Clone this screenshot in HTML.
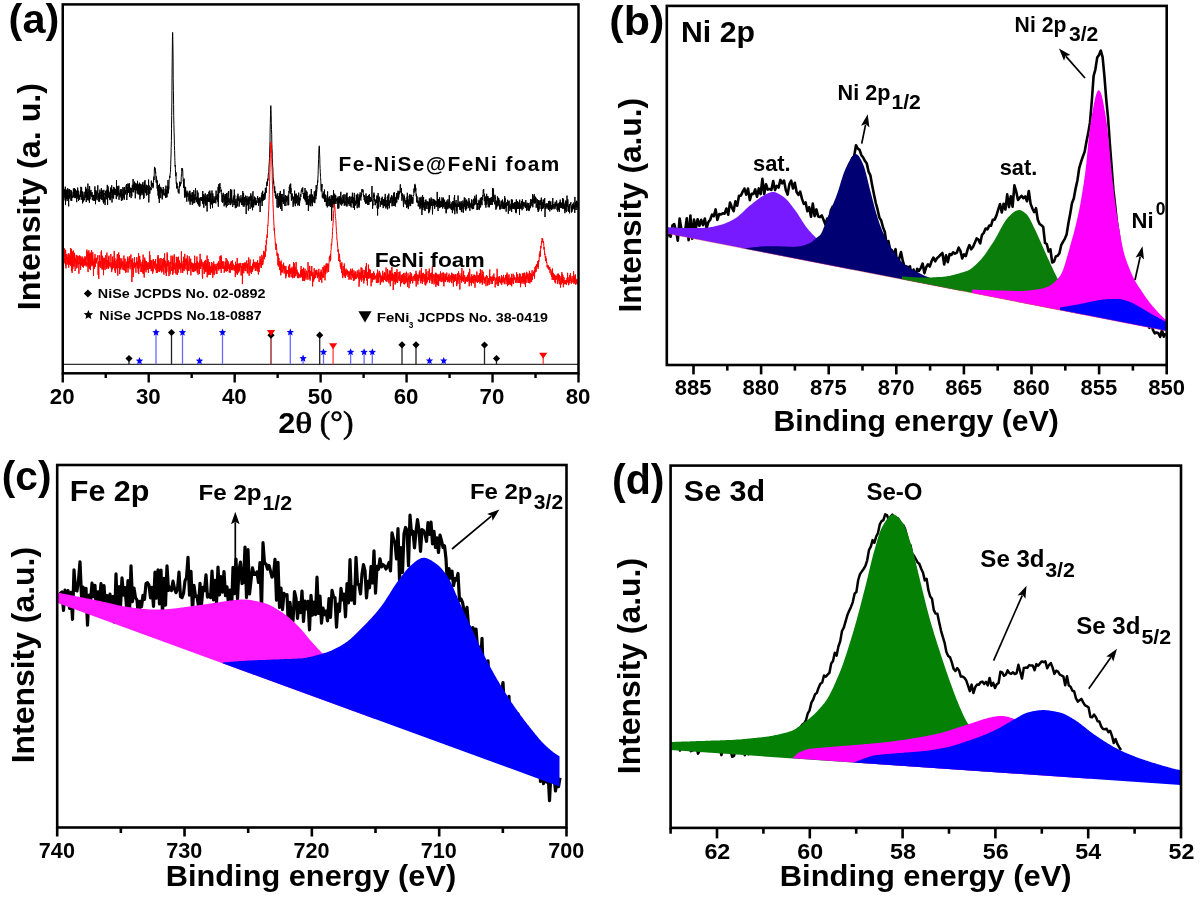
<!DOCTYPE html>
<html><head><meta charset="utf-8"><style>html,body{margin:0;padding:0;background:#fff;}svg{display:block;filter:blur(0.45px);}</style></head>
<body><svg width="1200" height="898" viewBox="0 0 1200 898">
<rect width="1200" height="898" fill="#fff"/>
<clipPath id="ca"><rect x="62.8" y="4.4" width="515.8" height="368.9"/></clipPath>
<g clip-path="url(#ca)">
<path d="M63.8,188.9 L63.9,200.4 L64.1,191.3 L64.3,193.9 L64.4,194.7 L64.6,191.9 L64.8,189.2 L64.9,197.8 L65.1,196.6 L65.3,186.7 L65.5,205.1 L65.6,199.2 L65.8,191.8 L66.0,199.0 L66.1,193.1 L66.3,194.8 L66.5,198.5 L66.6,189.7 L66.8,197.6 L67.0,201.1 L67.2,200.8 L67.3,193.8 L67.5,199.0 L67.7,188.2 L67.8,194.5 L68.0,197.1 L68.2,189.4 L68.3,194.8 L68.5,202.5 L68.7,206.4 L68.9,195.1 L69.0,198.7 L69.2,191.1 L69.4,190.0 L69.5,189.1 L69.7,197.5 L69.9,198.4 L70.0,192.4 L70.2,189.9 L70.4,196.3 L70.6,196.5 L70.7,194.6 L70.9,200.6 L71.1,194.8 L71.2,194.9 L71.4,190.5 L71.6,195.8 L71.7,201.0 L71.9,195.5 L72.1,195.5 L72.3,197.1 L72.4,196.4 L72.6,197.5 L72.8,197.5 L72.9,197.9 L73.1,191.8 L73.3,196.5 L73.4,188.4 L73.6,196.4 L73.8,189.8 L74.0,194.9 L74.1,197.3 L74.3,193.5 L74.5,195.7 L74.6,188.2 L74.8,191.6 L75.0,198.2 L75.1,190.3 L75.3,198.0 L75.5,189.3 L75.7,191.4 L75.8,190.6 L76.0,195.3 L76.2,197.5 L76.3,190.7 L76.5,194.5 L76.7,202.2 L76.8,193.9 L77.0,191.8 L77.2,196.9 L77.4,194.3 L77.5,192.3 L77.7,187.6 L77.9,198.8 L78.0,192.8 L78.2,195.3 L78.4,190.7 L78.5,200.8 L78.7,198.5 L78.9,199.5 L79.1,194.8 L79.2,197.3 L79.4,199.1 L79.6,199.6 L79.7,196.6 L79.9,195.0 L80.1,193.7 L80.2,192.1 L80.4,191.2 L80.6,196.8 L80.8,194.2 L80.9,186.8 L81.1,194.6 L81.3,199.8 L81.4,194.1 L81.6,187.4 L81.8,194.7 L81.9,198.6 L82.1,196.1 L82.3,193.4 L82.5,191.5 L82.6,203.4 L82.8,194.8 L83.0,198.7 L83.1,196.9 L83.3,198.6 L83.5,201.5 L83.6,198.8 L83.8,195.6 L84.0,192.5 L84.2,191.8 L84.3,195.1 L84.5,200.2 L84.7,196.5 L84.8,195.5 L85.0,196.3 L85.2,195.4 L85.3,197.6 L85.5,190.5 L85.7,186.8 L85.9,193.4 L86.0,190.3 L86.2,202.1 L86.4,194.6 L86.5,194.2 L86.7,188.7 L86.9,196.4 L87.0,192.6 L87.2,200.0 L87.4,198.8 L87.6,191.9 L87.7,197.0 L87.9,183.6 L88.1,192.4 L88.2,200.5 L88.4,198.6 L88.6,196.0 L88.7,195.1 L88.9,189.2 L89.1,189.4 L89.3,196.1 L89.4,202.7 L89.6,186.0 L89.8,197.9 L89.9,197.7 L90.1,199.2 L90.3,191.5 L90.4,192.9 L90.6,195.4 L90.8,190.8 L91.0,189.9 L91.1,191.4 L91.3,194.9 L91.5,196.7 L91.6,195.1 L91.8,195.5 L92.0,192.2 L92.1,192.1 L92.3,199.9 L92.5,194.9 L92.7,194.8 L92.8,199.1 L93.0,200.4 L93.2,200.5 L93.3,196.8 L93.5,194.9 L93.7,196.3 L93.8,195.9 L94.0,201.0 L94.2,196.3 L94.4,197.8 L94.5,195.0 L94.7,200.9 L94.9,186.4 L95.0,196.7 L95.2,198.3 L95.4,190.2 L95.5,204.2 L95.7,194.4 L95.9,194.4 L96.1,190.5 L96.2,198.8 L96.4,196.0 L96.6,192.5 L96.7,196.0 L96.9,197.9 L97.1,200.2 L97.2,195.9 L97.4,190.9 L97.6,192.7 L97.8,185.3 L97.9,191.9 L98.1,198.1 L98.3,197.0 L98.4,194.5 L98.6,193.5 L98.8,201.7 L98.9,196.2 L99.1,198.8 L99.3,196.6 L99.5,192.1 L99.6,201.5 L99.8,189.7 L100.0,189.9 L100.1,193.1 L100.3,191.9 L100.5,192.6 L100.6,192.4 L100.8,199.1 L101.0,195.2 L101.2,196.4 L101.3,188.2 L101.5,191.3 L101.7,199.5 L101.8,189.8 L102.0,199.9 L102.2,190.5 L102.3,196.1 L102.5,191.3 L102.7,195.7 L102.9,191.0 L103.0,193.7 L103.2,201.9 L103.4,193.2 L103.5,203.4 L103.7,192.8 L103.9,189.8 L104.0,195.1 L104.2,193.0 L104.4,202.2 L104.6,198.4 L104.7,199.7 L104.9,197.4 L105.1,205.1 L105.2,198.0 L105.4,196.9 L105.6,191.1 L105.7,190.8 L105.9,195.4 L106.1,198.8 L106.3,199.3 L106.4,190.6 L106.6,196.8 L106.8,195.4 L106.9,189.8 L107.1,190.3 L107.3,184.9 L107.4,195.6 L107.6,204.9 L107.8,190.2 L108.0,194.5 L108.1,186.4 L108.3,191.2 L108.5,197.6 L108.6,190.0 L108.8,194.2 L109.0,192.8 L109.1,192.7 L109.3,195.1 L109.5,196.3 L109.7,199.5 L109.8,197.8 L110.0,191.9 L110.2,200.2 L110.3,199.5 L110.5,187.6 L110.7,197.0 L110.8,197.6 L111.0,198.2 L111.2,196.4 L111.4,188.6 L111.5,192.9 L111.7,185.3 L111.9,193.4 L112.0,202.5 L112.2,196.8 L112.4,197.5 L112.5,191.8 L112.7,189.6 L112.9,189.4 L113.1,194.4 L113.2,190.5 L113.4,191.1 L113.6,198.6 L113.7,186.9 L113.9,188.2 L114.1,191.6 L114.2,193.3 L114.4,193.2 L114.6,187.8 L114.8,194.5 L114.9,193.1 L115.1,195.1 L115.3,189.0 L115.4,194.6 L115.6,194.5 L115.8,190.7 L115.9,192.6 L116.1,191.1 L116.3,199.1 L116.5,180.3 L116.6,187.3 L116.8,186.2 L117.0,191.8 L117.1,190.5 L117.3,191.6 L117.5,196.3 L117.6,186.4 L117.8,189.7 L118.0,192.3 L118.2,188.1 L118.3,194.7 L118.5,194.5 L118.7,190.1 L118.8,185.7 L119.0,199.8 L119.2,195.0 L119.3,194.8 L119.5,193.3 L119.7,192.9 L119.9,196.4 L120.0,192.8 L120.2,190.2 L120.4,195.8 L120.5,193.1 L120.7,189.6 L120.9,189.0 L121.0,197.6 L121.2,195.3 L121.4,200.9 L121.6,190.4 L121.7,189.4 L121.9,194.2 L122.1,198.2 L122.2,194.9 L122.4,194.2 L122.6,200.2 L122.7,189.1 L122.9,187.0 L123.1,189.0 L123.3,190.8 L123.4,193.6 L123.6,196.3 L123.8,193.6 L123.9,198.2 L124.1,188.3 L124.3,199.7 L124.4,187.1 L124.6,191.6 L124.8,187.6 L125.0,192.9 L125.1,191.6 L125.3,193.5 L125.5,194.4 L125.6,190.3 L125.8,190.9 L126.0,192.1 L126.1,185.5 L126.3,187.9 L126.5,184.1 L126.7,190.8 L126.8,200.0 L127.0,193.7 L127.2,187.0 L127.3,187.5 L127.5,194.5 L127.7,188.4 L127.8,183.6 L128.0,186.0 L128.2,185.8 L128.4,185.8 L128.5,192.8 L128.7,190.3 L128.9,183.7 L129.0,187.6 L129.2,185.0 L129.4,184.6 L129.5,183.3 L129.7,196.9 L129.9,188.2 L130.1,191.8 L130.2,193.0 L130.4,187.7 L130.6,191.5 L130.7,191.5 L130.9,190.1 L131.1,198.1 L131.2,190.2 L131.4,188.0 L131.6,191.6 L131.8,196.3 L131.9,193.0 L132.1,186.8 L132.3,185.2 L132.4,184.8 L132.6,185.9 L132.8,190.2 L132.9,192.1 L133.1,179.1 L133.3,188.5 L133.5,183.9 L133.6,191.3 L133.8,192.3 L134.0,185.2 L134.1,186.5 L134.3,184.4 L134.5,190.0 L134.6,181.6 L134.8,183.6 L135.0,185.5 L135.2,193.4 L135.3,198.3 L135.5,188.4 L135.7,183.2 L135.8,188.6 L136.0,184.7 L136.2,190.2 L136.3,183.7 L136.5,186.8 L136.7,188.2 L136.9,190.5 L137.0,188.0 L137.2,193.6 L137.4,188.8 L137.5,180.8 L137.7,192.2 L137.9,187.1 L138.0,185.6 L138.2,194.6 L138.4,184.3 L138.6,188.7 L138.7,185.5 L138.9,194.0 L139.1,186.9 L139.2,189.4 L139.4,182.7 L139.6,194.4 L139.7,184.1 L139.9,199.4 L140.1,193.2 L140.3,193.7 L140.4,196.1 L140.6,183.8 L140.8,190.3 L140.9,189.2 L141.1,190.4 L141.3,193.3 L141.4,189.2 L141.6,185.4 L141.8,188.4 L142.0,195.2 L142.1,184.0 L142.3,189.2 L142.5,184.9 L142.6,193.5 L142.8,182.2 L143.0,187.6 L143.1,188.5 L143.3,189.5 L143.5,198.8 L143.7,195.5 L143.8,184.9 L144.0,198.1 L144.2,184.3 L144.3,181.5 L144.5,183.1 L144.7,190.1 L144.8,191.5 L145.0,180.2 L145.2,191.2 L145.4,188.3 L145.5,192.3 L145.7,187.9 L145.9,193.2 L146.0,191.8 L146.2,184.7 L146.4,195.5 L146.5,190.4 L146.7,192.6 L146.9,194.8 L147.1,185.6 L147.2,189.3 L147.4,186.3 L147.6,185.8 L147.7,190.7 L147.9,191.0 L148.1,195.0 L148.2,195.2 L148.4,189.5 L148.6,179.6 L148.8,202.4 L148.9,198.1 L149.1,189.0 L149.3,185.6 L149.4,187.6 L149.6,190.4 L149.8,193.7 L149.9,192.9 L150.1,190.7 L150.3,187.9 L150.5,189.4 L150.6,187.4 L150.8,188.8 L151.0,187.9 L151.1,190.2 L151.3,180.7 L151.5,186.4 L151.6,186.4 L151.8,183.0 L152.0,186.4 L152.2,182.8 L152.3,183.9 L152.5,184.9 L152.7,184.6 L152.8,182.9 L153.0,188.2 L153.2,184.3 L153.3,186.5 L153.5,182.6 L153.7,178.6 L153.9,176.6 L154.0,180.0 L154.2,174.9 L154.4,169.5 L154.5,166.9 L154.7,170.7 L154.9,167.7 L155.0,168.8 L155.2,168.5 L155.4,170.2 L155.6,172.7 L155.7,172.0 L155.9,177.1 L156.1,181.8 L156.2,182.6 L156.4,176.4 L156.6,178.7 L156.7,179.6 L156.9,184.1 L157.1,188.6 L157.3,187.5 L157.4,180.6 L157.6,187.6 L157.8,190.8 L157.9,186.6 L158.1,195.7 L158.3,186.5 L158.4,193.7 L158.6,198.5 L158.8,185.0 L159.0,188.9 L159.1,192.5 L159.3,202.9 L159.5,183.8 L159.6,193.1 L159.8,192.2 L160.0,189.6 L160.1,188.2 L160.3,189.5 L160.5,190.5 L160.7,186.8 L160.8,198.1 L161.0,187.7 L161.2,190.4 L161.3,189.6 L161.5,190.7 L161.7,192.7 L161.8,189.4 L162.0,191.6 L162.2,199.4 L162.4,196.8 L162.5,191.5 L162.7,196.2 L162.9,189.6 L163.0,193.6 L163.2,187.1 L163.4,188.2 L163.5,189.3 L163.7,194.7 L163.9,193.6 L164.1,194.8 L164.2,193.2 L164.4,194.0 L164.6,194.2 L164.7,195.5 L164.9,193.1 L165.1,188.8 L165.2,189.2 L165.4,196.9 L165.6,197.6 L165.8,194.2 L165.9,185.6 L166.1,197.7 L166.3,192.8 L166.4,191.1 L166.6,191.3 L166.8,189.6 L166.9,197.3 L167.1,196.7 L167.3,186.3 L167.5,189.2 L167.6,190.6 L167.8,193.6 L168.0,180.1 L168.1,191.3 L168.3,193.2 L168.5,185.8 L168.6,186.0 L168.8,189.4 L169.0,185.7 L169.2,179.5 L169.3,179.0 L169.5,178.3 L169.7,175.9 L169.8,178.0 L170.0,174.9 L170.2,174.0 L170.3,172.7 L170.5,171.1 L170.7,164.8 L170.9,158.2 L171.0,156.0 L171.2,147.7 L171.4,140.5 L171.5,128.2 L171.7,115.7 L171.9,99.0 L172.0,80.1 L172.2,61.3 L172.4,41.6 L172.6,32.4 L172.7,33.6 L172.9,44.1 L173.1,58.8 L173.2,78.6 L173.4,90.5 L173.6,104.3 L173.7,115.3 L173.9,124.5 L174.1,132.3 L174.3,139.1 L174.4,145.4 L174.6,150.3 L174.8,157.5 L174.9,160.7 L175.1,166.5 L175.3,165.1 L175.4,169.8 L175.6,172.9 L175.8,176.2 L176.0,172.3 L176.1,181.8 L176.3,183.7 L176.5,184.4 L176.6,181.8 L176.8,188.4 L177.0,183.2 L177.1,188.3 L177.3,185.9 L177.5,186.5 L177.7,186.4 L177.8,187.2 L178.0,191.1 L178.2,192.4 L178.3,192.5 L178.5,190.9 L178.7,190.1 L178.8,189.4 L179.0,193.6 L179.2,186.2 L179.4,185.5 L179.5,187.4 L179.7,181.7 L179.9,185.8 L180.0,186.0 L180.2,182.5 L180.4,183.2 L180.5,186.2 L180.7,182.6 L180.9,182.3 L181.1,183.5 L181.2,177.7 L181.4,174.8 L181.6,175.3 L181.7,174.1 L181.9,168.1 L182.1,170.7 L182.2,168.5 L182.4,168.6 L182.6,169.0 L182.8,172.0 L182.9,176.6 L183.1,178.2 L183.3,181.2 L183.4,180.2 L183.6,187.2 L183.8,188.0 L183.9,185.6 L184.1,178.6 L184.3,187.9 L184.5,197.5 L184.6,189.1 L184.8,186.5 L185.0,196.4 L185.1,188.9 L185.3,193.3 L185.5,194.7 L185.6,187.1 L185.8,193.3 L186.0,197.6 L186.2,192.3 L186.3,196.3 L186.5,194.0 L186.7,198.3 L186.8,201.7 L187.0,190.7 L187.2,194.0 L187.3,196.8 L187.5,193.1 L187.7,192.5 L187.9,194.5 L188.0,195.0 L188.2,193.6 L188.4,197.6 L188.5,199.6 L188.7,199.5 L188.9,199.3 L189.0,201.5 L189.2,191.4 L189.4,196.5 L189.6,197.8 L189.7,199.2 L189.9,190.7 L190.1,204.7 L190.2,193.7 L190.4,198.4 L190.6,200.3 L190.7,201.8 L190.9,194.7 L191.1,195.4 L191.3,199.1 L191.4,200.0 L191.6,201.3 L191.8,197.5 L191.9,194.9 L192.1,192.4 L192.3,204.8 L192.4,192.3 L192.6,200.7 L192.8,199.0 L193.0,201.0 L193.1,201.8 L193.3,203.4 L193.5,197.8 L193.6,199.6 L193.8,190.2 L194.0,198.3 L194.1,194.4 L194.3,197.5 L194.5,203.1 L194.7,198.6 L194.8,202.6 L195.0,197.4 L195.2,199.8 L195.3,196.6 L195.5,188.0 L195.7,195.4 L195.8,197.2 L196.0,199.0 L196.2,198.4 L196.4,197.9 L196.5,202.2 L196.7,200.9 L196.9,196.8 L197.0,202.0 L197.2,190.4 L197.4,197.3 L197.5,197.9 L197.7,203.8 L197.9,196.4 L198.1,192.6 L198.2,199.3 L198.4,205.4 L198.6,197.7 L198.7,198.2 L198.9,197.8 L199.1,198.8 L199.2,203.9 L199.4,206.6 L199.6,200.6 L199.8,198.3 L199.9,206.2 L200.1,199.1 L200.3,199.0 L200.4,197.3 L200.6,197.5 L200.8,199.7 L200.9,197.6 L201.1,200.5 L201.3,199.2 L201.5,201.0 L201.6,197.3 L201.8,198.0 L202.0,199.8 L202.1,199.1 L202.3,199.3 L202.5,203.6 L202.6,194.5 L202.8,191.1 L203.0,201.8 L203.2,197.9 L203.3,204.4 L203.5,198.6 L203.7,194.2 L203.8,207.8 L204.0,200.6 L204.2,195.4 L204.3,195.9 L204.5,201.2 L204.7,196.3 L204.9,200.6 L205.0,203.7 L205.2,193.4 L205.4,197.6 L205.5,200.9 L205.7,205.7 L205.9,202.8 L206.0,197.2 L206.2,204.9 L206.4,197.6 L206.6,198.4 L206.7,200.6 L206.9,194.7 L207.1,211.5 L207.2,203.9 L207.4,200.0 L207.6,196.8 L207.7,194.4 L207.9,200.6 L208.1,201.9 L208.3,199.8 L208.4,198.3 L208.6,201.4 L208.8,198.9 L208.9,191.7 L209.1,201.8 L209.3,200.1 L209.4,202.1 L209.6,196.1 L209.8,190.6 L210.0,194.1 L210.1,200.4 L210.3,205.4 L210.5,208.6 L210.6,200.4 L210.8,193.3 L211.0,197.8 L211.1,201.0 L211.3,200.9 L211.5,199.5 L211.7,204.5 L211.8,195.6 L212.0,190.5 L212.2,195.6 L212.3,194.5 L212.5,208.1 L212.7,198.4 L212.8,193.4 L213.0,201.6 L213.2,203.1 L213.4,199.3 L213.5,199.9 L213.7,203.2 L213.9,201.1 L214.0,196.3 L214.2,201.4 L214.4,202.7 L214.5,200.3 L214.7,202.4 L214.9,201.2 L215.1,197.9 L215.2,198.3 L215.4,201.2 L215.6,196.6 L215.7,203.2 L215.9,203.4 L216.1,190.6 L216.2,198.2 L216.4,195.4 L216.6,195.8 L216.8,198.7 L216.9,197.3 L217.1,200.0 L217.3,198.8 L217.4,198.8 L217.6,194.1 L217.8,195.5 L217.9,201.8 L218.1,186.8 L218.3,206.7 L218.5,192.7 L218.6,198.0 L218.8,184.1 L219.0,190.4 L219.1,193.2 L219.3,189.6 L219.5,190.6 L219.6,183.8 L219.8,183.7 L220.0,183.1 L220.2,186.5 L220.3,187.3 L220.5,187.0 L220.7,188.0 L220.8,189.4 L221.0,191.9 L221.2,189.6 L221.3,193.6 L221.5,194.2 L221.7,193.4 L221.9,193.9 L222.0,201.9 L222.2,194.6 L222.4,198.8 L222.5,202.7 L222.7,200.6 L222.9,198.1 L223.0,202.1 L223.2,192.8 L223.4,193.7 L223.6,197.1 L223.7,197.9 L223.9,198.5 L224.1,206.3 L224.2,205.7 L224.4,198.9 L224.6,200.2 L224.7,195.6 L224.9,200.5 L225.1,194.0 L225.3,204.9 L225.4,197.4 L225.6,201.7 L225.8,194.3 L225.9,205.1 L226.1,202.0 L226.3,207.4 L226.4,199.9 L226.6,193.2 L226.8,196.6 L227.0,193.0 L227.1,206.0 L227.3,197.3 L227.5,196.8 L227.6,202.2 L227.8,200.9 L228.0,201.8 L228.1,197.8 L228.3,191.9 L228.5,194.5 L228.7,191.1 L228.8,205.0 L229.0,203.5 L229.2,198.4 L229.3,202.4 L229.5,202.6 L229.7,202.5 L229.8,202.1 L230.0,203.5 L230.2,200.3 L230.4,191.1 L230.5,189.0 L230.7,205.1 L230.9,202.4 L231.0,190.0 L231.2,200.8 L231.4,196.6 L231.5,197.9 L231.7,189.7 L231.9,203.2 L232.1,199.8 L232.2,203.4 L232.4,204.5 L232.6,205.3 L232.7,206.7 L232.9,201.3 L233.1,201.0 L233.2,197.6 L233.4,202.3 L233.6,199.2 L233.8,195.5 L233.9,205.0 L234.1,203.0 L234.3,189.5 L234.4,192.7 L234.6,199.3 L234.8,194.8 L234.9,205.1 L235.1,201.0 L235.3,208.2 L235.5,204.0 L235.6,205.6 L235.8,199.2 L236.0,202.8 L236.1,201.3 L236.3,203.5 L236.5,207.6 L236.6,206.0 L236.8,202.5 L237.0,198.4 L237.2,200.8 L237.3,195.8 L237.5,201.6 L237.7,206.4 L237.8,197.9 L238.0,193.7 L238.2,200.0 L238.3,198.3 L238.5,200.3 L238.7,198.0 L238.9,200.7 L239.0,196.3 L239.2,206.6 L239.4,199.4 L239.5,202.4 L239.7,203.4 L239.9,199.7 L240.0,202.2 L240.2,199.4 L240.4,198.6 L240.6,199.5 L240.7,202.3 L240.9,195.3 L241.1,196.7 L241.2,197.2 L241.4,198.1 L241.6,205.0 L241.7,200.3 L241.9,199.2 L242.1,201.0 L242.3,204.6 L242.4,197.4 L242.6,204.5 L242.8,191.1 L242.9,196.9 L243.1,206.3 L243.3,206.6 L243.4,201.2 L243.6,193.0 L243.8,203.7 L244.0,198.8 L244.1,206.6 L244.3,205.2 L244.5,203.5 L244.6,197.1 L244.8,205.1 L245.0,199.5 L245.1,199.6 L245.3,198.8 L245.5,195.6 L245.7,202.5 L245.8,203.9 L246.0,203.9 L246.2,214.1 L246.3,199.2 L246.5,205.2 L246.7,197.9 L246.8,199.8 L247.0,195.9 L247.2,205.4 L247.4,201.6 L247.5,200.5 L247.7,200.1 L247.9,204.3 L248.0,198.6 L248.2,202.2 L248.4,210.6 L248.5,200.0 L248.7,198.1 L248.9,196.6 L249.1,203.8 L249.2,200.9 L249.4,197.6 L249.6,197.3 L249.7,200.7 L249.9,196.6 L250.1,209.0 L250.2,199.9 L250.4,199.9 L250.6,200.2 L250.8,193.4 L250.9,194.9 L251.1,199.2 L251.3,200.5 L251.4,195.7 L251.6,207.3 L251.8,202.4 L251.9,205.7 L252.1,205.2 L252.3,199.7 L252.5,210.3 L252.6,201.1 L252.8,193.1 L253.0,191.3 L253.1,200.6 L253.3,204.0 L253.5,200.9 L253.6,207.4 L253.8,199.4 L254.0,202.8 L254.2,203.5 L254.3,196.5 L254.5,201.8 L254.7,202.0 L254.8,204.9 L255.0,205.3 L255.2,204.4 L255.3,197.5 L255.5,203.4 L255.7,204.7 L255.9,200.6 L256.0,203.4 L256.2,203.5 L256.4,205.1 L256.5,200.7 L256.7,202.3 L256.9,201.2 L257.0,200.7 L257.2,198.0 L257.4,199.1 L257.6,196.0 L257.7,199.6 L257.9,203.0 L258.1,202.7 L258.2,203.2 L258.4,199.8 L258.6,205.7 L258.7,198.4 L258.9,203.2 L259.1,201.8 L259.3,197.3 L259.4,197.4 L259.6,203.0 L259.8,200.2 L259.9,201.1 L260.1,212.0 L260.3,202.2 L260.4,200.4 L260.6,202.8 L260.8,197.6 L261.0,199.1 L261.1,201.5 L261.3,196.6 L261.5,195.0 L261.6,198.9 L261.8,199.9 L262.0,192.6 L262.1,206.0 L262.3,198.8 L262.5,201.1 L262.7,190.8 L262.8,193.8 L263.0,198.7 L263.2,197.2 L263.3,200.6 L263.5,194.7 L263.7,194.1 L263.8,198.6 L264.0,199.6 L264.2,200.0 L264.4,196.2 L264.5,196.8 L264.7,192.6 L264.9,199.3 L265.0,198.1 L265.2,197.4 L265.4,187.8 L265.5,195.2 L265.7,189.4 L265.9,192.4 L266.1,191.3 L266.2,192.8 L266.4,187.8 L266.6,186.5 L266.7,183.8 L266.9,182.4 L267.1,185.9 L267.2,181.2 L267.4,183.8 L267.6,180.3 L267.8,178.7 L267.9,180.6 L268.1,178.9 L268.3,174.1 L268.4,174.0 L268.6,172.4 L268.8,171.2 L268.9,167.2 L269.1,164.8 L269.3,161.8 L269.5,158.6 L269.6,153.9 L269.8,146.7 L270.0,142.0 L270.1,132.8 L270.3,123.3 L270.5,114.7 L270.6,109.9 L270.8,105.6 L271.0,109.8 L271.2,115.2 L271.3,122.8 L271.5,129.4 L271.7,134.2 L271.8,142.0 L272.0,148.7 L272.2,151.1 L272.3,157.3 L272.5,163.3 L272.7,166.8 L272.9,167.9 L273.0,172.9 L273.2,176.6 L273.4,183.3 L273.5,180.3 L273.7,181.0 L273.9,185.4 L274.0,187.1 L274.2,189.0 L274.4,192.7 L274.6,189.4 L274.7,186.4 L274.9,191.4 L275.1,192.1 L275.2,195.8 L275.4,196.1 L275.6,191.4 L275.7,196.9 L275.9,198.2 L276.1,194.6 L276.3,198.9 L276.4,196.6 L276.6,196.9 L276.8,196.1 L276.9,199.8 L277.1,207.5 L277.3,198.2 L277.4,193.4 L277.6,197.0 L277.8,195.9 L278.0,199.4 L278.1,197.8 L278.3,207.9 L278.5,201.4 L278.6,205.7 L278.8,196.2 L279.0,198.2 L279.1,206.8 L279.3,192.9 L279.5,199.8 L279.7,193.5 L279.8,205.2 L280.0,194.1 L280.2,198.3 L280.3,190.9 L280.5,193.2 L280.7,209.0 L280.8,199.0 L281.0,206.0 L281.2,198.8 L281.4,194.2 L281.5,200.6 L281.7,200.5 L281.9,211.0 L282.0,195.8 L282.2,193.9 L282.4,197.2 L282.5,201.0 L282.7,202.0 L282.9,197.0 L283.1,198.6 L283.2,202.0 L283.4,204.0 L283.6,197.6 L283.7,200.4 L283.9,189.3 L284.1,196.1 L284.2,201.5 L284.4,199.8 L284.6,199.1 L284.8,205.9 L284.9,198.6 L285.1,195.5 L285.3,200.4 L285.4,200.4 L285.6,195.2 L285.8,203.3 L285.9,205.9 L286.1,197.1 L286.3,196.0 L286.5,198.9 L286.6,201.6 L286.8,196.8 L287.0,196.1 L287.1,196.4 L287.3,199.3 L287.5,199.0 L287.6,197.3 L287.8,201.9 L288.0,205.3 L288.2,194.7 L288.3,199.9 L288.5,196.6 L288.7,205.1 L288.8,191.2 L289.0,192.1 L289.2,192.6 L289.3,186.8 L289.5,189.5 L289.7,191.3 L289.9,184.6 L290.0,188.9 L290.2,193.9 L290.4,187.7 L290.5,187.7 L290.7,183.6 L290.9,192.1 L291.0,188.2 L291.2,196.2 L291.4,200.7 L291.6,197.8 L291.7,193.6 L291.9,199.2 L292.1,195.6 L292.2,193.6 L292.4,196.1 L292.6,199.1 L292.7,197.1 L292.9,200.6 L293.1,206.8 L293.3,201.2 L293.4,201.9 L293.6,196.7 L293.8,204.3 L293.9,197.5 L294.1,203.2 L294.3,196.5 L294.4,200.4 L294.6,190.7 L294.8,198.2 L295.0,196.4 L295.1,195.8 L295.3,206.2 L295.5,193.9 L295.6,199.1 L295.8,199.1 L296.0,201.7 L296.1,203.5 L296.3,193.6 L296.5,197.6 L296.7,196.9 L296.8,202.2 L297.0,203.1 L297.2,197.9 L297.3,197.4 L297.5,195.6 L297.7,200.7 L297.8,205.5 L298.0,200.6 L298.2,196.4 L298.4,195.8 L298.5,196.2 L298.7,192.6 L298.9,204.9 L299.0,198.6 L299.2,196.9 L299.4,206.0 L299.5,198.4 L299.7,202.6 L299.9,197.9 L300.1,200.4 L300.2,196.3 L300.4,194.2 L300.6,196.3 L300.7,196.6 L300.9,197.0 L301.1,193.3 L301.2,191.1 L301.4,190.0 L301.6,191.3 L301.8,188.5 L301.9,188.7 L302.1,191.2 L302.3,191.7 L302.4,192.0 L302.6,188.9 L302.8,187.4 L302.9,193.6 L303.1,193.9 L303.3,193.0 L303.5,195.6 L303.6,198.5 L303.8,195.4 L304.0,198.0 L304.1,193.8 L304.3,196.6 L304.5,194.7 L304.6,192.7 L304.8,199.8 L305.0,188.0 L305.2,198.3 L305.3,201.6 L305.5,200.4 L305.7,193.3 L305.8,200.0 L306.0,192.4 L306.2,190.6 L306.3,204.8 L306.5,200.1 L306.7,204.0 L306.9,195.4 L307.0,191.8 L307.2,195.6 L307.4,204.6 L307.5,203.2 L307.7,195.9 L307.9,199.3 L308.0,199.5 L308.2,199.1 L308.4,210.9 L308.6,200.2 L308.7,206.6 L308.9,199.3 L309.1,205.2 L309.2,195.8 L309.4,198.0 L309.6,201.3 L309.7,197.8 L309.9,194.5 L310.1,199.3 L310.3,197.9 L310.4,205.8 L310.6,204.1 L310.8,194.6 L310.9,206.3 L311.1,199.6 L311.3,189.0 L311.4,199.1 L311.6,202.9 L311.8,202.2 L312.0,197.5 L312.1,199.6 L312.3,194.5 L312.5,206.1 L312.6,196.0 L312.8,195.7 L313.0,196.3 L313.1,199.3 L313.3,201.4 L313.5,197.1 L313.7,198.4 L313.8,196.8 L314.0,202.5 L314.2,198.4 L314.3,191.3 L314.5,202.3 L314.7,198.0 L314.8,203.2 L315.0,194.0 L315.2,194.1 L315.4,194.8 L315.5,190.2 L315.7,193.2 L315.9,199.3 L316.0,192.4 L316.2,185.1 L316.4,196.0 L316.5,192.3 L316.7,192.7 L316.9,189.3 L317.1,188.5 L317.2,186.7 L317.4,185.0 L317.6,180.5 L317.7,182.7 L317.9,178.0 L318.1,174.8 L318.2,170.4 L318.4,164.9 L318.6,159.7 L318.8,153.0 L318.9,149.8 L319.1,146.7 L319.3,145.8 L319.4,146.8 L319.6,154.2 L319.8,158.1 L319.9,163.8 L320.1,168.5 L320.3,172.4 L320.5,176.2 L320.6,177.7 L320.8,181.3 L321.0,189.8 L321.1,189.6 L321.3,191.5 L321.5,189.9 L321.6,184.8 L321.8,187.2 L322.0,184.0 L322.2,196.4 L322.3,197.6 L322.5,194.6 L322.7,196.0 L322.8,196.5 L323.0,195.3 L323.2,198.6 L323.3,193.0 L323.5,195.3 L323.7,196.7 L323.9,191.4 L324.0,194.1 L324.2,199.5 L324.4,199.5 L324.5,189.5 L324.7,201.9 L324.9,200.1 L325.0,201.8 L325.2,198.9 L325.4,201.4 L325.6,194.6 L325.7,198.7 L325.9,195.6 L326.1,197.7 L326.2,204.1 L326.4,205.9 L326.6,200.0 L326.7,198.3 L326.9,203.0 L327.1,201.8 L327.3,207.4 L327.4,202.6 L327.6,191.4 L327.8,200.5 L327.9,199.1 L328.1,197.3 L328.3,200.9 L328.4,200.6 L328.6,199.1 L328.8,206.2 L329.0,201.9 L329.1,202.0 L329.3,201.1 L329.5,205.2 L329.6,196.3 L329.8,205.2 L330.0,199.7 L330.1,206.2 L330.3,205.5 L330.5,206.9 L330.7,198.9 L330.8,201.7 L331.0,202.0 L331.2,195.1 L331.3,199.4 L331.5,198.0 L331.7,220.6 L331.8,207.2 L332.0,197.9 L332.2,198.7 L332.4,195.7 L332.5,201.7 L332.7,203.8 L332.9,207.6 L333.0,195.9 L333.2,204.3 L333.4,200.2 L333.5,190.1 L333.7,199.4 L333.9,197.9 L334.1,202.5 L334.2,200.8 L334.4,205.3 L334.6,198.8 L334.7,193.7 L334.9,197.0 L335.1,202.1 L335.2,195.2 L335.4,197.9 L335.6,202.8 L335.8,195.6 L335.9,204.0 L336.1,202.1 L336.3,198.6 L336.4,200.6 L336.6,198.9 L336.8,199.3 L336.9,199.6 L337.1,200.9 L337.3,200.5 L337.5,198.0 L337.6,199.2 L337.8,208.7 L338.0,196.6 L338.1,200.2 L338.3,205.4 L338.5,204.6 L338.6,198.1 L338.8,208.4 L339.0,207.5 L339.2,199.6 L339.3,196.1 L339.5,203.2 L339.7,200.1 L339.8,199.7 L340.0,197.8 L340.2,198.6 L340.3,201.5 L340.5,204.2 L340.7,193.0 L340.9,191.8 L341.0,204.5 L341.2,197.6 L341.4,203.5 L341.5,201.2 L341.7,205.6 L341.9,204.3 L342.0,199.8 L342.2,200.2 L342.4,202.1 L342.6,203.7 L342.7,198.5 L342.9,195.1 L343.1,201.2 L343.2,200.7 L343.4,200.3 L343.6,197.1 L343.7,203.1 L343.9,194.3 L344.1,199.0 L344.3,205.8 L344.4,201.5 L344.6,202.4 L344.8,202.6 L344.9,202.5 L345.1,194.5 L345.3,204.7 L345.4,201.4 L345.6,202.7 L345.8,202.0 L346.0,201.1 L346.1,205.5 L346.3,206.3 L346.5,193.8 L346.6,197.9 L346.8,200.2 L347.0,192.7 L347.1,206.4 L347.3,197.9 L347.5,203.0 L347.7,201.7 L347.8,200.1 L348.0,197.1 L348.2,199.5 L348.3,201.2 L348.5,203.9 L348.7,200.1 L348.8,199.4 L349.0,200.0 L349.2,205.8 L349.4,202.0 L349.5,198.3 L349.7,196.1 L349.9,199.3 L350.0,197.4 L350.2,199.3 L350.4,206.0 L350.5,203.5 L350.7,201.7 L350.9,202.4 L351.1,207.4 L351.2,196.6 L351.4,202.6 L351.6,200.1 L351.7,201.4 L351.9,201.1 L352.1,199.7 L352.2,202.9 L352.4,192.7 L352.6,201.9 L352.8,203.4 L352.9,197.2 L353.1,197.2 L353.3,208.0 L353.4,197.5 L353.6,199.4 L353.8,204.6 L353.9,198.5 L354.1,198.3 L354.3,192.9 L354.5,209.7 L354.6,198.1 L354.8,202.2 L355.0,200.5 L355.1,205.8 L355.3,203.3 L355.5,205.0 L355.6,205.1 L355.8,203.8 L356.0,200.8 L356.2,204.1 L356.3,194.7 L356.5,203.9 L356.7,203.2 L356.8,201.7 L357.0,195.6 L357.2,208.2 L357.3,198.0 L357.5,202.8 L357.7,193.6 L357.9,199.7 L358.0,197.9 L358.2,197.4 L358.4,205.8 L358.5,206.7 L358.7,199.9 L358.9,201.2 L359.0,207.7 L359.2,194.5 L359.4,205.2 L359.6,198.2 L359.7,197.1 L359.9,197.6 L360.1,192.4 L360.2,193.1 L360.4,194.3 L360.6,195.9 L360.7,199.8 L360.9,200.5 L361.1,194.9 L361.3,196.5 L361.4,195.7 L361.6,192.5 L361.8,192.8 L361.9,189.4 L362.1,192.0 L362.3,189.4 L362.4,190.3 L362.6,191.6 L362.8,192.2 L363.0,190.7 L363.1,189.7 L363.3,194.8 L363.5,194.0 L363.6,194.8 L363.8,196.9 L364.0,195.3 L364.1,199.7 L364.3,200.0 L364.5,195.6 L364.7,200.4 L364.8,195.9 L365.0,202.1 L365.2,201.9 L365.3,199.8 L365.5,203.2 L365.7,203.8 L365.8,201.8 L366.0,193.5 L366.2,200.8 L366.4,201.1 L366.5,203.4 L366.7,196.8 L366.9,203.1 L367.0,201.9 L367.2,202.1 L367.4,196.1 L367.5,197.5 L367.7,204.9 L367.9,203.8 L368.1,200.5 L368.2,204.9 L368.4,201.8 L368.6,199.3 L368.7,195.0 L368.9,204.7 L369.1,200.4 L369.2,201.8 L369.4,194.3 L369.6,199.0 L369.8,202.1 L369.9,200.1 L370.1,198.3 L370.3,196.9 L370.4,201.8 L370.6,199.7 L370.8,199.8 L370.9,200.0 L371.1,198.7 L371.3,199.9 L371.5,198.8 L371.6,201.2 L371.8,196.0 L372.0,186.0 L372.1,201.3 L372.3,200.6 L372.5,201.8 L372.6,208.7 L372.8,204.0 L373.0,205.4 L373.2,202.8 L373.3,200.8 L373.5,198.3 L373.7,194.4 L373.8,196.0 L374.0,192.6 L374.2,197.1 L374.3,195.4 L374.5,197.7 L374.7,201.3 L374.9,199.8 L375.0,204.7 L375.2,203.7 L375.4,205.2 L375.5,204.6 L375.7,202.4 L375.9,199.5 L376.0,203.1 L376.2,200.5 L376.4,200.7 L376.6,203.0 L376.7,197.4 L376.9,195.5 L377.1,202.7 L377.2,208.1 L377.4,205.7 L377.6,215.5 L377.7,196.4 L377.9,199.2 L378.1,193.0 L378.3,198.4 L378.4,208.6 L378.6,207.6 L378.8,197.9 L378.9,200.4 L379.1,198.6 L379.3,196.7 L379.4,200.8 L379.6,200.5 L379.8,202.0 L380.0,202.7 L380.1,204.3 L380.3,206.8 L380.5,201.4 L380.6,201.0 L380.8,201.8 L381.0,203.4 L381.1,201.3 L381.3,198.1 L381.5,199.9 L381.7,204.5 L381.8,198.0 L382.0,204.8 L382.2,196.7 L382.3,204.1 L382.5,204.0 L382.7,201.1 L382.8,201.8 L383.0,201.0 L383.2,208.1 L383.4,200.3 L383.5,199.2 L383.7,203.3 L383.9,206.0 L384.0,203.2 L384.2,201.4 L384.4,205.8 L384.5,199.2 L384.7,199.1 L384.9,197.4 L385.1,206.5 L385.2,193.9 L385.4,197.3 L385.6,202.9 L385.7,203.6 L385.9,208.5 L386.1,203.6 L386.2,200.2 L386.4,207.2 L386.6,206.0 L386.8,206.4 L386.9,206.0 L387.1,204.0 L387.3,196.8 L387.4,198.2 L387.6,209.4 L387.8,202.3 L387.9,195.4 L388.1,202.3 L388.3,205.7 L388.5,203.6 L388.6,202.2 L388.8,193.6 L389.0,202.4 L389.1,201.7 L389.3,208.3 L389.5,202.2 L389.6,202.0 L389.8,200.5 L390.0,201.7 L390.2,203.2 L390.3,200.3 L390.5,198.9 L390.7,197.6 L390.8,202.6 L391.0,200.8 L391.2,200.9 L391.3,196.5 L391.5,199.1 L391.7,195.1 L391.9,205.5 L392.0,206.3 L392.2,203.5 L392.4,201.5 L392.5,203.6 L392.7,196.5 L392.9,197.0 L393.0,206.0 L393.2,198.0 L393.4,201.5 L393.6,199.2 L393.7,192.8 L393.9,199.1 L394.1,204.4 L394.2,206.0 L394.4,192.2 L394.6,195.6 L394.7,199.0 L394.9,204.9 L395.1,205.2 L395.3,206.3 L395.4,206.5 L395.6,199.0 L395.8,196.9 L395.9,203.4 L396.1,199.1 L396.3,200.0 L396.4,198.4 L396.6,193.1 L396.8,202.4 L397.0,195.6 L397.1,192.9 L397.3,196.2 L397.5,198.6 L397.6,196.9 L397.8,197.1 L398.0,190.7 L398.1,193.9 L398.3,199.5 L398.5,195.0 L398.7,192.8 L398.8,197.4 L399.0,191.5 L399.2,194.3 L399.3,191.6 L399.5,191.0 L399.7,191.4 L399.8,193.3 L400.0,190.1 L400.2,184.8 L400.4,184.3 L400.5,186.8 L400.7,188.1 L400.9,191.5 L401.0,191.0 L401.2,192.6 L401.4,188.2 L401.5,193.9 L401.7,196.4 L401.9,200.8 L402.1,198.7 L402.2,195.3 L402.4,193.4 L402.6,197.6 L402.7,198.1 L402.9,197.9 L403.1,199.2 L403.2,200.7 L403.4,205.8 L403.6,207.1 L403.8,196.3 L403.9,194.5 L404.1,201.4 L404.3,196.0 L404.4,199.7 L404.6,200.3 L404.8,197.9 L404.9,203.6 L405.1,203.2 L405.3,201.6 L405.5,203.4 L405.6,204.4 L405.8,200.3 L406.0,203.6 L406.1,202.1 L406.3,201.6 L406.5,200.0 L406.6,208.0 L406.8,203.0 L407.0,196.8 L407.2,203.7 L407.3,192.8 L407.5,203.0 L407.7,204.8 L407.8,207.2 L408.0,202.8 L408.2,199.5 L408.3,209.1 L408.5,205.8 L408.7,206.8 L408.9,201.2 L409.0,204.4 L409.2,195.7 L409.4,203.8 L409.5,194.5 L409.7,198.3 L409.9,199.8 L410.0,206.0 L410.2,205.2 L410.4,199.7 L410.6,206.1 L410.7,201.9 L410.9,194.5 L411.1,200.1 L411.2,195.2 L411.4,201.4 L411.6,202.3 L411.7,198.2 L411.9,203.4 L412.1,204.0 L412.3,197.0 L412.4,201.6 L412.6,198.9 L412.8,197.8 L412.9,203.6 L413.1,195.1 L413.3,195.3 L413.4,195.2 L413.6,195.8 L413.8,194.8 L414.0,188.4 L414.1,192.6 L414.3,191.8 L414.5,190.6 L414.6,185.7 L414.8,184.3 L415.0,183.9 L415.1,188.6 L415.3,185.2 L415.5,191.2 L415.7,191.2 L415.8,187.9 L416.0,194.8 L416.2,196.2 L416.3,196.5 L416.5,193.8 L416.7,198.1 L416.8,202.2 L417.0,196.2 L417.2,202.6 L417.4,200.6 L417.5,201.5 L417.7,202.6 L417.9,200.5 L418.0,201.3 L418.2,206.3 L418.4,204.6 L418.5,205.2 L418.7,201.5 L418.9,205.0 L419.1,206.5 L419.2,197.4 L419.4,201.0 L419.6,202.5 L419.7,202.7 L419.9,209.2 L420.1,207.0 L420.2,202.3 L420.4,202.5 L420.6,197.8 L420.8,199.4 L420.9,207.9 L421.1,196.8 L421.3,205.3 L421.4,200.5 L421.6,202.0 L421.8,202.8 L421.9,215.0 L422.1,204.4 L422.3,205.1 L422.5,207.0 L422.6,195.2 L422.8,210.1 L423.0,197.2 L423.1,200.7 L423.3,205.9 L423.5,198.9 L423.6,197.1 L423.8,207.7 L424.0,202.3 L424.2,206.9 L424.3,205.3 L424.5,202.8 L424.7,209.7 L424.8,202.6 L425.0,211.0 L425.2,200.3 L425.3,200.0 L425.5,201.1 L425.7,204.5 L425.9,199.5 L426.0,201.1 L426.2,209.0 L426.4,204.4 L426.5,206.2 L426.7,205.1 L426.9,201.6 L427.0,201.0 L427.2,204.5 L427.4,204.0 L427.6,201.9 L427.7,201.8 L427.9,209.1 L428.1,207.6 L428.2,204.9 L428.4,202.6 L428.6,202.3 L428.7,213.2 L428.9,201.7 L429.1,212.3 L429.3,201.5 L429.4,198.5 L429.6,211.3 L429.8,203.5 L429.9,209.5 L430.1,199.3 L430.3,203.1 L430.4,207.4 L430.6,202.9 L430.8,205.5 L431.0,203.4 L431.1,197.5 L431.3,205.4 L431.5,202.0 L431.6,203.5 L431.8,205.5 L432.0,198.8 L432.1,206.0 L432.3,206.1 L432.5,214.4 L432.7,207.0 L432.8,205.3 L433.0,201.7 L433.2,203.9 L433.3,198.9 L433.5,205.5 L433.7,203.3 L433.8,202.7 L434.0,204.1 L434.2,205.7 L434.4,205.0 L434.5,199.7 L434.7,208.8 L434.9,204.1 L435.0,205.2 L435.2,204.1 L435.4,200.6 L435.5,205.0 L435.7,202.6 L435.9,201.0 L436.1,204.5 L436.2,206.8 L436.4,206.3 L436.6,204.8 L436.7,201.8 L436.9,202.9 L437.1,203.6 L437.2,191.9 L437.4,207.0 L437.6,200.9 L437.8,199.5 L437.9,209.5 L438.1,211.1 L438.3,199.4 L438.4,203.5 L438.6,201.1 L438.8,206.9 L438.9,199.2 L439.1,205.9 L439.3,205.5 L439.5,208.1 L439.6,197.3 L439.8,201.4 L440.0,203.4 L440.1,207.6 L440.3,204.5 L440.5,206.8 L440.6,205.8 L440.8,200.9 L441.0,203.7 L441.2,202.7 L441.3,203.0 L441.5,200.9 L441.7,206.9 L441.8,205.3 L442.0,197.3 L442.2,206.8 L442.3,202.1 L442.5,198.8 L442.7,208.5 L442.9,204.1 L443.0,205.4 L443.2,203.7 L443.4,204.0 L443.5,197.7 L443.7,206.9 L443.9,201.5 L444.0,204.2 L444.2,203.9 L444.4,200.7 L444.6,199.7 L444.7,203.7 L444.9,208.8 L445.1,201.8 L445.2,202.0 L445.4,204.6 L445.6,202.1 L445.7,209.0 L445.9,205.9 L446.1,213.3 L446.3,205.0 L446.4,212.3 L446.6,202.2 L446.8,205.1 L446.9,200.5 L447.1,202.9 L447.3,203.2 L447.4,206.5 L447.6,209.2 L447.8,203.4 L448.0,199.2 L448.1,204.4 L448.3,203.8 L448.5,202.6 L448.6,207.5 L448.8,208.5 L449.0,201.9 L449.1,201.9 L449.3,195.1 L449.5,202.2 L449.7,207.5 L449.8,201.2 L450.0,207.8 L450.2,206.9 L450.3,206.7 L450.5,206.8 L450.7,204.3 L450.8,208.2 L451.0,209.3 L451.2,205.8 L451.4,204.5 L451.5,209.3 L451.7,210.0 L451.9,202.3 L452.0,207.6 L452.2,204.8 L452.4,213.1 L452.5,203.5 L452.7,202.4 L452.9,201.3 L453.1,207.9 L453.2,200.9 L453.4,207.0 L453.6,202.8 L453.7,209.5 L453.9,210.3 L454.1,208.8 L454.2,197.7 L454.4,199.4 L454.6,195.0 L454.8,214.2 L454.9,202.5 L455.1,203.2 L455.3,204.9 L455.4,206.9 L455.6,203.5 L455.8,204.9 L455.9,204.7 L456.1,200.0 L456.3,211.2 L456.5,211.0 L456.6,204.8 L456.8,204.2 L457.0,211.5 L457.1,213.5 L457.3,204.9 L457.5,206.9 L457.6,203.3 L457.8,206.0 L458.0,195.5 L458.2,196.7 L458.3,206.4 L458.5,204.1 L458.7,206.2 L458.8,205.1 L459.0,207.0 L459.2,205.7 L459.3,204.2 L459.5,207.4 L459.7,202.4 L459.9,209.9 L460.0,201.3 L460.2,203.4 L460.4,208.1 L460.5,203.5 L460.7,208.3 L460.9,210.1 L461.0,207.7 L461.2,203.3 L461.4,211.8 L461.6,206.6 L461.7,201.4 L461.9,212.2 L462.1,205.6 L462.2,207.2 L462.4,208.2 L462.6,203.1 L462.7,208.2 L462.9,200.5 L463.1,201.4 L463.3,203.5 L463.4,212.8 L463.6,207.1 L463.8,209.2 L463.9,203.4 L464.1,206.9 L464.3,197.4 L464.4,204.1 L464.6,206.6 L464.8,203.0 L465.0,197.9 L465.1,199.1 L465.3,207.3 L465.5,209.9 L465.6,203.7 L465.8,210.7 L466.0,200.3 L466.1,207.2 L466.3,206.1 L466.5,208.8 L466.7,199.6 L466.8,208.6 L467.0,205.4 L467.2,201.8 L467.3,203.3 L467.5,204.1 L467.7,205.9 L467.8,201.8 L468.0,201.8 L468.2,205.2 L468.4,204.7 L468.5,206.6 L468.7,208.1 L468.9,198.1 L469.0,204.5 L469.2,205.6 L469.4,204.9 L469.5,200.9 L469.7,207.3 L469.9,210.8 L470.1,204.1 L470.2,203.6 L470.4,207.4 L470.6,204.7 L470.7,205.0 L470.9,205.4 L471.1,202.9 L471.2,204.5 L471.4,201.9 L471.6,199.4 L471.8,208.2 L471.9,205.5 L472.1,204.2 L472.3,209.2 L472.4,203.8 L472.6,208.4 L472.8,207.3 L472.9,203.3 L473.1,199.8 L473.3,206.0 L473.5,205.0 L473.6,208.9 L473.8,198.7 L474.0,203.7 L474.1,204.9 L474.3,205.3 L474.5,204.5 L474.6,205.1 L474.8,195.8 L475.0,202.8 L475.2,201.5 L475.3,198.4 L475.5,204.2 L475.7,202.4 L475.8,199.6 L476.0,198.8 L476.2,204.7 L476.3,194.7 L476.5,203.2 L476.7,199.5 L476.9,203.9 L477.0,210.0 L477.2,206.8 L477.4,203.0 L477.5,208.4 L477.7,209.6 L477.9,206.4 L478.0,209.3 L478.2,203.6 L478.4,205.0 L478.6,202.5 L478.7,201.4 L478.9,202.7 L479.1,199.8 L479.2,202.1 L479.4,209.8 L479.6,204.6 L479.7,201.5 L479.9,207.8 L480.1,206.7 L480.3,198.2 L480.4,199.3 L480.6,207.2 L480.8,201.6 L480.9,201.7 L481.1,199.1 L481.3,197.0 L481.4,204.1 L481.6,197.5 L481.8,201.5 L482.0,205.2 L482.1,200.6 L482.3,197.7 L482.5,199.7 L482.6,198.8 L482.8,195.1 L483.0,196.4 L483.1,191.6 L483.3,189.5 L483.5,192.5 L483.7,189.2 L483.8,192.4 L484.0,194.2 L484.2,195.7 L484.3,201.2 L484.5,193.8 L484.7,195.8 L484.8,196.4 L485.0,196.5 L485.2,205.0 L485.4,196.6 L485.5,198.6 L485.7,199.1 L485.9,207.7 L486.0,199.1 L486.2,197.8 L486.4,204.4 L486.5,198.4 L486.7,193.8 L486.9,204.5 L487.1,203.9 L487.2,196.2 L487.4,196.9 L487.6,201.0 L487.7,197.9 L487.9,196.1 L488.1,197.3 L488.2,207.2 L488.4,204.9 L488.6,197.8 L488.8,200.9 L488.9,201.7 L489.1,200.3 L489.3,201.3 L489.4,207.3 L489.6,199.3 L489.8,198.0 L489.9,201.2 L490.1,199.1 L490.3,199.8 L490.5,199.7 L490.6,197.8 L490.8,205.0 L491.0,198.6 L491.1,205.0 L491.3,197.6 L491.5,197.2 L491.6,200.6 L491.8,198.6 L492.0,201.6 L492.2,200.5 L492.3,204.8 L492.5,188.1 L492.7,193.2 L492.8,195.5 L493.0,194.4 L493.2,194.5 L493.3,201.9 L493.5,188.5 L493.7,197.5 L493.9,195.6 L494.0,197.1 L494.2,201.2 L494.4,202.6 L494.5,201.9 L494.7,204.2 L494.9,204.5 L495.0,194.8 L495.2,199.2 L495.4,197.3 L495.6,199.3 L495.7,201.6 L495.9,209.7 L496.1,200.5 L496.2,201.8 L496.4,202.4 L496.6,208.4 L496.7,201.3 L496.9,205.0 L497.1,206.4 L497.3,205.6 L497.4,196.4 L497.6,199.1 L497.8,206.2 L497.9,197.5 L498.1,203.1 L498.3,198.5 L498.4,205.4 L498.6,203.8 L498.8,198.4 L499.0,203.1 L499.1,200.2 L499.3,202.1 L499.5,208.6 L499.6,205.2 L499.8,205.4 L500.0,209.7 L500.1,204.6 L500.3,209.0 L500.5,205.7 L500.7,205.3 L500.8,203.0 L501.0,201.3 L501.2,200.6 L501.3,201.0 L501.5,206.3 L501.7,205.9 L501.8,201.4 L502.0,208.9 L502.2,202.2 L502.4,203.1 L502.5,199.5 L502.7,201.5 L502.9,207.6 L503.0,206.1 L503.2,202.3 L503.4,209.0 L503.5,204.3 L503.7,204.8 L503.9,208.4 L504.1,206.2 L504.2,203.4 L504.4,200.8 L504.6,209.2 L504.7,196.2 L504.9,202.4 L505.1,198.3 L505.2,202.5 L505.4,207.7 L505.6,203.4 L505.8,203.1 L505.9,204.5 L506.1,211.7 L506.3,209.6 L506.4,205.5 L506.6,202.4 L506.8,203.3 L506.9,205.9 L507.1,203.8 L507.3,204.3 L507.5,201.0 L507.6,199.8 L507.8,200.8 L508.0,205.6 L508.1,201.4 L508.3,213.8 L508.5,206.8 L508.6,207.1 L508.8,208.4 L509.0,201.1 L509.2,200.7 L509.3,204.0 L509.5,207.0 L509.7,206.9 L509.8,210.8 L510.0,209.9 L510.2,208.7 L510.3,209.1 L510.5,206.0 L510.7,208.2 L510.9,204.1 L511.0,203.7 L511.2,208.5 L511.4,199.3 L511.5,210.2 L511.7,211.9 L511.9,203.6 L512.0,208.0 L512.2,205.9 L512.4,199.7 L512.6,206.7 L512.7,207.3 L512.9,209.0 L513.1,204.3 L513.2,205.9 L513.4,203.3 L513.6,209.0 L513.7,205.1 L513.9,207.4 L514.1,203.1 L514.3,205.9 L514.4,202.3 L514.6,202.8 L514.8,209.4 L514.9,204.8 L515.1,205.2 L515.3,208.1 L515.4,202.6 L515.6,212.4 L515.8,202.7 L516.0,202.2 L516.1,213.2 L516.3,199.4 L516.5,211.7 L516.6,206.9 L516.8,207.3 L517.0,201.8 L517.1,206.1 L517.3,201.0 L517.5,209.0 L517.7,204.6 L517.8,203.2 L518.0,203.7 L518.2,204.9 L518.3,208.9 L518.5,206.7 L518.7,202.7 L518.8,202.3 L519.0,201.8 L519.2,208.2 L519.4,207.1 L519.5,214.9 L519.7,199.7 L519.9,205.2 L520.0,203.3 L520.2,207.2 L520.4,204.9 L520.5,206.7 L520.7,208.2 L520.9,209.0 L521.1,204.6 L521.2,207.9 L521.4,203.3 L521.6,201.1 L521.7,206.1 L521.9,209.5 L522.1,210.3 L522.2,205.1 L522.4,199.3 L522.6,206.4 L522.8,204.5 L522.9,207.5 L523.1,209.0 L523.3,203.7 L523.4,202.8 L523.6,203.9 L523.8,202.9 L523.9,201.8 L524.1,206.0 L524.3,202.7 L524.5,204.2 L524.6,204.1 L524.8,203.1 L525.0,207.3 L525.1,203.6 L525.3,204.9 L525.5,208.0 L525.6,204.7 L525.8,200.1 L526.0,203.5 L526.2,203.5 L526.3,207.3 L526.5,210.9 L526.7,205.8 L526.8,204.7 L527.0,210.2 L527.2,202.7 L527.3,206.1 L527.5,206.7 L527.7,204.9 L527.9,204.4 L528.0,205.7 L528.2,210.3 L528.4,207.0 L528.5,203.0 L528.7,206.0 L528.9,208.3 L529.0,211.1 L529.2,207.8 L529.4,205.6 L529.6,209.7 L529.7,208.0 L529.9,205.4 L530.1,202.6 L530.2,205.1 L530.4,208.1 L530.6,201.1 L530.7,199.2 L530.9,206.4 L531.1,199.4 L531.3,200.1 L531.4,203.8 L531.6,203.6 L531.8,204.5 L531.9,204.7 L532.1,205.8 L532.3,203.5 L532.4,200.9 L532.6,194.1 L532.8,207.3 L533.0,205.5 L533.1,204.5 L533.3,202.0 L533.5,198.7 L533.6,202.4 L533.8,200.0 L534.0,195.4 L534.1,201.9 L534.3,194.2 L534.5,196.9 L534.7,203.5 L534.8,196.3 L535.0,199.9 L535.2,203.3 L535.3,200.7 L535.5,196.9 L535.7,200.3 L535.8,202.2 L536.0,197.8 L536.2,207.8 L536.4,204.4 L536.5,205.9 L536.7,204.6 L536.9,205.1 L537.0,202.8 L537.2,199.1 L537.4,206.5 L537.5,204.4 L537.7,209.7 L537.9,200.5 L538.1,205.0 L538.2,212.0 L538.4,200.0 L538.6,200.5 L538.7,205.4 L538.9,210.5 L539.1,200.6 L539.2,204.9 L539.4,204.1 L539.6,202.8 L539.8,203.9 L539.9,209.0 L540.1,205.3 L540.3,200.3 L540.4,202.7 L540.6,205.1 L540.8,200.0 L540.9,202.5 L541.1,203.4 L541.3,197.6 L541.5,211.2 L541.6,199.3 L541.8,205.1 L542.0,204.3 L542.1,202.8 L542.3,209.1 L542.5,205.1 L542.6,202.0 L542.8,208.9 L543.0,206.8 L543.2,201.3 L543.3,199.6 L543.5,208.0 L543.7,204.4 L543.8,199.9 L544.0,206.8 L544.2,200.0 L544.3,202.5 L544.5,202.1 L544.7,198.1 L544.9,207.3 L545.0,217.0 L545.2,207.2 L545.4,209.1 L545.5,204.1 L545.7,204.7 L545.9,205.9 L546.0,207.1 L546.2,203.3 L546.4,205.2 L546.6,204.3 L546.7,207.0 L546.9,208.3 L547.1,208.9 L547.2,203.6 L547.4,203.4 L547.6,207.5 L547.7,204.2 L547.9,204.4 L548.1,206.8 L548.3,206.5 L548.4,209.8 L548.6,201.0 L548.8,209.1 L548.9,203.6 L549.1,207.6 L549.3,200.8 L549.4,204.8 L549.6,203.1 L549.8,211.4 L550.0,202.0 L550.1,209.2 L550.3,202.5 L550.5,201.5 L550.6,206.4 L550.8,209.0 L551.0,205.1 L551.1,207.4 L551.3,206.2 L551.5,205.2 L551.7,210.1 L551.8,205.4 L552.0,208.4 L552.2,201.4 L552.3,204.7 L552.5,208.6 L552.7,203.8 L552.8,198.0 L553.0,208.0 L553.2,207.4 L553.4,204.4 L553.5,205.8 L553.7,204.3 L553.9,206.8 L554.0,209.3 L554.2,206.5 L554.4,205.2 L554.5,203.8 L554.7,204.9 L554.9,203.7 L555.1,208.8 L555.2,201.8 L555.4,203.5 L555.6,206.7 L555.7,206.7 L555.9,206.4 L556.1,204.1 L556.2,206.2 L556.4,200.6 L556.6,200.3 L556.8,201.1 L556.9,206.8 L557.1,210.2 L557.3,204.1 L557.4,203.6 L557.6,204.5 L557.8,211.8 L557.9,206.3 L558.1,205.9 L558.3,203.7 L558.5,207.3 L558.6,210.1 L558.8,206.3 L559.0,202.8 L559.1,210.1 L559.3,205.6 L559.5,211.7 L559.6,202.0 L559.8,205.1 L560.0,206.5 L560.2,199.6 L560.3,206.0 L560.5,207.7 L560.7,202.3 L560.8,207.1 L561.0,206.2 L561.2,202.7 L561.3,208.1 L561.5,203.0 L561.7,204.6 L561.9,203.1 L562.0,207.8 L562.2,204.0 L562.4,204.0 L562.5,198.2 L562.7,204.6 L562.9,209.0 L563.0,198.4 L563.2,206.8 L563.4,205.4 L563.6,199.6 L563.7,204.1 L563.9,208.8 L564.1,205.5 L564.2,206.7 L564.4,209.3 L564.6,204.5 L564.7,208.5 L564.9,213.2 L565.1,202.6 L565.3,210.5 L565.4,210.2 L565.6,208.8 L565.8,200.5 L565.9,204.8 L566.1,202.6 L566.3,212.1 L566.4,201.0 L566.6,201.3 L566.8,203.6 L567.0,195.6 L567.1,203.6 L567.3,204.6 L567.5,206.6 L567.6,205.7 L567.8,199.3 L568.0,201.4 L568.1,211.2 L568.3,205.8 L568.5,211.8 L568.7,210.6 L568.8,209.4 L569.0,205.9 L569.2,210.9 L569.3,204.1 L569.5,213.3 L569.7,207.7 L569.8,207.7 L570.0,204.4 L570.2,203.8 L570.4,204.9 L570.5,204.0 L570.7,202.9 L570.9,202.2 L571.0,206.5 L571.2,209.9 L571.4,212.5 L571.5,208.5 L571.7,205.5 L571.9,208.0 L572.1,211.7 L572.2,206.4 L572.4,209.3 L572.6,207.2 L572.7,206.4 L572.9,204.0 L573.1,208.4 L573.2,203.2 L573.4,202.6 L573.6,207.1 L573.8,209.2 L573.9,209.1 L574.1,208.8 L574.3,204.9 L574.4,207.5 L574.6,209.7 L574.8,212.9 L574.9,196.9 L575.1,210.0 L575.3,206.7 L575.5,205.7 L575.6,203.4 L575.8,203.8 L576.0,201.9 L576.1,206.8 L576.3,202.6 L576.5,205.3 L576.6,200.8 L576.8,209.9 L577.0,208.2 L577.2,201.9 L577.3,207.4 L577.5,204.5 L577.7,202.9 L577.8,206.1" fill="none" stroke="#000" stroke-width="1.0" stroke-linejoin="round" />
<path d="M63.8,260.8 L63.9,251.3 L64.1,263.1 L64.3,248.2 L64.4,258.2 L64.6,259.9 L64.8,255.9 L64.9,256.5 L65.1,263.5 L65.3,256.5 L65.5,265.4 L65.6,249.8 L65.8,257.1 L66.0,268.4 L66.1,253.9 L66.3,254.0 L66.5,259.4 L66.6,256.9 L66.8,260.6 L67.0,264.6 L67.2,262.3 L67.3,260.4 L67.5,257.2 L67.7,260.5 L67.8,264.3 L68.0,254.7 L68.2,257.1 L68.3,253.4 L68.5,259.4 L68.7,267.7 L68.9,256.6 L69.0,253.6 L69.2,255.5 L69.4,263.0 L69.5,256.5 L69.7,264.7 L69.9,256.4 L70.0,255.6 L70.2,263.8 L70.4,255.4 L70.6,265.7 L70.7,248.0 L70.9,259.7 L71.1,256.9 L71.2,257.6 L71.4,261.1 L71.6,249.2 L71.7,271.0 L71.9,257.4 L72.1,272.9 L72.3,264.2 L72.4,261.0 L72.6,251.6 L72.8,269.0 L72.9,263.4 L73.1,266.3 L73.3,251.7 L73.4,250.6 L73.6,257.9 L73.8,262.8 L74.0,264.2 L74.1,266.5 L74.3,255.3 L74.5,252.8 L74.6,263.9 L74.8,254.7 L75.0,259.7 L75.1,271.0 L75.3,257.8 L75.5,262.1 L75.7,261.5 L75.8,260.1 L76.0,262.2 L76.2,262.8 L76.3,260.5 L76.5,268.3 L76.7,265.2 L76.8,254.9 L77.0,267.9 L77.2,261.0 L77.4,259.4 L77.5,256.2 L77.7,264.4 L77.9,260.1 L78.0,256.1 L78.2,255.9 L78.4,259.1 L78.5,258.6 L78.7,258.3 L78.9,273.7 L79.1,262.2 L79.2,263.9 L79.4,261.2 L79.6,260.3 L79.7,255.4 L79.9,264.2 L80.1,262.0 L80.2,256.2 L80.4,260.0 L80.6,269.8 L80.8,262.1 L80.9,260.9 L81.1,258.8 L81.3,257.6 L81.4,263.5 L81.6,265.2 L81.8,261.7 L81.9,265.5 L82.1,256.4 L82.3,258.6 L82.5,262.5 L82.6,266.7 L82.8,258.3 L83.0,265.7 L83.1,261.8 L83.3,266.5 L83.5,267.5 L83.6,259.1 L83.8,262.6 L84.0,264.7 L84.2,257.3 L84.3,258.8 L84.5,258.6 L84.7,263.7 L84.8,265.7 L85.0,256.2 L85.2,257.1 L85.3,264.3 L85.5,257.7 L85.7,260.0 L85.9,265.2 L86.0,261.3 L86.2,266.5 L86.4,261.6 L86.5,260.5 L86.7,257.3 L86.9,249.6 L87.0,259.1 L87.2,251.7 L87.4,265.2 L87.6,265.1 L87.7,263.5 L87.9,267.0 L88.1,272.1 L88.2,252.2 L88.4,267.4 L88.6,265.4 L88.7,260.0 L88.9,250.3 L89.1,266.9 L89.3,263.9 L89.4,254.1 L89.6,268.8 L89.8,257.1 L89.9,253.8 L90.1,264.2 L90.3,252.6 L90.4,270.1 L90.6,264.8 L90.8,263.3 L91.0,265.4 L91.1,260.2 L91.3,265.0 L91.5,264.7 L91.6,250.1 L91.8,255.2 L92.0,266.3 L92.1,256.0 L92.3,264.2 L92.5,260.5 L92.7,265.2 L92.8,252.3 L93.0,262.1 L93.2,261.5 L93.3,262.9 L93.5,276.0 L93.7,261.9 L93.8,263.4 L94.0,264.0 L94.2,258.6 L94.4,268.9 L94.5,261.6 L94.7,258.4 L94.9,266.9 L95.0,254.1 L95.2,267.0 L95.4,259.8 L95.5,261.8 L95.7,261.7 L95.9,263.9 L96.1,258.2 L96.2,259.1 L96.4,262.6 L96.6,258.3 L96.7,261.1 L96.9,260.6 L97.1,259.5 L97.2,257.7 L97.4,257.1 L97.6,259.1 L97.8,255.1 L97.9,255.5 L98.1,275.0 L98.3,261.5 L98.4,266.1 L98.6,262.9 L98.8,278.8 L98.9,262.1 L99.1,266.6 L99.3,262.5 L99.5,263.0 L99.6,255.4 L99.8,266.5 L100.0,260.6 L100.1,261.5 L100.3,263.7 L100.5,262.9 L100.6,261.6 L100.8,268.0 L101.0,257.4 L101.2,251.6 L101.3,260.2 L101.5,250.5 L101.7,260.8 L101.8,268.1 L102.0,269.5 L102.2,256.4 L102.3,263.8 L102.5,255.8 L102.7,263.5 L102.9,268.8 L103.0,258.8 L103.2,269.6 L103.4,263.3 L103.5,275.2 L103.7,259.1 L103.9,257.7 L104.0,268.7 L104.2,266.7 L104.4,257.9 L104.6,258.4 L104.7,263.1 L104.9,259.7 L105.1,270.1 L105.2,265.6 L105.4,259.2 L105.6,258.4 L105.7,255.3 L105.9,259.6 L106.1,262.5 L106.3,264.7 L106.4,268.0 L106.6,260.3 L106.8,269.0 L106.9,252.6 L107.1,262.3 L107.3,266.0 L107.4,260.3 L107.6,264.0 L107.8,266.9 L108.0,260.1 L108.1,263.9 L108.3,268.4 L108.5,256.9 L108.6,268.5 L108.8,262.3 L109.0,255.7 L109.1,264.8 L109.3,266.3 L109.5,262.1 L109.7,264.8 L109.8,265.5 L110.0,263.4 L110.2,263.8 L110.3,267.3 L110.5,267.0 L110.7,266.6 L110.8,254.0 L111.0,256.9 L111.2,261.4 L111.4,269.0 L111.5,265.8 L111.7,272.1 L111.9,265.6 L112.0,265.4 L112.2,261.8 L112.4,269.4 L112.5,256.7 L112.7,265.1 L112.9,262.7 L113.1,260.8 L113.2,268.1 L113.4,266.8 L113.6,265.4 L113.7,261.9 L113.9,256.3 L114.1,256.8 L114.2,250.9 L114.4,256.8 L114.6,265.0 L114.8,270.4 L114.9,258.0 L115.1,269.6 L115.3,272.9 L115.4,269.0 L115.6,272.0 L115.8,263.5 L115.9,261.2 L116.1,265.0 L116.3,268.5 L116.5,266.0 L116.6,264.7 L116.8,267.8 L117.0,259.4 L117.1,267.7 L117.3,254.0 L117.5,271.0 L117.6,270.8 L117.8,275.6 L118.0,259.4 L118.2,261.1 L118.3,258.8 L118.5,256.7 L118.7,252.4 L118.8,267.9 L119.0,262.9 L119.2,263.3 L119.3,255.1 L119.5,264.7 L119.7,274.1 L119.9,264.8 L120.0,268.2 L120.2,258.2 L120.4,269.4 L120.5,263.9 L120.7,264.7 L120.9,265.9 L121.0,262.9 L121.2,267.5 L121.4,263.6 L121.6,262.0 L121.7,258.8 L121.9,258.4 L122.1,268.5 L122.2,269.6 L122.4,263.7 L122.6,263.3 L122.7,261.4 L122.9,265.2 L123.1,264.3 L123.3,265.6 L123.4,261.7 L123.6,269.6 L123.8,268.1 L123.9,255.5 L124.1,262.1 L124.3,270.6 L124.4,266.4 L124.6,264.2 L124.8,266.6 L125.0,258.7 L125.1,258.7 L125.3,264.0 L125.5,265.2 L125.6,272.6 L125.8,264.1 L126.0,266.1 L126.1,272.3 L126.3,261.7 L126.5,263.3 L126.7,264.9 L126.8,266.0 L127.0,265.5 L127.2,268.2 L127.3,258.8 L127.5,258.2 L127.7,264.3 L127.8,256.6 L128.0,272.5 L128.2,260.7 L128.4,261.8 L128.5,267.6 L128.7,266.2 L128.9,267.5 L129.0,264.5 L129.2,258.1 L129.4,263.8 L129.5,261.3 L129.7,256.3 L129.9,263.1 L130.1,269.3 L130.2,260.0 L130.4,260.9 L130.6,260.8 L130.7,261.6 L130.9,254.4 L131.1,266.9 L131.2,265.1 L131.4,264.1 L131.6,259.9 L131.8,263.2 L131.9,282.0 L132.1,265.6 L132.3,262.6 L132.4,268.6 L132.6,258.4 L132.8,270.1 L132.9,264.0 L133.1,277.0 L133.3,275.5 L133.5,267.5 L133.6,266.8 L133.8,262.7 L134.0,267.5 L134.1,268.3 L134.3,257.9 L134.5,257.2 L134.6,267.3 L134.8,261.9 L135.0,265.4 L135.2,265.2 L135.3,266.6 L135.5,263.4 L135.7,267.7 L135.8,271.7 L136.0,272.7 L136.2,262.9 L136.3,265.2 L136.5,265.1 L136.7,257.3 L136.9,257.0 L137.0,264.0 L137.2,266.9 L137.4,268.4 L137.5,261.4 L137.7,267.8 L137.9,264.0 L138.0,262.5 L138.2,272.6 L138.4,256.3 L138.6,253.3 L138.7,274.1 L138.9,264.4 L139.1,268.5 L139.2,264.2 L139.4,261.3 L139.6,259.0 L139.7,255.9 L139.9,265.6 L140.1,259.6 L140.3,264.1 L140.4,266.1 L140.6,264.4 L140.8,265.1 L140.9,272.0 L141.1,266.1 L141.3,265.9 L141.4,263.9 L141.6,271.8 L141.8,271.0 L142.0,261.9 L142.1,266.7 L142.3,264.1 L142.5,262.7 L142.6,260.4 L142.8,273.6 L143.0,267.5 L143.1,254.6 L143.3,270.0 L143.5,273.5 L143.7,265.5 L143.8,264.6 L144.0,265.7 L144.2,277.5 L144.3,262.3 L144.5,266.9 L144.7,257.6 L144.8,270.7 L145.0,259.5 L145.2,263.1 L145.4,266.9 L145.5,269.9 L145.7,261.5 L145.9,261.7 L146.0,272.3 L146.2,261.9 L146.4,261.0 L146.5,262.5 L146.7,268.3 L146.9,268.4 L147.1,269.9 L147.2,267.1 L147.4,263.0 L147.6,267.2 L147.7,268.7 L147.9,264.9 L148.1,262.1 L148.2,264.9 L148.4,273.0 L148.6,263.6 L148.8,265.4 L148.9,265.3 L149.1,266.9 L149.3,268.2 L149.4,260.2 L149.6,251.4 L149.8,268.9 L149.9,255.0 L150.1,266.6 L150.3,267.2 L150.5,268.6 L150.6,260.1 L150.8,266.8 L151.0,268.5 L151.1,268.6 L151.3,271.2 L151.5,260.4 L151.6,262.7 L151.8,263.9 L152.0,265.0 L152.2,270.2 L152.3,269.3 L152.5,265.8 L152.7,273.7 L152.8,268.2 L153.0,259.7 L153.2,271.5 L153.3,259.0 L153.5,259.2 L153.7,263.3 L153.9,263.0 L154.0,264.8 L154.2,265.3 L154.4,261.5 L154.5,261.7 L154.7,268.5 L154.9,266.7 L155.0,264.2 L155.2,261.4 L155.4,265.4 L155.6,260.5 L155.7,259.0 L155.9,270.2 L156.1,268.6 L156.2,263.7 L156.4,273.0 L156.6,264.9 L156.7,268.5 L156.9,267.8 L157.1,266.0 L157.3,266.1 L157.4,272.8 L157.6,269.9 L157.8,256.6 L157.9,268.4 L158.1,255.0 L158.3,260.6 L158.4,267.7 L158.6,260.4 L158.8,271.5 L159.0,263.8 L159.1,268.4 L159.3,267.0 L159.5,269.4 L159.6,271.9 L159.8,258.6 L160.0,265.4 L160.1,266.6 L160.3,270.6 L160.5,268.3 L160.7,264.3 L160.8,259.1 L161.0,258.0 L161.2,261.3 L161.3,266.5 L161.5,265.0 L161.7,272.5 L161.8,267.1 L162.0,269.4 L162.2,259.0 L162.4,266.8 L162.5,263.3 L162.7,262.8 L162.9,271.6 L163.0,265.6 L163.2,265.3 L163.4,265.7 L163.5,259.2 L163.7,257.9 L163.9,274.7 L164.1,265.9 L164.2,265.6 L164.4,266.7 L164.6,253.4 L164.7,264.3 L164.9,261.6 L165.1,267.3 L165.2,264.9 L165.4,270.6 L165.6,273.1 L165.8,260.6 L165.9,268.9 L166.1,263.7 L166.3,276.0 L166.4,266.7 L166.6,270.3 L166.8,263.4 L166.9,271.7 L167.1,252.4 L167.3,259.8 L167.5,254.1 L167.6,265.4 L167.8,263.8 L168.0,266.5 L168.1,261.3 L168.3,265.5 L168.5,265.5 L168.6,260.5 L168.8,274.7 L169.0,276.2 L169.2,267.0 L169.3,268.3 L169.5,271.5 L169.7,269.2 L169.8,262.0 L170.0,267.1 L170.2,274.3 L170.3,265.0 L170.5,264.6 L170.7,261.5 L170.9,263.8 L171.0,255.6 L171.2,265.7 L171.4,270.9 L171.5,267.4 L171.7,266.7 L171.9,266.2 L172.0,266.2 L172.2,261.0 L172.4,257.0 L172.6,274.7 L172.7,268.3 L172.9,255.6 L173.1,273.6 L173.2,264.0 L173.4,270.5 L173.6,265.4 L173.7,262.9 L173.9,269.9 L174.1,264.3 L174.3,254.3 L174.4,268.6 L174.6,265.5 L174.8,265.6 L174.9,264.4 L175.1,268.0 L175.3,273.1 L175.4,270.7 L175.6,267.4 L175.8,266.4 L176.0,262.5 L176.1,274.4 L176.3,256.8 L176.5,261.3 L176.6,265.2 L176.8,266.6 L177.0,267.3 L177.1,264.1 L177.3,275.0 L177.5,271.9 L177.7,257.2 L177.8,261.5 L178.0,259.6 L178.2,272.7 L178.3,264.0 L178.5,256.7 L178.7,264.7 L178.8,259.9 L179.0,266.3 L179.2,269.3 L179.4,260.7 L179.5,267.2 L179.7,267.6 L179.9,262.7 L180.0,268.4 L180.2,263.0 L180.4,269.2 L180.5,265.5 L180.7,264.0 L180.9,272.8 L181.1,270.8 L181.2,264.7 L181.4,251.3 L181.6,267.4 L181.7,263.7 L181.9,268.0 L182.1,266.1 L182.2,264.7 L182.4,264.4 L182.6,272.6 L182.8,273.1 L182.9,262.3 L183.1,260.7 L183.3,264.2 L183.4,266.8 L183.6,256.8 L183.8,270.9 L183.9,260.7 L184.1,270.5 L184.3,263.2 L184.5,267.7 L184.6,257.6 L184.8,253.9 L185.0,262.1 L185.1,259.2 L185.3,259.4 L185.5,263.3 L185.6,266.8 L185.8,269.3 L186.0,261.1 L186.2,258.4 L186.3,264.9 L186.5,260.2 L186.7,259.5 L186.8,263.1 L187.0,270.5 L187.2,266.5 L187.3,255.4 L187.5,274.4 L187.7,258.9 L187.9,265.9 L188.0,261.4 L188.2,269.7 L188.4,267.2 L188.5,270.8 L188.7,266.3 L188.9,264.6 L189.0,271.0 L189.2,256.3 L189.4,259.2 L189.6,258.5 L189.7,264.5 L189.9,263.0 L190.1,261.3 L190.2,268.7 L190.4,267.8 L190.6,263.1 L190.7,258.7 L190.9,275.4 L191.1,264.2 L191.3,262.7 L191.4,266.2 L191.6,267.1 L191.8,262.5 L191.9,269.1 L192.1,266.2 L192.3,263.4 L192.4,270.9 L192.6,263.6 L192.8,271.8 L193.0,266.4 L193.1,264.6 L193.3,271.3 L193.5,264.1 L193.6,268.4 L193.8,272.1 L194.0,264.1 L194.1,263.0 L194.3,269.5 L194.5,270.5 L194.7,255.7 L194.8,268.3 L195.0,271.2 L195.2,263.4 L195.3,270.6 L195.5,264.5 L195.7,263.0 L195.8,264.5 L196.0,269.4 L196.2,264.3 L196.4,263.4 L196.5,266.2 L196.7,269.7 L196.9,256.5 L197.0,271.1 L197.2,272.6 L197.4,261.1 L197.5,265.6 L197.7,268.1 L197.9,266.5 L198.1,274.7 L198.2,266.6 L198.4,263.4 L198.6,264.1 L198.7,268.2 L198.9,262.5 L199.1,263.2 L199.2,263.6 L199.4,273.8 L199.6,269.0 L199.8,260.6 L199.9,268.4 L200.1,253.8 L200.3,266.1 L200.4,269.0 L200.6,267.8 L200.8,268.7 L200.9,267.2 L201.1,263.1 L201.3,265.3 L201.5,265.1 L201.6,259.5 L201.8,266.6 L202.0,261.8 L202.1,269.3 L202.3,276.9 L202.5,276.3 L202.6,278.6 L202.8,264.7 L203.0,264.5 L203.2,265.0 L203.3,262.4 L203.5,269.5 L203.7,264.0 L203.8,268.1 L204.0,264.8 L204.2,273.9 L204.3,272.0 L204.5,270.4 L204.7,261.0 L204.9,272.3 L205.0,264.8 L205.2,260.5 L205.4,268.2 L205.5,271.6 L205.7,259.9 L205.9,270.4 L206.0,265.7 L206.2,265.9 L206.4,269.1 L206.6,265.3 L206.7,263.8 L206.9,271.8 L207.1,255.5 L207.2,277.3 L207.4,261.0 L207.6,272.5 L207.7,261.5 L207.9,273.2 L208.1,259.0 L208.3,275.1 L208.4,267.7 L208.6,266.0 L208.8,265.6 L208.9,271.7 L209.1,266.2 L209.3,269.8 L209.4,267.8 L209.6,262.1 L209.8,274.8 L210.0,266.3 L210.1,268.4 L210.3,268.3 L210.5,267.2 L210.6,274.9 L210.8,271.1 L211.0,265.9 L211.1,267.5 L211.3,265.7 L211.5,262.1 L211.7,272.2 L211.8,262.7 L212.0,272.7 L212.2,267.6 L212.3,270.9 L212.5,267.1 L212.7,265.8 L212.8,277.7 L213.0,265.5 L213.2,263.0 L213.4,269.2 L213.5,273.5 L213.7,261.4 L213.9,264.8 L214.0,271.1 L214.2,275.1 L214.4,269.8 L214.5,265.4 L214.7,268.2 L214.9,264.1 L215.1,269.4 L215.2,267.3 L215.4,268.6 L215.6,266.3 L215.7,270.5 L215.9,267.5 L216.1,263.9 L216.2,273.7 L216.4,268.4 L216.6,266.1 L216.8,266.6 L216.9,274.0 L217.1,267.7 L217.3,268.6 L217.4,263.6 L217.6,265.7 L217.8,264.7 L217.9,263.4 L218.1,262.5 L218.3,265.7 L218.5,261.4 L218.6,269.9 L218.8,270.6 L219.0,263.1 L219.1,268.9 L219.3,263.9 L219.5,268.4 L219.6,268.9 L219.8,259.5 L220.0,256.0 L220.2,269.0 L220.3,269.0 L220.5,266.7 L220.7,264.4 L220.8,263.6 L221.0,255.3 L221.2,272.9 L221.3,256.7 L221.5,267.6 L221.7,265.7 L221.9,268.0 L222.0,261.1 L222.2,262.9 L222.4,268.5 L222.5,261.6 L222.7,266.9 L222.9,264.5 L223.0,267.3 L223.2,268.6 L223.4,266.6 L223.6,268.9 L223.7,261.4 L223.9,264.1 L224.1,264.9 L224.2,272.7 L224.4,270.8 L224.6,266.5 L224.7,271.7 L224.9,267.3 L225.1,270.4 L225.3,261.8 L225.4,270.7 L225.6,266.4 L225.8,268.6 L225.9,269.4 L226.1,258.0 L226.3,271.3 L226.4,264.5 L226.6,271.4 L226.8,265.1 L227.0,267.3 L227.1,259.6 L227.3,261.3 L227.5,270.9 L227.6,262.7 L227.8,267.4 L228.0,266.0 L228.1,261.4 L228.3,265.4 L228.5,265.7 L228.7,269.0 L228.8,264.4 L229.0,263.7 L229.2,272.4 L229.3,272.6 L229.5,266.8 L229.7,266.2 L229.8,268.3 L230.0,264.3 L230.2,272.7 L230.4,266.4 L230.5,263.7 L230.7,265.2 L230.9,262.5 L231.0,266.3 L231.2,261.0 L231.4,267.5 L231.5,270.1 L231.7,268.6 L231.9,262.6 L232.1,268.2 L232.2,264.8 L232.4,260.4 L232.6,266.1 L232.7,270.2 L232.9,267.4 L233.1,265.0 L233.2,263.7 L233.4,266.3 L233.6,268.5 L233.8,267.2 L233.9,268.3 L234.1,270.0 L234.3,270.8 L234.4,265.3 L234.6,268.5 L234.8,266.8 L234.9,268.3 L235.1,267.9 L235.3,277.1 L235.5,261.8 L235.6,271.1 L235.8,264.7 L236.0,268.5 L236.1,267.9 L236.3,273.4 L236.5,266.2 L236.6,264.0 L236.8,268.3 L237.0,268.1 L237.2,257.9 L237.3,274.9 L237.5,263.1 L237.7,273.5 L237.8,272.2 L238.0,272.8 L238.2,267.9 L238.3,263.6 L238.5,263.9 L238.7,272.3 L238.9,265.1 L239.0,268.8 L239.2,265.6 L239.4,264.7 L239.5,271.2 L239.7,263.2 L239.9,266.3 L240.0,266.0 L240.2,267.8 L240.4,266.7 L240.6,262.9 L240.7,265.4 L240.9,265.8 L241.1,275.5 L241.2,270.5 L241.4,266.8 L241.6,267.9 L241.7,266.1 L241.9,274.2 L242.1,266.5 L242.3,263.2 L242.4,284.1 L242.6,263.9 L242.8,264.8 L242.9,263.1 L243.1,269.0 L243.3,264.4 L243.4,264.0 L243.6,271.4 L243.8,273.3 L244.0,268.6 L244.1,262.8 L244.3,269.3 L244.5,264.6 L244.6,268.5 L244.8,268.5 L245.0,262.4 L245.1,271.0 L245.3,267.3 L245.5,267.0 L245.7,262.8 L245.8,271.2 L246.0,264.4 L246.2,267.7 L246.3,263.0 L246.5,262.1 L246.7,262.1 L246.8,260.4 L247.0,265.5 L247.2,272.7 L247.4,271.7 L247.5,263.6 L247.7,263.9 L247.9,273.6 L248.0,270.4 L248.2,267.2 L248.4,265.6 L248.5,265.5 L248.7,257.4 L248.9,264.5 L249.1,275.8 L249.2,273.7 L249.4,265.9 L249.6,270.4 L249.7,269.5 L249.9,264.7 L250.1,259.5 L250.2,264.6 L250.4,267.8 L250.6,272.5 L250.8,268.0 L250.9,267.0 L251.1,265.9 L251.3,272.2 L251.4,273.8 L251.6,268.0 L251.8,266.0 L251.9,268.3 L252.1,269.4 L252.3,271.8 L252.5,270.9 L252.6,263.7 L252.8,266.5 L253.0,264.9 L253.1,269.5 L253.3,262.3 L253.5,259.5 L253.6,267.1 L253.8,264.8 L254.0,264.9 L254.2,266.2 L254.3,263.0 L254.5,267.0 L254.7,262.0 L254.8,261.8 L255.0,268.7 L255.2,265.2 L255.3,271.0 L255.5,267.6 L255.7,263.5 L255.9,264.1 L256.0,262.2 L256.2,266.6 L256.4,268.4 L256.5,266.1 L256.7,267.0 L256.9,262.3 L257.0,271.0 L257.2,268.3 L257.4,269.9 L257.6,260.3 L257.7,265.0 L257.9,262.8 L258.1,271.9 L258.2,264.9 L258.4,274.5 L258.6,267.3 L258.7,263.2 L258.9,270.2 L259.1,272.1 L259.3,269.8 L259.4,262.9 L259.6,264.8 L259.8,260.3 L259.9,260.7 L260.1,256.3 L260.3,262.2 L260.4,259.4 L260.6,264.8 L260.8,265.1 L261.0,267.7 L261.1,264.6 L261.3,262.5 L261.5,268.0 L261.6,260.3 L261.8,254.8 L262.0,257.3 L262.1,260.5 L262.3,263.8 L262.5,265.1 L262.7,257.4 L262.8,264.5 L263.0,261.6 L263.2,262.0 L263.3,255.8 L263.5,258.0 L263.7,250.9 L263.8,257.9 L264.0,255.8 L264.2,258.6 L264.4,259.2 L264.5,252.0 L264.7,256.9 L264.9,256.5 L265.0,251.6 L265.2,256.9 L265.4,248.2 L265.5,245.4 L265.7,248.3 L265.9,251.6 L266.1,247.2 L266.2,240.2 L266.4,241.9 L266.6,244.3 L266.7,238.4 L266.9,237.9 L267.1,234.5 L267.2,238.0 L267.4,235.2 L267.6,228.3 L267.8,225.4 L267.9,225.9 L268.1,222.9 L268.3,219.3 L268.4,216.0 L268.6,211.8 L268.8,209.3 L268.9,204.8 L269.1,200.5 L269.3,194.7 L269.5,187.2 L269.6,181.2 L269.8,174.9 L270.0,168.6 L270.1,161.0 L270.3,154.4 L270.5,149.4 L270.6,144.6 L270.8,141.9 L271.0,142.8 L271.2,143.2 L271.3,143.7 L271.5,148.7 L271.7,153.8 L271.8,159.5 L272.0,167.8 L272.2,171.6 L272.3,180.8 L272.5,184.9 L272.7,191.3 L272.9,198.8 L273.0,204.4 L273.2,208.1 L273.4,212.5 L273.5,214.7 L273.7,219.8 L273.9,224.2 L274.0,224.1 L274.2,230.9 L274.4,228.1 L274.6,234.3 L274.7,234.1 L274.9,237.5 L275.1,239.0 L275.2,240.8 L275.4,244.6 L275.6,243.3 L275.7,246.0 L275.9,249.8 L276.1,247.9 L276.3,243.8 L276.4,249.2 L276.6,247.7 L276.8,250.3 L276.9,255.7 L277.1,255.1 L277.3,253.3 L277.4,254.8 L277.6,252.8 L277.8,256.4 L278.0,265.0 L278.1,253.9 L278.3,266.5 L278.5,260.6 L278.6,260.6 L278.8,259.9 L279.0,258.0 L279.1,265.0 L279.3,262.1 L279.5,261.3 L279.7,263.8 L279.8,270.0 L280.0,263.1 L280.2,264.5 L280.3,270.4 L280.5,261.9 L280.7,269.1 L280.8,275.3 L281.0,268.1 L281.2,260.5 L281.4,270.5 L281.5,265.9 L281.7,272.3 L281.9,269.4 L282.0,268.7 L282.2,264.5 L282.4,272.5 L282.5,269.9 L282.7,270.0 L282.9,270.2 L283.1,270.4 L283.2,269.6 L283.4,268.6 L283.6,262.7 L283.7,266.9 L283.9,267.9 L284.1,273.6 L284.2,273.5 L284.4,265.8 L284.6,267.7 L284.8,267.4 L284.9,271.0 L285.1,271.0 L285.3,272.3 L285.4,267.5 L285.6,268.8 L285.8,278.3 L285.9,265.9 L286.1,276.1 L286.3,273.5 L286.5,274.2 L286.6,271.2 L286.8,270.8 L287.0,273.8 L287.1,270.3 L287.3,270.8 L287.5,270.0 L287.6,272.7 L287.8,270.8 L288.0,270.0 L288.2,273.6 L288.3,272.1 L288.5,266.4 L288.7,271.2 L288.8,276.9 L289.0,273.1 L289.2,277.5 L289.3,265.1 L289.5,273.1 L289.7,264.2 L289.9,274.1 L290.0,269.3 L290.2,271.2 L290.4,273.6 L290.5,268.6 L290.7,269.2 L290.9,270.4 L291.0,274.8 L291.2,277.2 L291.4,269.1 L291.6,268.5 L291.7,272.3 L291.9,267.5 L292.1,266.8 L292.2,274.1 L292.4,270.2 L292.6,278.2 L292.7,268.7 L292.9,278.0 L293.1,277.0 L293.3,271.1 L293.4,273.2 L293.6,262.1 L293.8,273.5 L293.9,272.7 L294.1,269.4 L294.3,277.8 L294.4,263.4 L294.6,275.8 L294.8,272.9 L295.0,271.5 L295.1,266.9 L295.3,275.2 L295.5,270.7 L295.6,273.4 L295.8,276.3 L296.0,269.5 L296.1,262.0 L296.3,274.2 L296.5,273.8 L296.7,272.0 L296.8,270.5 L297.0,269.5 L297.2,273.5 L297.3,275.4 L297.5,271.4 L297.7,278.2 L297.8,272.4 L298.0,275.8 L298.2,272.7 L298.4,273.4 L298.5,277.3 L298.7,276.1 L298.9,278.2 L299.0,278.0 L299.2,273.9 L299.4,276.6 L299.5,275.7 L299.7,275.7 L299.9,276.9 L300.1,274.3 L300.2,274.5 L300.4,275.9 L300.6,270.3 L300.7,277.2 L300.9,277.7 L301.1,266.1 L301.2,276.8 L301.4,271.2 L301.6,270.8 L301.8,276.4 L301.9,270.5 L302.1,274.8 L302.3,271.4 L302.4,269.2 L302.6,280.7 L302.8,270.9 L302.9,269.3 L303.1,272.5 L303.3,280.8 L303.5,267.7 L303.6,278.2 L303.8,271.1 L304.0,274.7 L304.1,273.7 L304.3,277.9 L304.5,271.0 L304.6,281.1 L304.8,272.5 L305.0,268.6 L305.2,274.7 L305.3,277.1 L305.5,276.6 L305.7,277.7 L305.8,273.2 L306.0,279.6 L306.2,277.3 L306.3,270.6 L306.5,272.6 L306.7,271.3 L306.9,273.1 L307.0,275.0 L307.2,272.4 L307.4,273.5 L307.5,277.0 L307.7,277.4 L307.9,279.7 L308.0,262.2 L308.2,271.8 L308.4,271.5 L308.6,272.1 L308.7,270.8 L308.9,270.7 L309.1,277.0 L309.2,279.1 L309.4,270.1 L309.6,277.1 L309.7,265.9 L309.9,276.3 L310.1,280.6 L310.3,277.8 L310.4,271.1 L310.6,270.9 L310.8,273.1 L310.9,272.3 L311.1,275.6 L311.3,275.0 L311.4,276.2 L311.6,270.1 L311.8,266.0 L312.0,272.0 L312.1,272.3 L312.3,275.3 L312.5,274.4 L312.6,286.4 L312.8,272.5 L313.0,272.0 L313.1,279.5 L313.3,274.4 L313.5,281.6 L313.7,281.5 L313.8,277.5 L314.0,277.2 L314.2,268.3 L314.3,279.3 L314.5,275.1 L314.7,276.7 L314.8,278.1 L315.0,274.9 L315.2,270.7 L315.4,272.4 L315.5,270.5 L315.7,277.9 L315.9,274.2 L316.0,274.5 L316.2,272.5 L316.4,273.8 L316.5,269.8 L316.7,274.7 L316.9,270.1 L317.1,275.2 L317.2,273.2 L317.4,275.8 L317.6,278.2 L317.7,275.9 L317.9,274.7 L318.1,277.3 L318.2,272.0 L318.4,273.9 L318.6,275.7 L318.8,268.8 L318.9,271.5 L319.1,281.9 L319.3,274.9 L319.4,274.8 L319.6,276.2 L319.8,273.4 L319.9,272.4 L320.1,272.8 L320.3,277.8 L320.5,280.0 L320.6,271.8 L320.8,273.4 L321.0,275.5 L321.1,269.6 L321.3,274.0 L321.5,277.7 L321.6,277.9 L321.8,282.7 L322.0,272.5 L322.2,273.7 L322.3,276.9 L322.5,274.7 L322.7,277.7 L322.8,273.5 L323.0,267.1 L323.2,270.3 L323.3,267.0 L323.5,273.7 L323.7,277.6 L323.9,274.9 L324.0,271.0 L324.2,265.4 L324.4,272.4 L324.5,269.9 L324.7,269.8 L324.9,275.6 L325.0,280.3 L325.2,270.1 L325.4,268.8 L325.6,266.1 L325.7,274.2 L325.9,267.4 L326.1,263.8 L326.2,268.4 L326.4,270.8 L326.6,265.2 L326.7,269.0 L326.9,263.2 L327.1,272.6 L327.3,264.0 L327.4,267.4 L327.6,264.0 L327.8,264.9 L327.9,267.2 L328.1,263.8 L328.3,264.8 L328.4,268.3 L328.6,271.9 L328.8,265.8 L329.0,262.7 L329.1,262.5 L329.3,257.4 L329.5,257.1 L329.6,256.2 L329.8,259.6 L330.0,257.1 L330.1,255.4 L330.3,261.3 L330.5,254.0 L330.7,259.6 L330.8,252.5 L331.0,250.1 L331.2,249.6 L331.3,243.8 L331.5,245.3 L331.7,245.1 L331.8,244.1 L332.0,238.8 L332.2,238.8 L332.4,235.5 L332.5,231.5 L332.7,227.5 L332.9,226.9 L333.0,222.9 L333.2,222.1 L333.4,218.4 L333.5,213.5 L333.7,212.0 L333.9,210.7 L334.1,209.9 L334.2,204.2 L334.4,207.0 L334.6,204.8 L334.7,206.6 L334.9,207.0 L335.1,210.8 L335.2,212.3 L335.4,216.4 L335.6,218.6 L335.8,219.2 L335.9,220.4 L336.1,225.5 L336.3,228.0 L336.4,231.4 L336.6,233.0 L336.8,235.5 L336.9,239.8 L337.1,239.6 L337.3,241.7 L337.5,245.5 L337.6,244.8 L337.8,248.3 L338.0,251.9 L338.1,250.1 L338.3,249.4 L338.5,254.3 L338.6,254.1 L338.8,260.9 L339.0,257.0 L339.2,256.6 L339.3,256.0 L339.5,253.8 L339.7,258.6 L339.8,262.0 L340.0,259.8 L340.2,264.8 L340.3,266.8 L340.5,266.8 L340.7,263.1 L340.9,263.3 L341.0,269.1 L341.2,264.7 L341.4,265.3 L341.5,266.0 L341.7,272.7 L341.9,262.3 L342.0,272.8 L342.2,272.4 L342.4,275.2 L342.6,271.6 L342.7,278.1 L342.9,273.3 L343.1,267.8 L343.2,266.1 L343.4,271.5 L343.6,273.2 L343.7,272.8 L343.9,275.5 L344.1,276.2 L344.3,263.5 L344.4,272.3 L344.6,272.5 L344.8,274.8 L344.9,269.9 L345.1,277.2 L345.3,273.3 L345.4,278.0 L345.6,270.9 L345.8,272.9 L346.0,268.6 L346.1,270.0 L346.3,272.4 L346.5,271.6 L346.6,274.9 L346.8,275.4 L347.0,273.8 L347.1,273.9 L347.3,269.8 L347.5,272.4 L347.7,273.2 L347.8,271.4 L348.0,276.9 L348.2,276.2 L348.3,271.2 L348.5,272.5 L348.7,274.0 L348.8,274.6 L349.0,279.8 L349.2,273.5 L349.4,272.1 L349.5,275.6 L349.7,276.7 L349.9,278.8 L350.0,270.8 L350.2,273.4 L350.4,275.2 L350.5,275.1 L350.7,268.7 L350.9,275.9 L351.1,279.8 L351.2,276.8 L351.4,274.0 L351.6,270.7 L351.7,270.9 L351.9,274.5 L352.1,271.8 L352.2,271.8 L352.4,268.6 L352.6,276.3 L352.8,277.8 L352.9,274.4 L353.1,276.9 L353.3,275.1 L353.4,280.8 L353.6,274.4 L353.8,274.7 L353.9,270.3 L354.1,274.6 L354.3,273.3 L354.5,273.0 L354.6,280.4 L354.8,277.7 L355.0,278.7 L355.1,276.1 L355.3,271.5 L355.5,275.1 L355.6,278.8 L355.8,271.8 L356.0,274.3 L356.2,274.9 L356.3,278.8 L356.5,277.4 L356.7,277.8 L356.8,277.5 L357.0,274.1 L357.2,275.9 L357.3,270.5 L357.5,273.4 L357.7,277.3 L357.9,276.8 L358.0,276.7 L358.2,275.5 L358.4,278.5 L358.5,277.8 L358.7,275.8 L358.9,269.6 L359.0,286.7 L359.2,284.1 L359.4,272.5 L359.6,281.3 L359.7,274.8 L359.9,280.1 L360.1,272.5 L360.2,275.6 L360.4,274.0 L360.6,278.5 L360.7,279.1 L360.9,276.2 L361.1,267.3 L361.3,276.1 L361.4,271.8 L361.6,281.6 L361.8,274.0 L361.9,267.9 L362.1,275.3 L362.3,270.9 L362.4,277.5 L362.6,271.2 L362.8,277.3 L363.0,269.8 L363.1,280.2 L363.3,275.7 L363.5,278.5 L363.6,275.0 L363.8,283.5 L364.0,275.1 L364.1,278.3 L364.3,275.4 L364.5,280.4 L364.7,270.5 L364.8,270.0 L365.0,277.8 L365.2,273.1 L365.3,272.1 L365.5,277.5 L365.7,275.7 L365.8,266.5 L366.0,276.2 L366.2,273.7 L366.4,263.0 L366.5,278.6 L366.7,277.9 L366.9,280.9 L367.0,273.8 L367.2,272.3 L367.4,285.4 L367.5,279.0 L367.7,278.5 L367.9,272.5 L368.1,274.1 L368.2,278.7 L368.4,264.6 L368.6,270.9 L368.7,276.8 L368.9,268.7 L369.1,278.4 L369.2,274.9 L369.4,269.3 L369.6,275.6 L369.8,275.8 L369.9,275.3 L370.1,277.8 L370.3,269.8 L370.4,273.6 L370.6,277.5 L370.8,276.6 L370.9,276.5 L371.1,286.3 L371.3,274.1 L371.5,273.5 L371.6,278.1 L371.8,274.9 L372.0,279.2 L372.1,275.1 L372.3,282.3 L372.5,273.3 L372.6,274.9 L372.8,279.2 L373.0,276.1 L373.2,279.3 L373.3,278.8 L373.5,279.3 L373.7,271.4 L373.8,279.4 L374.0,276.4 L374.2,277.4 L374.3,273.0 L374.5,278.1 L374.7,279.4 L374.9,277.7 L375.0,278.3 L375.2,277.0 L375.4,275.7 L375.5,278.3 L375.7,275.8 L375.9,276.0 L376.0,278.2 L376.2,280.2 L376.4,283.0 L376.6,280.8 L376.7,276.9 L376.9,273.6 L377.1,277.8 L377.2,272.9 L377.4,272.9 L377.6,269.6 L377.7,283.0 L377.9,280.9 L378.1,272.7 L378.3,277.1 L378.4,278.0 L378.6,282.4 L378.8,282.0 L378.9,275.8 L379.1,278.0 L379.3,270.9 L379.4,276.3 L379.6,276.9 L379.8,275.7 L380.0,272.6 L380.1,275.5 L380.3,284.7 L380.5,274.5 L380.6,276.8 L380.8,280.3 L381.0,279.9 L381.1,275.5 L381.3,282.2 L381.5,282.1 L381.7,277.7 L381.8,278.0 L382.0,276.5 L382.2,279.0 L382.3,278.0 L382.5,281.2 L382.7,270.8 L382.8,280.5 L383.0,276.6 L383.2,282.4 L383.4,281.4 L383.5,276.5 L383.7,277.0 L383.9,275.3 L384.0,273.3 L384.2,276.3 L384.4,279.9 L384.5,276.1 L384.7,272.2 L384.9,276.9 L385.1,273.0 L385.2,277.1 L385.4,279.4 L385.6,280.4 L385.7,281.2 L385.9,273.9 L386.1,267.5 L386.2,276.8 L386.4,276.1 L386.6,279.6 L386.8,281.9 L386.9,275.9 L387.1,277.1 L387.3,280.1 L387.4,274.5 L387.6,269.0 L387.8,278.2 L387.9,277.5 L388.1,275.0 L388.3,281.6 L388.5,276.4 L388.6,274.2 L388.8,277.8 L389.0,283.3 L389.1,272.9 L389.3,270.5 L389.5,272.3 L389.6,279.5 L389.8,275.2 L390.0,275.4 L390.2,279.5 L390.3,286.2 L390.5,270.5 L390.7,276.1 L390.8,274.0 L391.0,281.3 L391.2,277.2 L391.3,273.8 L391.5,280.1 L391.7,279.4 L391.9,266.9 L392.0,280.0 L392.2,278.3 L392.4,280.5 L392.5,273.0 L392.7,279.4 L392.9,280.4 L393.0,273.9 L393.2,290.0 L393.4,282.7 L393.6,278.1 L393.7,275.1 L393.9,276.3 L394.1,277.0 L394.2,278.8 L394.4,272.3 L394.6,273.1 L394.7,281.9 L394.9,272.3 L395.1,284.5 L395.3,276.7 L395.4,271.9 L395.6,274.0 L395.8,283.3 L395.9,278.0 L396.1,273.4 L396.3,281.9 L396.4,279.1 L396.6,274.9 L396.8,273.1 L397.0,269.2 L397.1,277.4 L397.3,279.1 L397.5,282.8 L397.6,283.0 L397.8,281.0 L398.0,272.0 L398.1,275.2 L398.3,279.3 L398.5,276.5 L398.7,277.8 L398.8,275.8 L399.0,277.4 L399.2,281.1 L399.3,279.3 L399.5,272.2 L399.7,275.8 L399.8,273.3 L400.0,271.5 L400.2,281.0 L400.4,277.4 L400.5,286.4 L400.7,280.0 L400.9,279.4 L401.0,275.7 L401.2,274.9 L401.4,280.4 L401.5,275.7 L401.7,283.3 L401.9,281.2 L402.1,281.2 L402.2,278.4 L402.4,274.3 L402.6,282.1 L402.7,275.6 L402.9,277.7 L403.1,280.6 L403.2,276.5 L403.4,276.2 L403.6,272.9 L403.8,281.7 L403.9,284.1 L404.1,274.7 L404.3,282.1 L404.4,282.5 L404.6,284.4 L404.8,281.8 L404.9,275.6 L405.1,272.8 L405.3,275.6 L405.5,279.9 L405.6,283.3 L405.8,282.9 L406.0,277.8 L406.1,279.8 L406.3,276.7 L406.5,271.7 L406.6,275.9 L406.8,282.2 L407.0,281.2 L407.2,278.7 L407.3,278.4 L407.5,286.8 L407.7,280.1 L407.8,277.3 L408.0,273.3 L408.2,276.1 L408.3,279.8 L408.5,276.5 L408.7,280.1 L408.9,276.6 L409.0,288.2 L409.2,276.8 L409.4,281.7 L409.5,275.6 L409.7,279.4 L409.9,281.6 L410.0,279.1 L410.2,272.2 L410.4,283.6 L410.6,280.8 L410.7,274.9 L410.9,276.5 L411.1,280.5 L411.2,275.2 L411.4,280.4 L411.6,273.5 L411.7,278.5 L411.9,281.0 L412.1,276.5 L412.3,278.5 L412.4,279.4 L412.6,283.3 L412.8,282.4 L412.9,278.8 L413.1,279.0 L413.3,276.7 L413.4,276.6 L413.6,276.3 L413.8,275.9 L414.0,281.0 L414.1,276.9 L414.3,274.7 L414.5,274.8 L414.6,277.4 L414.8,279.4 L415.0,275.7 L415.1,274.1 L415.3,276.1 L415.5,281.2 L415.7,274.0 L415.8,276.1 L416.0,270.8 L416.2,286.5 L416.3,273.9 L416.5,273.3 L416.7,278.6 L416.8,276.4 L417.0,280.5 L417.2,274.6 L417.4,278.1 L417.5,278.5 L417.7,279.6 L417.9,284.5 L418.0,277.6 L418.2,274.7 L418.4,279.4 L418.5,275.2 L418.7,281.1 L418.9,278.8 L419.1,278.2 L419.2,272.1 L419.4,272.3 L419.6,275.6 L419.7,277.6 L419.9,270.3 L420.1,276.0 L420.2,278.5 L420.4,275.5 L420.6,281.1 L420.8,278.7 L420.9,283.4 L421.1,275.3 L421.3,279.4 L421.4,267.9 L421.6,274.9 L421.8,281.2 L421.9,276.3 L422.1,275.9 L422.3,273.4 L422.5,283.8 L422.6,282.4 L422.8,277.7 L423.0,279.0 L423.1,277.8 L423.3,272.8 L423.5,279.0 L423.6,275.8 L423.8,275.0 L424.0,281.7 L424.2,277.9 L424.3,274.1 L424.5,279.8 L424.7,277.7 L424.8,279.0 L425.0,284.8 L425.2,278.9 L425.3,278.8 L425.5,274.6 L425.7,285.4 L425.9,278.8 L426.0,269.0 L426.2,281.4 L426.4,272.6 L426.5,279.3 L426.7,283.4 L426.9,276.8 L427.0,277.5 L427.2,282.1 L427.4,280.1 L427.6,279.8 L427.7,277.3 L427.9,278.1 L428.1,271.1 L428.2,276.4 L428.4,277.4 L428.6,280.1 L428.7,279.6 L428.9,278.9 L429.1,275.1 L429.3,268.7 L429.4,277.2 L429.6,283.1 L429.8,278.4 L429.9,275.0 L430.1,278.2 L430.3,277.1 L430.4,273.3 L430.6,274.5 L430.8,276.9 L431.0,280.6 L431.1,275.5 L431.3,275.2 L431.5,272.7 L431.6,277.4 L431.8,273.7 L432.0,284.0 L432.1,277.9 L432.3,266.6 L432.5,282.5 L432.7,278.6 L432.8,277.4 L433.0,278.2 L433.2,275.4 L433.3,274.3 L433.5,275.0 L433.7,277.0 L433.8,278.9 L434.0,284.4 L434.2,278.9 L434.4,280.5 L434.5,281.1 L434.7,274.8 L434.9,274.2 L435.0,274.6 L435.2,283.1 L435.4,272.8 L435.5,279.7 L435.7,274.8 L435.9,286.8 L436.1,272.9 L436.2,273.4 L436.4,276.0 L436.6,273.8 L436.7,284.2 L436.9,281.1 L437.1,281.2 L437.2,285.2 L437.4,274.5 L437.6,278.4 L437.8,276.5 L437.9,275.3 L438.1,279.1 L438.3,285.6 L438.4,275.1 L438.6,285.7 L438.8,279.1 L438.9,276.4 L439.1,273.9 L439.3,281.1 L439.5,278.6 L439.6,277.5 L439.8,275.9 L440.0,277.5 L440.1,276.8 L440.3,278.5 L440.5,271.5 L440.6,278.9 L440.8,281.6 L441.0,280.9 L441.2,273.3 L441.3,278.4 L441.5,279.1 L441.7,282.1 L441.8,281.2 L442.0,281.7 L442.2,277.6 L442.3,280.5 L442.5,277.7 L442.7,277.1 L442.9,272.6 L443.0,279.3 L443.2,277.4 L443.4,272.6 L443.5,282.8 L443.7,276.8 L443.9,286.4 L444.0,279.3 L444.2,277.5 L444.4,278.9 L444.6,281.3 L444.7,275.4 L444.9,273.5 L445.1,281.8 L445.2,280.0 L445.4,275.6 L445.6,281.9 L445.7,274.0 L445.9,278.6 L446.1,279.4 L446.3,278.3 L446.4,279.9 L446.6,276.6 L446.8,272.6 L446.9,276.2 L447.1,280.3 L447.3,278.5 L447.4,278.2 L447.6,277.2 L447.8,282.2 L448.0,276.5 L448.1,279.3 L448.3,279.3 L448.5,275.1 L448.6,281.1 L448.8,279.9 L449.0,280.4 L449.1,273.6 L449.3,282.5 L449.5,277.0 L449.7,278.2 L449.8,279.7 L450.0,281.4 L450.2,276.4 L450.3,279.4 L450.5,278.4 L450.7,278.2 L450.8,278.2 L451.0,275.0 L451.2,278.1 L451.4,282.4 L451.5,274.8 L451.7,272.7 L451.9,283.2 L452.0,273.5 L452.2,277.1 L452.4,276.1 L452.5,279.0 L452.7,277.0 L452.9,279.8 L453.1,276.6 L453.2,274.4 L453.4,286.5 L453.6,278.6 L453.7,280.0 L453.9,273.9 L454.1,275.8 L454.2,276.6 L454.4,281.7 L454.6,275.5 L454.8,280.0 L454.9,277.2 L455.1,276.0 L455.3,280.8 L455.4,279.4 L455.6,274.8 L455.8,280.6 L455.9,274.0 L456.1,280.1 L456.3,280.2 L456.5,286.1 L456.6,280.2 L456.8,285.7 L457.0,284.1 L457.1,277.1 L457.3,280.9 L457.5,273.4 L457.6,274.3 L457.8,278.1 L458.0,283.7 L458.2,281.6 L458.3,273.8 L458.5,271.4 L458.7,279.4 L458.8,273.0 L459.0,274.5 L459.2,276.2 L459.3,275.0 L459.5,275.4 L459.7,277.6 L459.9,289.5 L460.0,276.1 L460.2,278.5 L460.4,279.8 L460.5,280.0 L460.7,278.0 L460.9,275.8 L461.0,278.1 L461.2,273.3 L461.4,278.0 L461.6,282.6 L461.7,280.3 L461.9,268.1 L462.1,280.2 L462.2,280.2 L462.4,277.2 L462.6,280.7 L462.7,280.6 L462.9,277.8 L463.1,277.5 L463.3,274.4 L463.4,281.8 L463.6,270.8 L463.8,279.6 L463.9,277.1 L464.1,278.6 L464.3,276.9 L464.4,278.1 L464.6,275.4 L464.8,275.2 L465.0,284.0 L465.1,277.2 L465.3,283.0 L465.5,281.0 L465.6,279.1 L465.8,279.4 L466.0,278.3 L466.1,281.6 L466.3,278.1 L466.5,277.1 L466.7,280.7 L466.8,278.4 L467.0,280.2 L467.2,276.3 L467.3,278.2 L467.5,281.6 L467.7,281.6 L467.8,274.8 L468.0,278.0 L468.2,274.8 L468.4,281.0 L468.5,275.2 L468.7,272.4 L468.9,274.5 L469.0,274.4 L469.2,286.3 L469.4,276.4 L469.5,280.9 L469.7,268.7 L469.9,275.2 L470.1,282.5 L470.2,281.5 L470.4,282.9 L470.6,281.6 L470.7,277.7 L470.9,280.1 L471.1,278.9 L471.2,276.8 L471.4,285.6 L471.6,275.2 L471.8,274.2 L471.9,276.7 L472.1,282.1 L472.3,277.1 L472.4,279.3 L472.6,276.1 L472.8,282.5 L472.9,279.6 L473.1,278.8 L473.3,283.2 L473.5,275.7 L473.6,283.4 L473.8,281.4 L474.0,274.5 L474.1,278.0 L474.3,280.2 L474.5,275.0 L474.6,275.8 L474.8,283.3 L475.0,287.7 L475.2,284.0 L475.3,280.6 L475.5,279.0 L475.7,275.4 L475.8,281.2 L476.0,277.0 L476.2,278.8 L476.3,279.1 L476.5,281.5 L476.7,280.5 L476.9,271.5 L477.0,276.7 L477.2,281.9 L477.4,283.0 L477.5,281.3 L477.7,282.0 L477.9,275.1 L478.0,278.5 L478.2,279.0 L478.4,281.8 L478.6,279.1 L478.7,277.0 L478.9,275.0 L479.1,278.9 L479.2,280.8 L479.4,273.4 L479.6,279.1 L479.7,280.6 L479.9,283.5 L480.1,279.1 L480.3,273.5 L480.4,269.0 L480.6,282.4 L480.8,282.1 L480.9,278.1 L481.1,276.0 L481.3,282.3 L481.4,277.0 L481.6,278.6 L481.8,273.9 L482.0,270.1 L482.1,279.4 L482.3,284.7 L482.5,277.7 L482.6,274.6 L482.8,283.1 L483.0,275.4 L483.1,271.7 L483.3,277.0 L483.5,279.7 L483.7,275.9 L483.8,278.6 L484.0,278.7 L484.2,278.8 L484.3,283.6 L484.5,279.3 L484.7,278.8 L484.8,283.1 L485.0,277.6 L485.2,281.6 L485.4,276.8 L485.5,278.9 L485.7,278.5 L485.9,282.0 L486.0,286.2 L486.2,276.4 L486.4,275.5 L486.5,275.0 L486.7,275.6 L486.9,276.6 L487.1,278.5 L487.2,276.0 L487.4,284.7 L487.6,282.8 L487.7,285.6 L487.9,280.4 L488.1,281.1 L488.2,278.1 L488.4,282.7 L488.6,280.7 L488.8,278.6 L488.9,280.2 L489.1,285.0 L489.3,284.3 L489.4,279.0 L489.6,272.6 L489.8,269.5 L489.9,278.7 L490.1,278.7 L490.3,278.7 L490.5,280.2 L490.6,280.6 L490.8,276.3 L491.0,277.0 L491.1,284.1 L491.3,277.0 L491.5,279.6 L491.6,279.6 L491.8,281.9 L492.0,280.3 L492.2,279.4 L492.3,279.1 L492.5,283.9 L492.7,276.9 L492.8,280.9 L493.0,275.5 L493.2,281.0 L493.3,280.3 L493.5,278.9 L493.7,280.4 L493.9,273.6 L494.0,276.7 L494.2,277.8 L494.4,279.5 L494.5,279.1 L494.7,276.9 L494.9,279.4 L495.0,280.4 L495.2,287.4 L495.4,279.8 L495.6,280.4 L495.7,280.3 L495.9,278.3 L496.1,277.9 L496.2,279.8 L496.4,278.4 L496.6,277.7 L496.7,279.2 L496.9,284.4 L497.1,268.8 L497.3,278.1 L497.4,280.3 L497.6,281.2 L497.8,284.7 L497.9,285.8 L498.1,277.4 L498.3,281.8 L498.4,285.6 L498.6,283.1 L498.8,276.7 L499.0,277.5 L499.1,279.7 L499.3,282.2 L499.5,276.2 L499.6,282.2 L499.8,277.4 L500.0,281.5 L500.1,281.8 L500.3,281.0 L500.5,282.7 L500.7,279.4 L500.8,280.1 L501.0,283.6 L501.2,277.6 L501.3,277.5 L501.5,275.0 L501.7,284.9 L501.8,277.0 L502.0,282.4 L502.2,279.7 L502.4,280.9 L502.5,278.2 L502.7,279.0 L502.9,282.5 L503.0,279.7 L503.2,276.1 L503.4,278.8 L503.5,274.9 L503.7,281.0 L503.9,282.1 L504.1,280.0 L504.2,284.1 L504.4,284.2 L504.6,278.7 L504.7,282.6 L504.9,278.4 L505.1,279.7 L505.2,277.3 L505.4,279.5 L505.6,275.4 L505.8,278.6 L505.9,275.2 L506.1,284.2 L506.3,277.6 L506.4,279.0 L506.6,274.3 L506.8,277.0 L506.9,280.9 L507.1,272.6 L507.3,280.3 L507.5,277.7 L507.6,286.1 L507.8,281.5 L508.0,282.2 L508.1,280.4 L508.3,282.7 L508.5,275.7 L508.6,284.8 L508.8,281.9 L509.0,274.4 L509.2,280.7 L509.3,279.6 L509.5,284.2 L509.7,278.7 L509.8,279.7 L510.0,281.0 L510.2,279.0 L510.3,285.0 L510.5,281.1 L510.7,277.5 L510.9,280.3 L511.0,278.9 L511.2,284.9 L511.4,276.2 L511.5,273.9 L511.7,286.3 L511.9,279.6 L512.0,283.3 L512.2,279.8 L512.4,278.2 L512.6,281.4 L512.7,280.0 L512.9,277.7 L513.1,273.7 L513.2,280.7 L513.4,284.1 L513.6,283.4 L513.7,275.4 L513.9,275.9 L514.1,275.4 L514.3,278.2 L514.4,280.0 L514.6,279.9 L514.8,277.2 L514.9,278.8 L515.1,280.2 L515.3,280.1 L515.4,282.0 L515.6,282.7 L515.8,280.2 L516.0,277.6 L516.1,282.2 L516.3,279.8 L516.5,277.3 L516.6,272.2 L516.8,280.3 L517.0,281.9 L517.1,283.1 L517.3,276.7 L517.5,279.5 L517.7,274.2 L517.8,280.2 L518.0,280.5 L518.2,277.0 L518.3,281.3 L518.5,282.8 L518.7,282.9 L518.8,276.8 L519.0,279.8 L519.2,283.0 L519.4,279.1 L519.5,273.5 L519.7,278.9 L519.9,282.5 L520.0,279.0 L520.2,273.8 L520.4,281.8 L520.5,287.2 L520.7,281.2 L520.9,284.0 L521.1,280.8 L521.2,279.0 L521.4,276.5 L521.6,281.3 L521.7,279.7 L521.9,282.6 L522.1,280.2 L522.2,281.8 L522.4,273.3 L522.6,280.7 L522.8,281.6 L522.9,280.6 L523.1,283.8 L523.3,279.4 L523.4,281.7 L523.6,273.4 L523.8,281.9 L523.9,281.8 L524.1,276.7 L524.3,272.6 L524.5,276.3 L524.6,279.2 L524.8,284.3 L525.0,275.5 L525.1,280.5 L525.3,281.0 L525.5,287.0 L525.6,276.9 L525.8,281.1 L526.0,274.7 L526.2,272.9 L526.3,278.6 L526.5,276.1 L526.7,271.8 L526.8,282.8 L527.0,281.1 L527.2,280.5 L527.3,275.7 L527.5,276.4 L527.7,273.6 L527.9,278.4 L528.0,277.5 L528.2,278.2 L528.4,282.7 L528.5,276.6 L528.7,277.6 L528.9,273.5 L529.0,282.7 L529.2,281.6 L529.4,270.8 L529.6,271.0 L529.7,279.1 L529.9,283.4 L530.1,279.6 L530.2,281.7 L530.4,273.3 L530.6,277.4 L530.7,279.6 L530.9,276.3 L531.1,273.9 L531.3,276.1 L531.4,273.8 L531.6,282.0 L531.8,275.0 L531.9,273.9 L532.1,270.2 L532.3,279.9 L532.4,274.9 L532.6,276.9 L532.8,274.7 L533.0,275.6 L533.1,274.7 L533.3,272.6 L533.5,275.5 L533.6,271.6 L533.8,274.4 L534.0,274.4 L534.1,275.4 L534.3,270.3 L534.5,278.6 L534.7,272.8 L534.8,268.7 L535.0,267.1 L535.2,271.5 L535.3,270.7 L535.5,272.3 L535.7,266.1 L535.8,269.7 L536.0,270.6 L536.2,271.7 L536.4,264.2 L536.5,266.7 L536.7,265.8 L536.9,267.1 L537.0,266.2 L537.2,266.7 L537.4,263.8 L537.5,266.5 L537.7,261.3 L537.9,264.3 L538.1,268.8 L538.2,260.9 L538.4,266.7 L538.6,264.9 L538.7,260.2 L538.9,261.6 L539.1,261.0 L539.2,256.9 L539.4,253.8 L539.6,256.6 L539.8,253.6 L539.9,256.2 L540.1,250.9 L540.3,256.6 L540.4,255.8 L540.6,249.2 L540.8,245.9 L540.9,248.3 L541.1,245.8 L541.3,245.1 L541.5,241.9 L541.6,241.0 L541.8,242.4 L542.0,239.3 L542.1,238.0 L542.3,240.3 L542.5,240.2 L542.6,239.3 L542.8,238.9 L543.0,242.4 L543.2,241.0 L543.3,243.2 L543.5,241.8 L543.7,242.9 L543.8,246.4 L544.0,249.6 L544.2,247.1 L544.3,249.1 L544.5,250.6 L544.7,254.9 L544.9,253.6 L545.0,255.5 L545.2,257.6 L545.4,258.2 L545.5,261.1 L545.7,255.9 L545.9,260.1 L546.0,261.1 L546.2,258.4 L546.4,262.1 L546.6,263.0 L546.7,262.2 L546.9,262.1 L547.1,267.3 L547.2,265.5 L547.4,265.2 L547.6,266.6 L547.7,265.2 L547.9,267.5 L548.1,268.6 L548.3,265.6 L548.4,268.0 L548.6,268.4 L548.8,269.4 L548.9,268.3 L549.1,269.8 L549.3,268.9 L549.4,268.1 L549.6,269.4 L549.8,266.8 L550.0,273.1 L550.1,272.7 L550.3,269.6 L550.5,269.7 L550.6,270.2 L550.8,269.5 L551.0,270.0 L551.1,274.9 L551.3,272.8 L551.5,276.5 L551.7,275.6 L551.8,275.6 L552.0,270.8 L552.2,279.9 L552.3,274.5 L552.5,268.5 L552.7,274.7 L552.8,274.5 L553.0,277.4 L553.2,272.9 L553.4,276.5 L553.5,275.1 L553.7,280.0 L553.9,275.7 L554.0,278.2 L554.2,279.8 L554.4,274.5 L554.5,278.0 L554.7,277.3 L554.9,282.2 L555.1,279.3 L555.2,275.4 L555.4,283.3 L555.6,276.1 L555.7,277.7 L555.9,278.3 L556.1,279.9 L556.2,276.1 L556.4,277.5 L556.6,277.1 L556.8,279.0 L556.9,275.9 L557.1,277.2 L557.3,274.2 L557.4,283.9 L557.6,280.3 L557.8,282.6 L557.9,276.6 L558.1,273.4 L558.3,273.8 L558.5,275.0 L558.6,280.5 L558.8,277.8 L559.0,277.3 L559.1,275.1 L559.3,284.3 L559.5,274.9 L559.6,278.4 L559.8,278.3 L560.0,278.7 L560.2,278.7 L560.3,280.4 L560.5,287.5 L560.7,282.8 L560.8,280.3 L561.0,276.1 L561.2,284.1 L561.3,284.3 L561.5,277.7 L561.7,281.2 L561.9,272.2 L562.0,276.3 L562.2,283.0 L562.4,274.2 L562.5,278.4 L562.7,283.1 L562.9,275.1 L563.0,279.3 L563.2,284.4 L563.4,287.2 L563.6,280.0 L563.7,284.5 L563.9,277.2 L564.1,277.7 L564.2,281.2 L564.4,282.2 L564.6,280.5 L564.7,283.5 L564.9,282.6 L565.1,284.3 L565.3,282.6 L565.4,280.4 L565.6,280.7 L565.8,280.0 L565.9,280.8 L566.1,283.9 L566.3,279.8 L566.4,284.7 L566.6,283.4 L566.8,283.3 L567.0,277.9 L567.1,279.4 L567.3,279.0 L567.5,278.1 L567.6,272.8 L567.8,282.6 L568.0,277.0 L568.1,278.0 L568.3,278.0 L568.5,285.2 L568.7,281.6 L568.8,284.9 L569.0,280.2 L569.2,282.7 L569.3,282.8 L569.5,279.8 L569.7,280.8 L569.8,275.0 L570.0,277.0 L570.2,280.5 L570.4,273.0 L570.5,280.9 L570.7,280.7 L570.9,278.1 L571.0,282.6 L571.2,281.7 L571.4,283.7 L571.5,280.8 L571.7,282.1 L571.9,281.1 L572.1,276.0 L572.2,280.1 L572.4,279.7 L572.6,280.4 L572.7,280.2 L572.9,282.6 L573.1,279.9 L573.2,277.9 L573.4,281.8 L573.6,271.3 L573.8,275.7 L573.9,283.8 L574.1,275.5 L574.3,280.9 L574.4,276.7 L574.6,282.1 L574.8,278.7 L574.9,283.2 L575.1,281.7 L575.3,283.7 L575.5,274.4 L575.6,284.7 L575.8,278.7 L576.0,282.6 L576.1,279.5 L576.3,283.6 L576.5,279.9 L576.6,280.8 L576.8,282.0 L577.0,280.1 L577.2,280.2 L577.3,284.5 L577.5,282.0 L577.7,280.5 L577.8,279.0" fill="none" stroke="#ff0000" stroke-width="1.0" stroke-linejoin="round" />
</g>
<line x1="62.75" y1="364.3" x2="578.5" y2="364.3" stroke="#333" stroke-width="1.2"/>
<line x1="129" y1="358.5" x2="129" y2="364.3" stroke="#222" stroke-width="1.3"/>
<line x1="139.5" y1="361" x2="139.5" y2="364.3" stroke="#6a6aff" stroke-width="1.3"/>
<line x1="156" y1="332.5" x2="156" y2="364.3" stroke="#6a6aff" stroke-width="1.3"/>
<line x1="171.5" y1="332.5" x2="171.5" y2="364.3" stroke="#222" stroke-width="1.3"/>
<line x1="182.5" y1="332.5" x2="182.5" y2="364.3" stroke="#6a6aff" stroke-width="1.3"/>
<line x1="199.5" y1="361" x2="199.5" y2="364.3" stroke="#6a6aff" stroke-width="1.3"/>
<line x1="222.5" y1="332.5" x2="222.5" y2="364.3" stroke="#6a6aff" stroke-width="1.3"/>
<line x1="271" y1="335.2" x2="271" y2="364.3" stroke="#8b1a1a" stroke-width="1.3"/>
<line x1="290.3" y1="332.3" x2="290.3" y2="364.3" stroke="#6a6aff" stroke-width="1.3"/>
<line x1="303.1" y1="358.5" x2="303.1" y2="364.3" stroke="#6a6aff" stroke-width="1.3"/>
<line x1="319.7" y1="335.2" x2="319.7" y2="364.3" stroke="#222" stroke-width="1.3"/>
<line x1="323.5" y1="352.1" x2="323.5" y2="364.3" stroke="#6a6aff" stroke-width="1.3"/>
<line x1="333.1" y1="346.2" x2="333.1" y2="364.3" stroke="#ff4040" stroke-width="1.3"/>
<line x1="350.6" y1="352.1" x2="350.6" y2="364.3" stroke="#6a6aff" stroke-width="1.3"/>
<line x1="364.1" y1="352.1" x2="364.1" y2="364.3" stroke="#6a6aff" stroke-width="1.3"/>
<line x1="372.3" y1="352.1" x2="372.3" y2="364.3" stroke="#6a6aff" stroke-width="1.3"/>
<line x1="402" y1="344.8" x2="402" y2="364.3" stroke="#222" stroke-width="1.3"/>
<line x1="416" y1="344.8" x2="416" y2="364.3" stroke="#222" stroke-width="1.3"/>
<line x1="429.5" y1="360.8" x2="429.5" y2="364.3" stroke="#6a6aff" stroke-width="1.3"/>
<line x1="443.75" y1="360.8" x2="443.75" y2="364.3" stroke="#6a6aff" stroke-width="1.3"/>
<line x1="484.5" y1="345" x2="484.5" y2="364.3" stroke="#222" stroke-width="1.3"/>
<line x1="496.5" y1="358.5" x2="496.5" y2="364.3" stroke="#222" stroke-width="1.3"/>
<line x1="543.2" y1="355.8" x2="543.2" y2="364.3" stroke="#ff4040" stroke-width="1.3"/>
<path d="M129,354.9 L132.6,358.5 L129,362.1 L125.4,358.5 Z" fill="#000"/>
<path d="M139.50,357.10 L140.53,359.58 L143.21,359.79 L141.17,361.54 L141.79,364.16 L139.50,362.75 L137.21,364.16 L137.83,361.54 L135.79,359.79 L138.47,359.58 Z" fill="#0000ff"/>
<path d="M156.00,328.60 L157.03,331.08 L159.71,331.29 L157.67,333.04 L158.29,335.66 L156.00,334.25 L153.71,335.66 L154.33,333.04 L152.29,331.29 L154.97,331.08 Z" fill="#0000ff"/>
<path d="M171.5,328.9 L175.1,332.5 L171.5,336.1 L167.9,332.5 Z" fill="#000"/>
<path d="M182.50,328.60 L183.53,331.08 L186.21,331.29 L184.17,333.04 L184.79,335.66 L182.50,334.25 L180.21,335.66 L180.83,333.04 L178.79,331.29 L181.47,331.08 Z" fill="#0000ff"/>
<path d="M199.50,357.10 L200.53,359.58 L203.21,359.79 L201.17,361.54 L201.79,364.16 L199.50,362.75 L197.21,364.16 L197.83,361.54 L195.79,359.79 L198.47,359.58 Z" fill="#0000ff"/>
<path d="M222.50,328.60 L223.53,331.08 L226.21,331.29 L224.17,333.04 L224.79,335.66 L222.50,334.25 L220.21,335.66 L220.83,333.04 L218.79,331.29 L221.47,331.08 Z" fill="#0000ff"/>
<path d="M271,331.59999999999997 L274.6,335.2 L271,338.8 L267.4,335.2 Z" fill="#000"/>
<path d="M266.9,330.0 L275.1,330.0 L271,336.0 Z" fill="#ff0000"/>
<path d="M290.30,328.40 L291.33,330.88 L294.01,331.09 L291.97,332.84 L292.59,335.46 L290.30,334.06 L288.01,335.46 L288.63,332.84 L286.59,331.09 L289.27,330.88 Z" fill="#0000ff"/>
<path d="M303.10,354.60 L304.13,357.08 L306.81,357.29 L304.77,359.04 L305.39,361.66 L303.10,360.25 L300.81,361.66 L301.43,359.04 L299.39,357.29 L302.07,357.08 Z" fill="#0000ff"/>
<path d="M319.7,331.59999999999997 L323.3,335.2 L319.7,338.8 L316.09999999999997,335.2 Z" fill="#000"/>
<path d="M323.50,348.20 L324.53,350.68 L327.21,350.89 L325.17,352.64 L325.79,355.26 L323.50,353.86 L321.21,355.26 L321.83,352.64 L319.79,350.89 L322.47,350.68 Z" fill="#0000ff"/>
<path d="M329.0,343.2 L337.20000000000005,343.2 L333.1,349.2 Z" fill="#ff0000"/>
<path d="M350.60,348.20 L351.63,350.68 L354.31,350.89 L352.27,352.64 L352.89,355.26 L350.60,353.86 L348.31,355.26 L348.93,352.64 L346.89,350.89 L349.57,350.68 Z" fill="#0000ff"/>
<path d="M364.10,348.20 L365.13,350.68 L367.81,350.89 L365.77,352.64 L366.39,355.26 L364.10,353.86 L361.81,355.26 L362.43,352.64 L360.39,350.89 L363.07,350.68 Z" fill="#0000ff"/>
<path d="M372.30,348.20 L373.33,350.68 L376.01,350.89 L373.97,352.64 L374.59,355.26 L372.30,353.86 L370.01,355.26 L370.63,352.64 L368.59,350.89 L371.27,350.68 Z" fill="#0000ff"/>
<path d="M402,341.2 L405.6,344.8 L402,348.40000000000003 L398.4,344.8 Z" fill="#000"/>
<path d="M416,341.2 L419.6,344.8 L416,348.40000000000003 L412.4,344.8 Z" fill="#000"/>
<path d="M429.50,356.90 L430.53,359.38 L433.21,359.59 L431.17,361.34 L431.79,363.96 L429.50,362.56 L427.21,363.96 L427.83,361.34 L425.79,359.59 L428.47,359.38 Z" fill="#0000ff"/>
<path d="M443.75,356.90 L444.78,359.38 L447.46,359.59 L445.42,361.34 L446.04,363.96 L443.75,362.56 L441.46,363.96 L442.08,361.34 L440.04,359.59 L442.72,359.38 Z" fill="#0000ff"/>
<path d="M484.5,341.4 L488.1,345 L484.5,348.6 L480.9,345 Z" fill="#000"/>
<path d="M496.5,354.9 L500.1,358.5 L496.5,362.1 L492.9,358.5 Z" fill="#000"/>
<path d="M539.1,352.8 L547.3000000000001,352.8 L543.2,358.8 Z" fill="#ff0000"/>
<rect x="62.75" y="4.4" width="515.75" height="368.90000000000003" fill="none" stroke="#000" stroke-width="2.5"/>
<line x1="62.75" y1="373.3" x2="62.75" y2="382.5" stroke="#000" stroke-width="2.4"/>
<line x1="148.71" y1="373.3" x2="148.71" y2="382.5" stroke="#000" stroke-width="2.4"/>
<line x1="234.67" y1="373.3" x2="234.67" y2="382.5" stroke="#000" stroke-width="2.4"/>
<line x1="320.62" y1="373.3" x2="320.62" y2="382.5" stroke="#000" stroke-width="2.4"/>
<line x1="406.58" y1="373.3" x2="406.58" y2="382.5" stroke="#000" stroke-width="2.4"/>
<line x1="492.54" y1="373.3" x2="492.54" y2="382.5" stroke="#000" stroke-width="2.4"/>
<line x1="578.50" y1="373.3" x2="578.50" y2="382.5" stroke="#000" stroke-width="2.4"/>
<line x1="105.73" y1="373.3" x2="105.73" y2="378.0" stroke="#000" stroke-width="2.4"/>
<line x1="191.69" y1="373.3" x2="191.69" y2="378.0" stroke="#000" stroke-width="2.4"/>
<line x1="277.65" y1="373.3" x2="277.65" y2="378.0" stroke="#000" stroke-width="2.4"/>
<line x1="363.60" y1="373.3" x2="363.60" y2="378.0" stroke="#000" stroke-width="2.4"/>
<line x1="449.56" y1="373.3" x2="449.56" y2="378.0" stroke="#000" stroke-width="2.4"/>
<line x1="535.52" y1="373.3" x2="535.52" y2="378.0" stroke="#000" stroke-width="2.4"/>
<text x="49.86" y="403.90" font-family='"Liberation Sans", sans-serif' font-weight="bold" font-size="21.60" textLength="24.75" lengthAdjust="spacingAndGlyphs" fill="#000" >20</text>
<text x="135.93" y="403.90" font-family='"Liberation Sans", sans-serif' font-weight="bold" font-size="21.60" textLength="24.75" lengthAdjust="spacingAndGlyphs" fill="#000" >30</text>
<text x="222.00" y="403.90" font-family='"Liberation Sans", sans-serif' font-weight="bold" font-size="21.60" textLength="24.75" lengthAdjust="spacingAndGlyphs" fill="#000" >40</text>
<text x="307.79" y="403.90" font-family='"Liberation Sans", sans-serif' font-weight="bold" font-size="21.60" textLength="24.75" lengthAdjust="spacingAndGlyphs" fill="#000" >50</text>
<text x="393.69" y="403.90" font-family='"Liberation Sans", sans-serif' font-weight="bold" font-size="21.60" textLength="24.75" lengthAdjust="spacingAndGlyphs" fill="#000" >60</text>
<text x="479.54" y="403.90" font-family='"Liberation Sans", sans-serif' font-weight="bold" font-size="21.60" textLength="24.75" lengthAdjust="spacingAndGlyphs" fill="#000" >70</text>
<text x="565.66" y="403.90" font-family='"Liberation Sans", sans-serif' font-weight="bold" font-size="21.60" textLength="24.75" lengthAdjust="spacingAndGlyphs" fill="#000" >80</text>
<text x="8.63" y="32.80" font-family='"Liberation Sans", sans-serif' font-weight="bold" font-size="40.00" textLength="50.63" lengthAdjust="spacingAndGlyphs" fill="#000" >(a)</text>
<path d="M87.9,289.4 L92.0,293.5 L87.9,297.6 L83.80000000000001,293.5 Z" fill="#000"/>
<text x="97.77" y="297.50" font-family='"Liberation Sans", sans-serif' font-weight="bold" font-size="13.40" textLength="167.64" lengthAdjust="spacingAndGlyphs" fill="#000" >NiSe JCPDS No. 02-0892</text>
<path d="M88.40,309.90 L89.72,313.08 L93.16,313.35 L90.54,315.60 L91.34,318.95 L88.40,317.15 L85.46,318.95 L86.26,315.60 L83.64,313.35 L87.08,313.08 Z" fill="#000"/>
<text x="99.37" y="319.50" font-family='"Liberation Sans", sans-serif' font-weight="bold" font-size="13.40" textLength="162.26" lengthAdjust="spacingAndGlyphs" fill="#000" >NiSe JCPDS No.18-0887</text>
<path d="M358.4,311.29999999999995 L371.6,311.29999999999995 L365.0,322.5 Z" fill="#000"/>
<text x="376.82" y="322.30" font-family='"Liberation Sans", sans-serif' font-weight="bold" font-size="13.40" textLength="32.56" lengthAdjust="spacingAndGlyphs" fill="#000" >FeNi</text>
<text x="408.69" y="327.60" font-family='"Liberation Sans", sans-serif' font-weight="bold" font-size="8.50" textLength="4.61" lengthAdjust="spacingAndGlyphs" fill="#000" >3</text>
<text x="417.39" y="322.30" font-family='"Liberation Sans", sans-serif' font-weight="bold" font-size="13.40" textLength="130.63" lengthAdjust="spacingAndGlyphs" fill="#000" >JCPDS No. 38-0419</text>
<text transform="scale(1.04,1)" x="325.53" y="171.00" font-family='"Liberation Sans", sans-serif' font-weight="bold" font-size="20.00" textLength="212.28" lengthAdjust="spacing" fill="#000" >Fe-NiSe@FeNi foam</text>
<text x="374.72" y="266.60" font-family='"Liberation Sans", sans-serif' font-weight="bold" font-size="21.00" textLength="110.04" lengthAdjust="spacingAndGlyphs" fill="#000" >FeNi foam</text>
<text transform="rotate(-90)" x="-310.29" y="40.10" font-family='"Liberation Sans", sans-serif' font-weight="bold" font-size="32.00" textLength="227.29" lengthAdjust="spacingAndGlyphs" fill="#000">Intensity (a. u.)</text>
<text x="278.23" y="433.30" font-family='"Liberation Sans", sans-serif' font-weight="bold" font-size="29.00" textLength="17.03" lengthAdjust="spacingAndGlyphs" fill="#000" >2</text>
<text x="295.21" y="433.00" font-family='"Liberation Serif", serif' font-weight="normal" font-size="29.50" textLength="16.95" lengthAdjust="spacingAndGlyphs" fill="#000" stroke="#000" stroke-width="0.7">θ</text>
<text x="319.88" y="433.00" font-family='"Liberation Serif", serif' font-weight="normal" font-size="30.50" textLength="33.61" lengthAdjust="spacingAndGlyphs" fill="#000" stroke="#000" stroke-width="0.6">(°)</text>
<clipPath id="cb"><rect x="666.8" y="5.9" width="499.9" height="359.1"/></clipPath>
<g clip-path="url(#cb)">
<path d="M667.0,237.4 L668.8,231.7 L670.6,236.7 L672.4,225.6 L674.2,224.1 L676.0,230.7 L677.8,240.7 L679.6,218.5 L681.4,229.3 L683.2,232.2 L685.0,231.6 L686.8,218.2 L688.6,240.1 L690.4,215.6 L692.2,238.7 L694.0,219.5 L695.8,228.8 L697.6,219.2 L699.4,225.8 L701.2,219.8 L703.0,225.2 L704.8,218.6 L706.6,228.3 L708.4,222.0 L710.2,219.7 L712.0,214.6 L713.8,216.2 L715.6,209.4 L717.4,220.0 L719.2,214.0 L721.0,214.4 L722.8,213.3 L724.6,213.6 L726.4,208.5 L728.2,214.7 L730.0,202.5 L731.8,207.2 L733.6,211.2 L735.4,201.2 L737.2,205.7 L739.0,195.7 L740.8,195.8 L742.6,191.9 L744.4,188.5 L746.2,194.7 L748.0,188.5 L749.8,200.1 L751.6,193.8 L753.4,193.9 L755.2,189.4 L757.0,196.8 L758.8,188.4 L760.6,194.0 L762.4,178.9 L764.2,194.2 L766.0,184.2 L767.8,189.6 L769.6,189.0 L771.4,189.9 L773.2,181.0 L775.0,190.1 L776.8,185.9 L778.6,187.7 L780.4,179.9 L782.2,183.3 L784.0,180.5 L785.8,190.0 L787.6,194.6 L789.4,184.1 L791.2,180.7 L793.0,188.5 L794.8,182.8 L796.6,192.0 L798.4,194.9 L800.2,191.6 L802.0,198.9 L803.8,203.9 L805.6,202.4 L807.4,211.2 L809.2,207.2 L811.0,216.8 L812.8,203.6 L814.6,216.1 L816.4,209.4 L818.2,216.5 L820.0,217.1 L821.8,215.4 L823.6,220.0 L825.4,224.5 L827.2,218.6 L829.0,225.7 L830.8,210.5 L832.6,206.7 L834.4,208.9 L836.2,209.5 L838.0,200.0 L839.8,194.1 L841.6,187.5 L843.4,185.9 L845.2,177.4 L847.0,174.5 L848.8,166.2 L850.6,163.0 L852.4,158.0 L854.2,155.8 L856.0,145.2 L857.8,148.7 L859.6,149.9 L861.4,155.2 L863.2,157.5 L865.0,161.1 L866.8,163.6 L868.6,171.7 L870.4,175.4 L872.2,185.5 L874.0,194.6 L875.8,203.0 L877.6,209.7 L879.4,217.6 L881.2,220.5 L883.0,227.2 L884.8,232.0 L886.6,244.1 L888.4,241.1 L890.2,250.2 L892.0,250.4 L893.8,255.3 L895.6,249.2 L897.4,268.9 L899.2,258.7 L901.0,252.0 L902.8,261.0 L904.6,266.9 L906.4,266.4 L908.2,267.8 L910.0,266.4 L911.8,278.7 L913.6,269.5 L915.4,276.9 L917.2,268.8 L919.0,270.9 L920.8,268.1 L922.6,263.6 L924.4,273.1 L926.2,267.2 L928.0,264.3 L929.8,266.5 L931.6,261.2 L933.4,257.6 L935.2,261.3 L937.0,258.2 L938.8,256.6 L940.6,254.6 L942.4,253.0 L944.2,264.5 L946.0,255.4 L947.8,262.1 L949.6,254.0 L951.4,255.0 L953.2,252.3 L955.0,253.6 L956.8,252.7 L958.6,247.6 L960.4,250.9 L962.2,258.4 L964.0,254.3 L965.8,256.1 L967.6,249.6 L969.4,245.1 L971.2,249.3 L973.0,246.9 L974.8,242.7 L976.6,238.4 L978.4,239.6 L980.2,243.4 L982.0,234.8 L983.8,232.8 L985.6,228.5 L987.4,229.4 L989.2,225.6 L991.0,225.8 L992.8,219.7 L994.6,219.6 L996.4,215.6 L998.2,209.6 L1000.0,204.1 L1001.8,212.4 L1003.6,203.7 L1005.4,209.5 L1007.2,194.4 L1009.0,207.1 L1010.8,196.3 L1012.6,206.8 L1014.4,185.4 L1016.2,191.6 L1018.0,200.0 L1019.8,197.7 L1021.6,195.8 L1023.4,198.2 L1025.2,196.5 L1027.0,201.2 L1028.8,191.0 L1030.6,203.9 L1032.4,208.5 L1034.2,212.1 L1036.0,208.2 L1037.8,219.7 L1039.6,224.0 L1041.4,225.3 L1043.2,226.9 L1045.0,242.9 L1046.8,244.0 L1048.6,251.4 L1050.4,249.3 L1052.2,262.5 L1054.0,261.6 L1055.8,256.4 L1057.6,255.7 L1059.4,253.2 L1061.2,245.2 L1063.0,241.9 L1064.8,238.8 L1066.6,234.4 L1068.4,223.3 L1070.2,213.8 L1072.0,203.0 L1073.8,198.6 L1075.6,188.6 L1077.4,180.5 L1079.2,168.2 L1081.0,162.2 L1082.8,156.7 L1084.6,151.9 L1086.4,142.0 L1088.2,133.1 L1090.0,122.4 L1091.8,101.1 L1093.6,76.0 L1095.4,69.3 L1097.2,57.6 L1099.0,55.0 L1100.8,50.6 L1102.6,57.2 L1104.4,75.9 L1106.2,98.8 L1108.0,117.3 L1109.8,143.0 L1111.6,166.3 L1113.4,190.2 L1115.2,205.8 L1117.0,222.8 L1118.8,234.7 L1120.6,248.1 L1122.4,258.4 L1124.2,266.1 L1126.0,271.9 L1127.8,278.8 L1129.6,281.2 L1131.4,289.7 L1133.2,296.5 L1135.0,304.3 L1136.8,303.2 L1138.6,310.6 L1140.4,311.4 L1142.2,314.2 L1144.0,317.0 L1145.8,325.1 L1147.6,323.2 L1149.4,327.8 L1151.2,321.3 L1153.0,330.2 L1154.8,333.4 L1156.6,332.5 L1158.4,333.3 L1160.2,336.8 L1162.0,330.2 L1163.8,336.7 L1165.6,333.5" fill="none" stroke="#000" stroke-width="2.6" stroke-linejoin="round" />
<path d="M667.0,233.5 L667.0,227.2 L668.0,227.3 L669.0,227.3 L670.0,227.4 L671.0,227.5 L672.0,227.5 L673.0,227.6 L674.0,227.6 L675.0,227.7 L676.0,227.7 L677.0,227.8 L678.0,227.8 L679.0,227.9 L680.0,227.9 L681.0,228.0 L682.0,228.0 L683.0,228.0 L684.0,228.0 L685.0,228.1 L686.0,228.1 L687.0,228.1 L688.0,228.1 L689.0,228.1 L690.0,228.1 L691.0,228.1 L692.0,228.1 L693.0,228.1 L694.0,228.1 L695.0,228.1 L696.0,228.0 L697.0,228.0 L698.0,228.0 L699.0,228.0 L700.0,227.9 L701.0,227.9 L702.0,227.9 L703.0,227.9 L704.0,227.8 L705.0,227.8 L706.0,227.8 L707.0,227.7 L708.0,227.6 L709.0,227.4 L710.0,227.3 L711.0,227.1 L712.0,226.9 L713.0,226.7 L714.0,226.5 L715.0,226.2 L716.0,226.0 L717.0,225.7 L718.0,225.5 L719.0,225.2 L720.0,225.0 L721.0,224.7 L722.0,224.5 L723.0,224.2 L724.0,223.8 L725.0,223.5 L726.0,223.1 L727.0,222.6 L728.0,222.2 L729.0,221.7 L730.0,221.2 L731.0,220.7 L732.0,220.2 L733.0,219.7 L734.0,219.1 L735.0,218.5 L736.0,217.9 L737.0,217.2 L738.0,216.4 L739.0,215.6 L740.0,214.7 L741.0,213.8 L742.0,212.9 L743.0,211.9 L744.0,211.0 L745.0,210.0 L746.0,209.0 L747.0,208.1 L748.0,207.2 L749.0,206.3 L750.0,205.5 L751.0,204.7 L752.0,203.9 L753.0,203.1 L754.0,202.3 L755.0,201.5 L756.0,200.7 L757.0,199.9 L758.0,199.2 L759.0,198.4 L760.0,197.8 L761.0,197.1 L762.0,196.5 L763.0,195.9 L764.0,195.3 L765.0,194.8 L766.0,194.2 L767.0,193.7 L768.0,193.3 L769.0,192.9 L770.0,192.5 L771.0,192.2 L772.0,192.0 L773.0,192.0 L774.0,192.0 L775.0,192.2 L776.0,192.5 L777.0,192.9 L778.0,193.4 L779.0,193.9 L780.0,194.5 L781.0,195.2 L782.0,195.8 L783.0,196.5 L784.0,197.2 L785.0,198.1 L786.0,199.0 L787.0,200.0 L788.0,201.1 L789.0,202.3 L790.0,203.5 L791.0,204.8 L792.0,206.1 L793.0,207.4 L794.0,208.7 L795.0,210.0 L796.0,211.4 L797.0,212.8 L798.0,214.3 L799.0,215.9 L800.0,217.5 L801.0,219.1 L802.0,220.7 L803.0,222.3 L804.0,223.8 L805.0,225.3 L806.0,226.7 L807.0,228.0 L808.0,229.2 L809.0,230.4 L810.0,231.5 L811.0,232.6 L812.0,233.7 L813.0,234.7 L814.0,235.7 L815.0,236.7 L816.0,237.8 L817.0,238.8 L818.0,239.8 L819.0,240.9 L820.0,241.9 L821.0,242.9 L822.0,243.9 L823.0,245.0 L824.0,246.0 L825.0,247.0 L826.0,248.0 L827.0,249.0 L828.0,250.0 L829.0,251.0 L830.0,252.1 L831.0,253.2 L832.0,254.2 L833.0,255.3 L834.0,256.4 L835.0,257.5 L836.0,258.5 L837.0,259.4 L838.0,260.4 L839.0,261.2 L840.0,262.0 L841.0,262.7 L842.0,263.5 L843.0,264.2 L844.0,264.8 L845.0,265.5 L846.0,266.1 L847.0,266.7 L848.0,267.3 L849.0,267.9 L850.0,268.4 L851.0,268.8 L852.0,269.2 L853.0,269.6 L854.0,269.9 L855.0,270.2 L855.0,270.2" fill="#771aff" stroke="none" stroke-width="1" />
<path d="M741.0,247.9 L741.0,247.9 L742.0,248.1 L743.0,248.3 L744.0,248.5 L745.0,248.3 L746.0,248.2 L747.0,248.1 L748.0,247.9 L749.0,247.8 L750.0,247.7 L751.0,247.6 L752.0,247.4 L753.0,247.3 L754.0,247.2 L755.0,247.1 L756.0,247.0 L757.0,246.9 L758.0,246.8 L759.0,246.7 L760.0,246.6 L761.0,246.6 L762.0,246.5 L763.0,246.4 L764.0,246.4 L765.0,246.3 L766.0,246.3 L767.0,246.2 L768.0,246.2 L769.0,246.2 L770.0,246.2 L771.0,246.2 L772.0,246.2 L773.0,246.2 L774.0,246.2 L775.0,246.2 L776.0,246.2 L777.0,246.3 L778.0,246.3 L779.0,246.3 L780.0,246.4 L781.0,246.4 L782.0,246.5 L783.0,246.5 L784.0,246.5 L785.0,246.6 L786.0,246.6 L787.0,246.6 L788.0,246.7 L789.0,246.7 L790.0,246.7 L791.0,246.7 L792.0,246.7 L793.0,246.7 L794.0,246.7 L795.0,246.7 L796.0,246.7 L797.0,246.6 L798.0,246.5 L799.0,246.3 L800.0,246.2 L801.0,246.0 L802.0,245.7 L803.0,245.5 L804.0,245.2 L805.0,244.9 L806.0,244.5 L807.0,244.2 L808.0,243.8 L809.0,243.4 L810.0,243.0 L811.0,242.5 L812.0,241.8 L813.0,241.0 L814.0,240.1 L815.0,239.2 L816.0,238.3 L817.0,237.5 L818.0,236.8 L819.0,236.1 L820.0,235.2 L821.0,233.8 L822.0,231.9 L823.0,229.6 L824.0,227.0 L825.0,224.3 L826.0,221.5 L827.0,218.8 L828.0,216.2 L829.0,213.8 L830.0,211.4 L831.0,209.1 L832.0,206.7 L833.0,204.3 L834.0,201.9 L835.0,199.5 L836.0,196.9 L837.0,194.3 L838.0,191.4 L839.0,188.2 L840.0,184.9 L841.0,181.6 L842.0,178.4 L843.0,175.3 L844.0,172.4 L845.0,170.0 L846.0,167.8 L847.0,165.7 L848.0,163.6 L849.0,161.7 L850.0,159.9 L851.0,158.3 L852.0,156.9 L853.0,155.8 L854.0,154.9 L855.0,154.3 L856.0,154.1 L857.0,154.4 L858.0,155.2 L859.0,156.3 L860.0,157.9 L861.0,159.7 L862.0,161.8 L863.0,164.0 L864.0,166.6 L865.0,169.8 L866.0,173.4 L867.0,177.5 L868.0,181.6 L869.0,185.8 L870.0,189.7 L871.0,193.5 L872.0,197.4 L873.0,201.3 L874.0,205.2 L875.0,209.0 L876.0,212.5 L877.0,215.8 L878.0,219.0 L879.0,222.0 L880.0,224.9 L881.0,227.6 L882.0,230.2 L883.0,232.5 L884.0,234.6 L885.0,236.7 L886.0,238.7 L887.0,240.6 L888.0,242.4 L889.0,244.2 L890.0,245.8 L891.0,247.4 L892.0,248.9 L893.0,250.4 L894.0,251.8 L895.0,253.3 L896.0,254.8 L897.0,256.2 L898.0,257.5 L899.0,258.9 L900.0,260.1 L901.0,261.2 L902.0,262.3 L903.0,263.2 L904.0,264.0 L905.0,264.7 L906.0,265.5 L907.0,266.2 L908.0,266.8 L909.0,267.5 L910.0,268.1 L911.0,268.7 L912.0,269.3 L913.0,269.9 L914.0,270.4 L915.0,271.0 L916.0,271.5 L917.0,272.1 L918.0,272.6 L919.0,273.1 L920.0,273.6 L921.0,274.1 L922.0,274.6 L923.0,275.0 L924.0,275.5 L925.0,275.9 L926.0,276.3 L927.0,276.7 L928.0,277.1 L929.0,277.5 L930.0,277.9 L931.0,278.3 L932.0,278.6 L933.0,279.0 L934.0,279.4 L935.0,279.7 L936.0,280.1 L937.0,280.5 L938.0,280.8 L939.0,281.2 L940.0,281.5 L941.0,281.8 L942.0,282.1 L943.0,282.4 L944.0,282.7 L945.0,283.0 L946.0,283.2 L947.0,283.5 L948.0,283.8 L949.0,284.1 L950.0,284.5 L951.0,284.9 L952.0,285.3 L953.0,285.8 L954.0,286.3 L955.0,286.8 L956.0,287.4 L957.0,287.9 L958.0,288.5 L959.0,289.1 L960.0,289.7 L961.0,290.4 L962.0,291.0 L962.0,291.0" fill="#000073" stroke="none" stroke-width="1" />
<path d="M902.0,279.3 L902.0,276.3 L903.0,276.4 L904.0,276.5 L905.0,276.6 L906.0,276.7 L907.0,276.7 L908.0,276.8 L909.0,276.9 L910.0,277.0 L911.0,277.0 L912.0,277.1 L913.0,277.2 L914.0,277.2 L915.0,277.3 L916.0,277.3 L917.0,277.4 L918.0,277.4 L919.0,277.5 L920.0,277.5 L921.0,277.5 L922.0,277.5 L923.0,277.6 L924.0,277.6 L925.0,277.6 L926.0,277.5 L927.0,277.5 L928.0,277.5 L929.0,277.5 L930.0,277.4 L931.0,277.4 L932.0,277.4 L933.0,277.3 L934.0,277.3 L935.0,277.2 L936.0,277.2 L937.0,277.1 L938.0,277.1 L939.0,277.0 L940.0,277.0 L941.0,276.9 L942.0,276.9 L943.0,276.8 L944.0,276.7 L945.0,276.5 L946.0,276.4 L947.0,276.2 L948.0,276.1 L949.0,275.9 L950.0,275.7 L951.0,275.5 L952.0,275.3 L953.0,275.0 L954.0,274.8 L955.0,274.5 L956.0,274.2 L957.0,274.0 L958.0,273.7 L959.0,273.4 L960.0,273.1 L961.0,272.8 L962.0,272.5 L963.0,272.2 L964.0,271.9 L965.0,271.6 L966.0,271.3 L967.0,270.9 L968.0,270.5 L969.0,270.0 L970.0,269.5 L971.0,268.8 L972.0,268.0 L973.0,267.2 L974.0,266.3 L975.0,265.4 L976.0,264.5 L977.0,263.5 L978.0,262.5 L979.0,261.4 L980.0,260.4 L981.0,259.4 L982.0,258.2 L983.0,257.0 L984.0,255.7 L985.0,254.4 L986.0,253.0 L987.0,251.5 L988.0,250.1 L989.0,248.6 L990.0,247.0 L991.0,245.5 L992.0,244.0 L993.0,242.4 L994.0,240.9 L995.0,239.2 L996.0,237.5 L997.0,235.7 L998.0,233.9 L999.0,232.0 L1000.0,230.1 L1001.0,228.3 L1002.0,226.4 L1003.0,224.7 L1004.0,223.0 L1005.0,221.5 L1006.0,220.1 L1007.0,218.8 L1008.0,217.6 L1009.0,216.5 L1010.0,215.5 L1011.0,214.5 L1012.0,213.6 L1013.0,212.7 L1014.0,212.0 L1015.0,211.3 L1016.0,210.8 L1017.0,210.4 L1018.0,210.2 L1019.0,210.0 L1020.0,210.1 L1021.0,210.4 L1022.0,210.8 L1023.0,211.4 L1024.0,212.1 L1025.0,212.9 L1026.0,213.8 L1027.0,214.8 L1028.0,216.0 L1029.0,217.5 L1030.0,219.3 L1031.0,221.2 L1032.0,223.3 L1033.0,225.4 L1034.0,227.4 L1035.0,229.5 L1036.0,231.6 L1037.0,233.7 L1038.0,235.9 L1039.0,238.2 L1040.0,240.4 L1041.0,242.7 L1042.0,245.0 L1043.0,247.3 L1044.0,249.5 L1045.0,251.8 L1046.0,254.0 L1047.0,256.2 L1048.0,258.4 L1049.0,260.6 L1050.0,262.8 L1051.0,265.0 L1052.0,267.1 L1053.0,269.3 L1054.0,271.4 L1055.0,273.5 L1056.0,275.5 L1057.0,277.5 L1058.0,279.5 L1059.0,281.4 L1060.0,283.3 L1061.0,285.2 L1062.0,287.0 L1063.0,288.8 L1064.0,290.4 L1065.0,292.0 L1066.0,293.5 L1067.0,294.9 L1068.0,296.3 L1069.0,297.7 L1070.0,299.0 L1071.0,300.3 L1072.0,301.5 L1073.0,302.7 L1074.0,303.9 L1075.0,305.0 L1076.0,306.1 L1077.0,307.2 L1078.0,308.3 L1079.0,309.3 L1080.0,310.4 L1081.0,311.4 L1082.0,312.3 L1083.0,313.3 L1084.0,314.2 L1085.0,315.0 L1085.0,315.0" fill="#0b7d0b" stroke="none" stroke-width="1" />
<path d="M972.2,293.0 L972.2,289.6 L973.2,289.6 L974.2,289.7 L975.2,289.7 L976.2,289.7 L977.2,289.8 L978.2,289.8 L979.2,289.8 L980.2,289.9 L981.2,289.9 L982.2,289.9 L983.2,290.0 L984.2,290.0 L985.2,290.0 L986.2,290.1 L987.2,290.1 L988.2,290.1 L989.2,290.2 L990.2,290.2 L991.2,290.2 L992.2,290.3 L993.2,290.3 L994.2,290.3 L995.2,290.4 L996.2,290.4 L997.2,290.4 L998.2,290.4 L999.2,290.5 L1000.2,290.5 L1001.2,290.5 L1002.2,290.6 L1003.2,290.6 L1004.2,290.6 L1005.2,290.7 L1006.2,290.7 L1007.2,290.7 L1008.2,290.7 L1009.2,290.8 L1010.2,290.8 L1011.2,290.8 L1012.2,290.8 L1013.2,290.9 L1014.2,290.9 L1015.2,290.9 L1016.2,290.9 L1017.2,291.0 L1018.2,291.0 L1019.2,291.0 L1020.2,291.0 L1021.2,291.0 L1022.2,291.0 L1023.2,291.0 L1024.2,290.9 L1025.2,290.8 L1026.2,290.8 L1027.2,290.7 L1028.2,290.6 L1029.2,290.5 L1030.2,290.3 L1031.2,290.2 L1032.2,290.1 L1033.2,289.9 L1034.2,289.8 L1035.2,289.7 L1036.2,289.5 L1037.2,289.4 L1038.2,289.2 L1039.2,289.1 L1040.2,289.0 L1041.2,288.8 L1042.2,288.6 L1043.2,288.3 L1044.2,288.0 L1045.2,287.6 L1046.2,287.3 L1047.2,286.9 L1048.2,286.5 L1049.2,286.1 L1050.2,285.5 L1051.2,284.8 L1052.2,284.1 L1053.2,283.3 L1054.2,282.4 L1055.2,281.5 L1056.2,280.5 L1057.2,279.4 L1058.2,278.2 L1059.2,277.0 L1060.2,275.7 L1061.2,274.1 L1062.2,272.0 L1063.2,269.5 L1064.2,266.6 L1065.2,263.5 L1066.2,260.1 L1067.2,256.6 L1068.2,253.0 L1069.2,249.4 L1070.2,245.8 L1071.2,242.2 L1072.2,238.8 L1073.2,235.2 L1074.2,231.4 L1075.2,227.5 L1076.2,223.4 L1077.2,219.1 L1078.2,214.6 L1079.2,209.9 L1080.2,204.7 L1081.2,199.1 L1082.2,193.1 L1083.2,186.7 L1084.2,180.0 L1085.2,172.9 L1086.2,164.2 L1087.2,154.1 L1088.2,143.6 L1089.2,133.9 L1090.2,126.2 L1091.2,119.8 L1092.2,113.6 L1093.2,107.8 L1094.2,102.5 L1095.2,98.0 L1096.2,94.3 L1097.2,91.7 L1098.2,90.3 L1099.2,90.2 L1100.2,91.5 L1101.2,94.0 L1102.2,97.6 L1103.2,102.1 L1104.2,107.4 L1105.2,113.2 L1106.2,119.6 L1107.2,126.4 L1108.2,135.4 L1109.2,146.1 L1110.2,157.3 L1111.2,167.9 L1112.2,177.1 L1113.2,185.9 L1114.2,194.5 L1115.2,202.5 L1116.2,209.8 L1117.2,216.2 L1118.2,222.4 L1119.2,228.5 L1120.2,234.4 L1121.2,240.0 L1122.2,245.2 L1123.2,249.8 L1124.2,253.9 L1125.2,257.2 L1126.2,260.1 L1127.2,262.9 L1128.2,265.5 L1129.2,268.1 L1130.2,270.5 L1131.2,272.9 L1132.2,275.1 L1133.2,277.2 L1134.2,279.2 L1135.2,281.0 L1136.2,282.8 L1137.2,284.4 L1138.2,285.9 L1139.2,287.5 L1140.2,289.0 L1141.2,290.6 L1142.2,292.1 L1143.2,293.6 L1144.2,295.0 L1145.2,296.5 L1146.2,297.9 L1147.2,299.3 L1148.2,300.6 L1149.2,301.9 L1150.2,303.2 L1151.2,304.5 L1152.2,305.7 L1153.2,306.8 L1154.2,308.0 L1155.2,309.1 L1156.2,310.2 L1157.2,311.3 L1158.2,312.4 L1159.2,313.5 L1160.2,314.6 L1161.2,315.6 L1162.2,316.6 L1163.2,317.5 L1164.2,318.4 L1165.2,319.3 L1166.2,320.1 L1167.0,320.7 L1167.0,331.0" fill="#ff00ff" stroke="none" stroke-width="1" />
<path d="M1060.0,310.1 L1060.0,307.5 L1061.0,307.3 L1062.0,307.2 L1063.0,307.0 L1064.0,306.8 L1065.0,306.7 L1066.0,306.5 L1067.0,306.3 L1068.0,306.2 L1069.0,306.0 L1070.0,305.8 L1071.0,305.6 L1072.0,305.5 L1073.0,305.3 L1074.0,305.1 L1075.0,304.9 L1076.0,304.7 L1077.0,304.6 L1078.0,304.4 L1079.0,304.2 L1080.0,304.0 L1081.0,303.8 L1082.0,303.6 L1083.0,303.4 L1084.0,303.2 L1085.0,303.0 L1086.0,302.8 L1087.0,302.6 L1088.0,302.3 L1089.0,302.1 L1090.0,301.9 L1091.0,301.7 L1092.0,301.5 L1093.0,301.3 L1094.0,301.1 L1095.0,300.9 L1096.0,300.7 L1097.0,300.5 L1098.0,300.3 L1099.0,300.2 L1100.0,300.0 L1101.0,299.9 L1102.0,299.7 L1103.0,299.6 L1104.0,299.5 L1105.0,299.4 L1106.0,299.3 L1107.0,299.2 L1108.0,299.1 L1109.0,299.1 L1110.0,299.0 L1111.0,299.0 L1112.0,299.0 L1113.0,298.9 L1114.0,298.9 L1115.0,298.9 L1116.0,298.9 L1117.0,299.0 L1118.0,299.0 L1119.0,299.0 L1120.0,299.1 L1121.0,299.3 L1122.0,299.5 L1123.0,299.7 L1124.0,300.0 L1125.0,300.3 L1126.0,300.6 L1127.0,300.9 L1128.0,301.3 L1129.0,301.6 L1130.0,302.0 L1131.0,302.4 L1132.0,302.8 L1133.0,303.3 L1134.0,303.8 L1135.0,304.4 L1136.0,304.9 L1137.0,305.5 L1138.0,306.1 L1139.0,306.6 L1140.0,307.2 L1141.0,307.7 L1142.0,308.3 L1143.0,308.9 L1144.0,309.5 L1145.0,310.1 L1146.0,310.7 L1147.0,311.3 L1148.0,311.9 L1149.0,312.5 L1150.0,313.1 L1151.0,313.7 L1152.0,314.3 L1153.0,314.9 L1154.0,315.4 L1155.0,316.0 L1156.0,316.6 L1157.0,317.1 L1158.0,317.6 L1159.0,318.2 L1160.0,318.7 L1161.0,319.2 L1162.0,319.8 L1163.0,320.3 L1164.0,320.8 L1165.0,321.3 L1166.0,321.8 L1167.0,322.3 L1167.0,331.0" fill="#0000ff" stroke="none" stroke-width="1" />
<line x1="667" y1="233.5" x2="1167" y2="331.0" stroke="#ff5050" stroke-width="0.6" opacity="0.6"/>
</g>
<rect x="666.8" y="5.9" width="499.9000000000001" height="359.1" fill="none" stroke="#000" stroke-width="2.6"/>
<line x1="693.50" y1="365.0" x2="693.50" y2="374.4" stroke="#000" stroke-width="2.6"/>
<line x1="761.10" y1="365.0" x2="761.10" y2="374.4" stroke="#000" stroke-width="2.6"/>
<line x1="828.70" y1="365.0" x2="828.70" y2="374.4" stroke="#000" stroke-width="2.6"/>
<line x1="896.30" y1="365.0" x2="896.30" y2="374.4" stroke="#000" stroke-width="2.6"/>
<line x1="963.90" y1="365.0" x2="963.90" y2="374.4" stroke="#000" stroke-width="2.6"/>
<line x1="1031.50" y1="365.0" x2="1031.50" y2="374.4" stroke="#000" stroke-width="2.6"/>
<line x1="1099.10" y1="365.0" x2="1099.10" y2="374.4" stroke="#000" stroke-width="2.6"/>
<line x1="1166.70" y1="365.0" x2="1166.70" y2="374.4" stroke="#000" stroke-width="2.6"/>
<line x1="727.30" y1="365.0" x2="727.30" y2="370.6" stroke="#000" stroke-width="2.6"/>
<line x1="794.90" y1="365.0" x2="794.90" y2="370.6" stroke="#000" stroke-width="2.6"/>
<line x1="862.50" y1="365.0" x2="862.50" y2="370.6" stroke="#000" stroke-width="2.6"/>
<line x1="930.10" y1="365.0" x2="930.10" y2="370.6" stroke="#000" stroke-width="2.6"/>
<line x1="997.70" y1="365.0" x2="997.70" y2="370.6" stroke="#000" stroke-width="2.6"/>
<line x1="1065.30" y1="365.0" x2="1065.30" y2="370.6" stroke="#000" stroke-width="2.6"/>
<line x1="1132.90" y1="365.0" x2="1132.90" y2="370.6" stroke="#000" stroke-width="2.6"/>
<text x="674.83" y="395.20" font-family='"Liberation Sans", sans-serif' font-weight="bold" font-size="22.00" textLength="36.71" lengthAdjust="spacingAndGlyphs" fill="#000" >885</text>
<text x="742.60" y="395.20" font-family='"Liberation Sans", sans-serif' font-weight="bold" font-size="22.00" textLength="36.71" lengthAdjust="spacingAndGlyphs" fill="#000" >880</text>
<text x="810.03" y="395.20" font-family='"Liberation Sans", sans-serif' font-weight="bold" font-size="22.00" textLength="36.71" lengthAdjust="spacingAndGlyphs" fill="#000" >875</text>
<text x="877.80" y="395.20" font-family='"Liberation Sans", sans-serif' font-weight="bold" font-size="22.00" textLength="36.71" lengthAdjust="spacingAndGlyphs" fill="#000" >870</text>
<text x="945.23" y="395.20" font-family='"Liberation Sans", sans-serif' font-weight="bold" font-size="22.00" textLength="36.71" lengthAdjust="spacingAndGlyphs" fill="#000" >865</text>
<text x="1013.00" y="395.20" font-family='"Liberation Sans", sans-serif' font-weight="bold" font-size="22.00" textLength="36.71" lengthAdjust="spacingAndGlyphs" fill="#000" >860</text>
<text x="1080.43" y="395.20" font-family='"Liberation Sans", sans-serif' font-weight="bold" font-size="22.00" textLength="36.71" lengthAdjust="spacingAndGlyphs" fill="#000" >855</text>
<text x="1148.19" y="395.20" font-family='"Liberation Sans", sans-serif' font-weight="bold" font-size="22.00" textLength="36.71" lengthAdjust="spacingAndGlyphs" fill="#000" >850</text>
<text x="609.35" y="34.70" font-family='"Liberation Sans", sans-serif' font-weight="bold" font-size="40.00" textLength="54.87" lengthAdjust="spacingAndGlyphs" fill="#000" >(b)</text>
<text x="681.04" y="41.50" font-family='"Liberation Sans", sans-serif' font-weight="bold" font-size="29.50" textLength="73.87" lengthAdjust="spacingAndGlyphs" fill="#000" >Ni 2p</text>
<text x="753.04" y="170.60" font-family='"Liberation Sans", sans-serif' font-weight="bold" font-size="21.50" textLength="37.66" lengthAdjust="spacingAndGlyphs" fill="#000" >sat.</text>
<text x="837.59" y="100.00" font-family='"Liberation Sans", sans-serif' font-weight="bold" font-size="21.30" textLength="52.87" lengthAdjust="spacingAndGlyphs" fill="#000" >Ni 2p</text>
<text x="891.42" y="108.90" font-family='"Liberation Sans", sans-serif' font-weight="bold" font-size="20.30" textLength="29.43" lengthAdjust="spacingAndGlyphs" fill="#000" >1/2</text>
<text x="1014.62" y="31.60" font-family='"Liberation Sans", sans-serif' font-weight="bold" font-size="21.30" textLength="51.72" lengthAdjust="spacingAndGlyphs" fill="#000" >Ni 2p</text>
<text x="1068.97" y="41.30" font-family='"Liberation Sans", sans-serif' font-weight="bold" font-size="20.30" textLength="29.38" lengthAdjust="spacingAndGlyphs" fill="#000" >3/2</text>
<text x="999.74" y="174.60" font-family='"Liberation Sans", sans-serif' font-weight="bold" font-size="21.50" textLength="37.55" lengthAdjust="spacingAndGlyphs" fill="#000" >sat.</text>
<text x="1131.56" y="228.20" font-family='"Liberation Sans", sans-serif' font-weight="bold" font-size="21.30" textLength="22.09" lengthAdjust="spacingAndGlyphs" fill="#000" >Ni</text>
<text x="1155.80" y="214.60" font-family='"Liberation Sans", sans-serif' font-weight="bold" font-size="18.00" textLength="9.72" lengthAdjust="spacingAndGlyphs" fill="#000" >0</text>
<line x1="861.70" y1="143.70" x2="865.60" y2="124.59" stroke="#000" stroke-width="1.7"/>
<path d="M867.70,114.30 L869.41,127.41 L865.70,124.10 L860.99,125.69 Z" fill="#000"/>
<line x1="1085.00" y1="78.00" x2="1065.94" y2="56.38" stroke="#000" stroke-width="1.7"/>
<path d="M1059.00,48.50 L1070.49,55.03 L1065.61,56.00 L1064.04,60.72 Z" fill="#000"/>
<line x1="1135.00" y1="280.00" x2="1140.22" y2="256.55" stroke="#000" stroke-width="1.7"/>
<path d="M1142.50,246.30 L1143.98,259.44 L1140.33,256.06 L1135.59,257.57 Z" fill="#000"/>
<text x="773.54" y="430.80" font-family='"Liberation Sans", sans-serif' font-weight="bold" font-size="30.00" textLength="285.34" lengthAdjust="spacingAndGlyphs" fill="#000" >Binding energy (eV)</text>
<text transform="rotate(-90)" x="-312.56" y="641.40" font-family='"Liberation Sans", sans-serif' font-weight="bold" font-size="30.70" textLength="214.59" lengthAdjust="spacingAndGlyphs" fill="#000">Intensity (a.u.)</text>
<clipPath id="cc"><rect x="57.2" y="465.0" width="509.3" height="362.5"/></clipPath>
<g clip-path="url(#cc)">
<path d="M57.5,598.9 L59.0,598.0 L60.5,593.3 L62.0,592.0 L63.5,610.5 L65.0,590.1 L66.5,603.7 L68.0,590.5 L69.5,608.3 L71.0,592.4 L72.5,619.3 L74.0,569.9 L75.5,590.1 L77.0,590.9 L78.5,580.3 L80.0,561.9 L81.5,596.9 L83.0,587.2 L84.5,607.2 L86.0,588.4 L87.5,625.2 L89.0,595.0 L90.5,601.7 L92.0,583.2 L93.5,596.7 L95.0,585.3 L96.5,613.8 L98.0,591.9 L99.5,599.8 L101.0,583.6 L102.5,607.3 L104.0,585.5 L105.5,607.0 L107.0,595.5 L108.5,607.4 L110.0,594.1 L111.5,606.7 L113.0,596.5 L114.5,622.1 L116.0,573.9 L117.5,615.3 L119.0,586.7 L120.5,606.3 L122.0,577.9 L123.5,595.2 L125.0,587.6 L126.5,606.4 L128.0,580.5 L129.5,612.9 L131.0,565.9 L132.5,601.6 L134.0,588.1 L135.5,597.7 L137.0,600.0 L138.5,617.8 L140.0,601.3 L141.5,606.8 L143.0,595.3 L144.5,599.4 L146.0,583.6 L147.5,582.7 L149.0,585.4 L150.5,597.9 L152.0,587.3 L153.5,606.5 L155.0,572.0 L156.5,598.1 L158.0,569.8 L159.5,603.9 L161.0,570.1 L162.5,614.8 L164.0,578.4 L165.5,605.1 L167.0,565.9 L168.5,590.3 L170.0,587.2 L171.5,590.6 L173.0,581.2 L174.5,588.5 L176.0,592.7 L177.5,589.1 L179.0,572.2 L180.5,596.7 L182.0,597.6 L183.5,593.5 L185.0,580.9 L186.5,577.7 L188.0,557.3 L189.5,595.2 L191.0,571.4 L192.5,611.8 L194.0,585.4 L195.5,596.4 L197.0,596.2 L198.5,606.3 L200.0,583.3 L201.5,604.4 L203.0,587.4 L204.5,590.7 L206.0,574.8 L207.5,597.1 L209.0,595.3 L210.5,597.6 L212.0,571.0 L213.5,600.0 L215.0,580.3 L216.5,603.1 L218.0,567.0 L219.5,594.8 L221.0,576.5 L222.5,592.1 L224.0,571.6 L225.5,595.6 L227.0,586.8 L228.5,603.8 L230.0,590.0 L231.5,611.5 L233.0,567.4 L234.5,593.6 L236.0,559.1 L237.5,598.9 L239.0,569.9 L240.5,562.0 L242.0,583.6 L243.5,582.4 L245.0,547.0 L246.5,597.5 L248.0,549.5 L249.5,594.0 L251.0,580.5 L252.5,567.8 L254.0,574.3 L255.5,574.3 L257.0,571.9 L258.5,582.4 L260.0,562.6 L261.5,610.6 L263.0,542.7 L264.5,563.3 L266.0,564.0 L267.5,569.1 L269.0,565.4 L270.5,571.1 L272.0,577.2 L273.5,575.0 L275.0,559.4 L276.5,600.1 L278.0,562.3 L279.5,607.5 L281.0,588.2 L282.5,609.7 L284.0,593.4 L285.5,595.5 L287.0,594.6 L288.5,629.3 L290.0,602.4 L291.5,619.6 L293.0,621.0 L294.5,591.7 L296.0,598.0 L297.5,618.4 L299.0,602.6 L300.5,612.6 L302.0,591.1 L303.5,621.4 L305.0,601.0 L306.5,608.9 L308.0,601.4 L309.5,629.8 L311.0,595.4 L312.5,615.1 L314.0,602.0 L315.5,614.6 L317.0,577.2 L318.5,613.5 L320.0,596.0 L321.5,623.1 L323.0,608.2 L324.5,614.7 L326.0,611.1 L327.5,620.8 L329.0,598.5 L330.5,617.5 L332.0,590.4 L333.5,596.9 L335.0,597.6 L336.5,627.2 L338.0,604.0 L339.5,611.3 L341.0,588.4 L342.5,600.0 L344.0,594.1 L345.5,616.8 L347.0,583.7 L348.5,603.0 L350.0,559.6 L351.5,600.1 L353.0,586.8 L354.5,603.7 L356.0,557.3 L357.5,583.8 L359.0,584.8 L360.5,594.0 L362.0,573.9 L363.5,564.5 L365.0,570.8 L366.5,597.8 L368.0,581.4 L369.5,587.8 L371.0,566.7 L372.5,582.9 L374.0,550.9 L375.5,593.2 L377.0,566.4 L378.5,569.3 L380.0,558.8 L381.5,566.9 L383.0,564.6 L384.5,566.0 L386.0,569.0 L387.5,566.4 L389.0,562.5 L390.5,570.9 L392.0,532.8 L393.5,539.1 L395.0,543.2 L396.5,559.0 L398.0,528.7 L399.5,580.1 L401.0,547.5 L402.5,572.4 L404.0,533.8 L405.5,527.5 L407.0,530.3 L408.5,565.6 L410.0,515.2 L411.5,534.2 L413.0,531.5 L414.5,547.9 L416.0,531.5 L417.5,519.6 L419.0,530.3 L420.5,551.5 L422.0,529.6 L423.5,530.5 L425.0,534.1 L426.5,541.3 L428.0,522.7 L429.5,534.4 L431.0,522.1 L432.5,543.9 L434.0,531.3 L435.5,547.5 L437.0,537.8 L438.5,552.5 L440.0,535.1 L441.5,540.6 L443.0,547.4 L444.5,545.8 L446.0,558.8 L447.5,586.1 L449.0,568.5 L450.5,578.2 L452.0,571.1 L453.5,585.7 L455.0,578.7 L456.5,580.1 L458.0,573.5 L459.5,600.7 L461.0,599.0 L462.5,602.3 L464.0,610.5 L465.5,619.8 L467.0,607.4 L468.5,625.6 L470.0,627.3 L471.5,632.9 L473.0,627.7 L474.5,644.7 L476.0,629.0 L477.5,648.0 L479.0,647.1 L480.5,666.5 L482.0,638.3 L483.5,680.2 L485.0,663.6 L486.5,666.6 L488.0,660.8 L489.5,694.6 L491.0,678.3 L492.5,693.8 L494.0,685.2 L495.5,689.1 L497.0,686.3 L498.5,699.8 L500.0,689.7 L501.5,692.4 L503.0,682.5 L504.5,712.5 L506.0,697.6 L507.5,717.3 L509.0,696.3 L510.5,743.1 L512.0,720.8 L513.5,729.0 L515.0,724.7 L516.5,729.2 L518.0,713.8 L519.5,730.9 L521.0,718.6 L522.5,742.3 L524.0,733.9 L525.5,754.2 L527.0,743.0 L528.5,747.8 L530.0,750.8 L531.5,767.2 L533.0,756.7 L534.5,769.4 L536.0,742.5 L537.5,755.7 L539.0,754.1 L540.5,781.5 L542.0,756.9 L543.5,783.7 L545.0,763.4 L546.5,782.2 L548.0,770.9 L549.5,800.7 L551.0,771.9 L552.5,778.6 L554.0,776.4 L555.5,791.0 L557.0,779.0 L558.5,786.7 L560.0,777.8" fill="none" stroke="#000" stroke-width="3.2" stroke-linejoin="round" />
<path d="M57.0,602.7 L57.0,592.5 L58.0,592.7 L59.0,592.9 L60.0,593.1 L61.0,593.3 L62.0,593.5 L63.0,593.7 L64.0,593.9 L65.0,594.1 L66.0,594.2 L67.0,594.4 L68.0,594.6 L69.0,594.8 L70.0,595.0 L71.0,595.2 L72.0,595.4 L73.0,595.6 L74.0,595.8 L75.0,596.0 L76.0,596.2 L77.0,596.4 L78.0,596.6 L79.0,596.8 L80.0,597.0 L81.0,597.2 L82.0,597.4 L83.0,597.6 L84.0,597.8 L85.0,598.0 L86.0,598.2 L87.0,598.4 L88.0,598.6 L89.0,598.8 L90.0,599.0 L91.0,599.2 L92.0,599.4 L93.0,599.6 L94.0,599.8 L95.0,600.0 L96.0,600.2 L97.0,600.4 L98.0,600.6 L99.0,600.8 L100.0,601.0 L101.0,601.2 L102.0,601.4 L103.0,601.7 L104.0,601.9 L105.0,602.1 L106.0,602.4 L107.0,602.6 L108.0,602.8 L109.0,603.1 L110.0,603.3 L111.0,603.6 L112.0,603.8 L113.0,604.1 L114.0,604.3 L115.0,604.5 L116.0,604.8 L117.0,605.0 L118.0,605.2 L119.0,605.4 L120.0,605.6 L121.0,605.8 L122.0,606.0 L123.0,606.2 L124.0,606.3 L125.0,606.5 L126.0,606.6 L127.0,606.8 L128.0,606.9 L129.0,607.1 L130.0,607.2 L131.0,607.4 L132.0,607.5 L133.0,607.7 L134.0,607.8 L135.0,607.9 L136.0,608.1 L137.0,608.2 L138.0,608.3 L139.0,608.4 L140.0,608.5 L141.0,608.7 L142.0,608.8 L143.0,608.9 L144.0,609.0 L145.0,609.1 L146.0,609.1 L147.0,609.2 L148.0,609.3 L149.0,609.4 L150.0,609.4 L151.0,609.5 L152.0,609.5 L153.0,609.6 L154.0,609.6 L155.0,609.6 L156.0,609.6 L157.0,609.6 L158.0,609.6 L159.0,609.6 L160.0,609.6 L161.0,609.6 L162.0,609.5 L163.0,609.5 L164.0,609.4 L165.0,609.3 L166.0,609.3 L167.0,609.2 L168.0,609.1 L169.0,609.0 L170.0,608.9 L171.0,608.8 L172.0,608.7 L173.0,608.6 L174.0,608.5 L175.0,608.4 L176.0,608.3 L177.0,608.2 L178.0,608.0 L179.0,607.9 L180.0,607.8 L181.0,607.6 L182.0,607.5 L183.0,607.4 L184.0,607.2 L185.0,607.1 L186.0,606.9 L187.0,606.8 L188.0,606.7 L189.0,606.5 L190.0,606.4 L191.0,606.2 L192.0,606.1 L193.0,605.9 L194.0,605.8 L195.0,605.7 L196.0,605.5 L197.0,605.4 L198.0,605.3 L199.0,605.1 L200.0,605.0 L201.0,604.9 L202.0,604.7 L203.0,604.6 L204.0,604.5 L205.0,604.3 L206.0,604.2 L207.0,604.0 L208.0,603.9 L209.0,603.7 L210.0,603.6 L211.0,603.4 L212.0,603.3 L213.0,603.1 L214.0,603.0 L215.0,602.8 L216.0,602.7 L217.0,602.5 L218.0,602.4 L219.0,602.2 L220.0,602.1 L221.0,601.9 L222.0,601.8 L223.0,601.6 L224.0,601.5 L225.0,601.3 L226.0,601.2 L227.0,601.0 L228.0,600.9 L229.0,600.8 L230.0,600.6 L231.0,600.5 L232.0,600.4 L233.0,600.2 L234.0,600.1 L235.0,600.0 L236.0,599.9 L237.0,599.8 L238.0,599.7 L239.0,599.6 L240.0,599.5 L241.0,599.4 L242.0,599.4 L243.0,599.4 L244.0,599.4 L245.0,599.4 L246.0,599.5 L247.0,599.6 L248.0,599.7 L249.0,599.8 L250.0,600.0 L251.0,600.1 L252.0,600.3 L253.0,600.5 L254.0,600.7 L255.0,600.9 L256.0,601.1 L257.0,601.3 L258.0,601.5 L259.0,601.7 L260.0,602.0 L261.0,602.2 L262.0,602.4 L263.0,602.6 L264.0,602.9 L265.0,603.2 L266.0,603.5 L267.0,603.9 L268.0,604.3 L269.0,604.8 L270.0,605.2 L271.0,605.8 L272.0,606.3 L273.0,606.8 L274.0,607.4 L275.0,608.0 L276.0,608.6 L277.0,609.2 L278.0,609.8 L279.0,610.4 L280.0,611.0 L281.0,611.6 L282.0,612.3 L283.0,613.0 L284.0,613.7 L285.0,614.4 L286.0,615.2 L287.0,616.0 L288.0,616.8 L289.0,617.6 L290.0,618.5 L291.0,619.4 L292.0,620.3 L293.0,621.2 L294.0,622.1 L295.0,623.1 L296.0,624.0 L297.0,625.0 L298.0,626.0 L299.0,627.0 L300.0,628.0 L301.0,629.1 L302.0,630.2 L303.0,631.4 L304.0,632.6 L305.0,633.8 L306.0,635.1 L307.0,636.4 L308.0,637.6 L309.0,638.8 L310.0,640.0 L311.0,641.1 L312.0,642.2 L313.0,643.3 L314.0,644.4 L315.0,645.5 L316.0,646.6 L317.0,647.7 L318.0,648.7 L319.0,649.8 L320.0,650.8 L321.0,651.9 L322.0,653.0 L323.0,654.0 L324.0,655.1 L325.0,656.2 L326.0,657.3 L327.0,658.3 L328.0,659.4 L329.0,660.5 L330.0,661.6 L331.0,662.6 L332.0,663.7 L333.0,664.8 L334.0,665.8 L335.0,666.9 L336.0,667.9 L337.0,669.0 L338.0,670.0 L339.0,671.0 L340.0,672.0 L341.0,673.0 L342.0,673.9 L343.0,674.8 L344.0,675.7 L345.0,676.6 L346.0,677.5 L347.0,678.3 L348.0,679.2 L349.0,680.0 L350.0,680.8 L351.0,681.7 L352.0,682.5 L353.0,683.4 L354.0,684.3 L355.0,685.1 L356.0,686.1 L357.0,687.0 L358.0,688.0 L359.0,689.0 L360.0,690.0 L361.0,691.1 L362.0,692.2 L363.0,693.4 L364.0,694.6 L365.0,695.9 L366.0,697.2 L367.0,698.5 L368.0,699.8 L369.0,701.2 L370.0,702.7 L371.0,704.1 L372.0,705.5 L373.0,707.0 L374.0,708.5 L375.0,710.0 L375.0,718.9" fill="#ff1aff" stroke="none" stroke-width="1" />
<path d="M222.5,663.2 L222.5,662.5 L223.5,662.4 L224.5,662.3 L225.5,662.2 L226.5,662.2 L227.5,662.1 L228.5,662.0 L229.5,661.9 L230.5,661.8 L231.5,661.7 L232.5,661.7 L233.5,661.6 L234.5,661.5 L235.5,661.4 L236.5,661.4 L237.5,661.3 L238.5,661.2 L239.5,661.1 L240.5,661.1 L241.5,661.0 L242.5,660.9 L243.5,660.9 L244.5,660.8 L245.5,660.7 L246.5,660.7 L247.5,660.6 L248.5,660.6 L249.5,660.5 L250.5,660.5 L251.5,660.4 L252.5,660.4 L253.5,660.3 L254.5,660.3 L255.5,660.3 L256.5,660.2 L257.5,660.2 L258.5,660.1 L259.5,660.1 L260.5,660.1 L261.5,660.0 L262.5,660.0 L263.5,659.9 L264.5,659.9 L265.5,659.9 L266.5,659.8 L267.5,659.8 L268.5,659.7 L269.5,659.7 L270.5,659.7 L271.5,659.6 L272.5,659.6 L273.5,659.6 L274.5,659.5 L275.5,659.5 L276.5,659.4 L277.5,659.4 L278.5,659.4 L279.5,659.3 L280.5,659.3 L281.5,659.3 L282.5,659.2 L283.5,659.2 L284.5,659.1 L285.5,659.1 L286.5,659.1 L287.5,659.0 L288.5,659.0 L289.5,659.0 L290.5,658.9 L291.5,658.9 L292.5,658.8 L293.5,658.8 L294.5,658.8 L295.5,658.7 L296.5,658.7 L297.5,658.6 L298.5,658.6 L299.5,658.5 L300.5,658.5 L301.5,658.4 L302.5,658.3 L303.5,658.2 L304.5,658.0 L305.5,657.9 L306.5,657.7 L307.5,657.5 L308.5,657.3 L309.5,657.1 L310.5,656.9 L311.5,656.6 L312.5,656.4 L313.5,656.1 L314.5,655.9 L315.5,655.6 L316.5,655.3 L317.5,655.0 L318.5,654.8 L319.5,654.5 L320.5,654.2 L321.5,653.9 L322.5,653.6 L323.5,653.3 L324.5,653.1 L325.5,652.8 L326.5,652.4 L327.5,652.1 L328.5,651.7 L329.5,651.3 L330.5,650.9 L331.5,650.5 L332.5,650.0 L333.5,649.6 L334.5,649.1 L335.5,648.6 L336.5,648.1 L337.5,647.5 L338.5,647.0 L339.5,646.4 L340.5,645.9 L341.5,645.3 L342.5,644.7 L343.5,644.1 L344.5,643.5 L345.5,642.8 L346.5,642.1 L347.5,641.4 L348.5,640.6 L349.5,639.8 L350.5,638.9 L351.5,638.0 L352.5,637.1 L353.5,636.2 L354.5,635.2 L355.5,634.2 L356.5,633.2 L357.5,632.2 L358.5,631.2 L359.5,630.2 L360.5,629.2 L361.5,628.2 L362.5,627.2 L363.5,626.2 L364.5,625.2 L365.5,624.2 L366.5,623.2 L367.5,622.2 L368.5,621.1 L369.5,620.1 L370.5,619.0 L371.5,617.9 L372.5,616.8 L373.5,615.7 L374.5,614.6 L375.5,613.4 L376.5,612.2 L377.5,611.0 L378.5,609.8 L379.5,608.6 L380.5,607.3 L381.5,606.0 L382.5,604.6 L383.5,603.2 L384.5,601.7 L385.5,600.2 L386.5,598.6 L387.5,597.1 L388.5,595.5 L389.5,593.9 L390.5,592.3 L391.5,590.7 L392.5,589.1 L393.5,587.6 L394.5,586.0 L395.5,584.5 L396.5,583.1 L397.5,581.7 L398.5,580.3 L399.5,579.0 L400.5,577.6 L401.5,576.3 L402.5,574.9 L403.5,573.6 L404.5,572.4 L405.5,571.1 L406.5,569.9 L407.5,568.8 L408.5,567.7 L409.5,566.7 L410.5,565.8 L411.5,564.9 L412.5,564.0 L413.5,563.2 L414.5,562.3 L415.5,561.5 L416.5,560.8 L417.5,560.1 L418.5,559.4 L419.5,558.9 L420.5,558.4 L421.5,558.1 L422.5,557.9 L423.5,557.8 L424.5,557.8 L425.5,557.9 L426.5,558.2 L427.5,558.5 L428.5,559.0 L429.5,559.5 L430.5,560.0 L431.5,560.6 L432.5,561.2 L433.5,561.9 L434.5,562.5 L435.5,563.2 L436.5,563.9 L437.5,564.7 L438.5,565.5 L439.5,566.5 L440.5,567.5 L441.5,568.6 L442.5,569.8 L443.5,571.0 L444.5,572.3 L445.5,573.7 L446.5,575.1 L447.5,576.6 L448.5,578.2 L449.5,579.9 L450.5,581.8 L451.5,583.9 L452.5,586.0 L453.5,588.3 L454.5,590.6 L455.5,592.9 L456.5,595.3 L457.5,597.6 L458.5,599.9 L459.5,602.2 L460.5,604.4 L461.5,606.6 L462.5,608.7 L463.5,610.9 L464.5,613.1 L465.5,615.2 L466.5,617.4 L467.5,619.5 L468.5,621.7 L469.5,623.9 L470.5,626.0 L471.5,628.2 L472.5,630.3 L473.5,632.5 L474.5,634.7 L475.5,636.9 L476.5,639.1 L477.5,641.3 L478.5,643.4 L479.5,645.6 L480.5,647.7 L481.5,649.8 L482.5,651.9 L483.5,653.9 L484.5,655.9 L485.5,657.9 L486.5,659.8 L487.5,661.8 L488.5,663.7 L489.5,665.6 L490.5,667.5 L491.5,669.3 L492.5,671.1 L493.5,672.9 L494.5,674.7 L495.5,676.4 L496.5,678.2 L497.5,679.9 L498.5,681.5 L499.5,683.2 L500.5,684.9 L501.5,686.5 L502.5,688.2 L503.5,689.8 L504.5,691.4 L505.5,693.0 L506.5,694.6 L507.5,696.2 L508.5,697.8 L509.5,699.3 L510.5,700.8 L511.5,702.4 L512.5,703.8 L513.5,705.3 L514.5,706.8 L515.5,708.2 L516.5,709.6 L517.5,711.0 L518.5,712.4 L519.5,713.8 L520.5,715.2 L521.5,716.5 L522.5,717.9 L523.5,719.2 L524.5,720.5 L525.5,721.8 L526.5,723.1 L527.5,724.4 L528.5,725.6 L529.5,726.9 L530.5,728.1 L531.5,729.4 L532.5,730.6 L533.5,731.9 L534.5,733.1 L535.5,734.4 L536.5,735.6 L537.5,736.8 L538.5,738.0 L539.5,739.2 L540.5,740.3 L541.5,741.4 L542.5,742.5 L543.5,743.5 L544.5,744.5 L545.5,745.5 L546.5,746.4 L547.5,747.3 L548.5,748.2 L549.5,749.1 L550.5,750.0 L551.5,750.8 L552.5,751.6 L553.5,752.4 L554.5,753.1 L555.5,753.8 L556.5,754.5 L557.5,755.1 L558.5,755.7 L559.5,756.2 L559.5,786.4" fill="#0000ff" stroke="none" stroke-width="1" />
</g>
<rect x="57.2" y="465.0" width="509.3" height="362.5" fill="none" stroke="#000" stroke-width="2.6"/>
<line x1="57.20" y1="827.5" x2="57.20" y2="836.5" stroke="#000" stroke-width="2.6"/>
<line x1="184.53" y1="827.5" x2="184.53" y2="836.5" stroke="#000" stroke-width="2.6"/>
<line x1="311.85" y1="827.5" x2="311.85" y2="836.5" stroke="#000" stroke-width="2.6"/>
<line x1="439.18" y1="827.5" x2="439.18" y2="836.5" stroke="#000" stroke-width="2.6"/>
<line x1="566.50" y1="827.5" x2="566.50" y2="836.5" stroke="#000" stroke-width="2.6"/>
<line x1="120.86" y1="827.5" x2="120.86" y2="833.0" stroke="#000" stroke-width="2.6"/>
<line x1="248.19" y1="827.5" x2="248.19" y2="833.0" stroke="#000" stroke-width="2.6"/>
<line x1="375.51" y1="827.5" x2="375.51" y2="833.0" stroke="#000" stroke-width="2.6"/>
<line x1="502.84" y1="827.5" x2="502.84" y2="833.0" stroke="#000" stroke-width="2.6"/>
<text x="38.86" y="857.50" font-family='"Liberation Sans", sans-serif' font-weight="bold" font-size="21.60" textLength="36.04" lengthAdjust="spacingAndGlyphs" fill="#000" >740</text>
<text x="166.19" y="857.50" font-family='"Liberation Sans", sans-serif' font-weight="bold" font-size="21.60" textLength="36.04" lengthAdjust="spacingAndGlyphs" fill="#000" >730</text>
<text x="293.51" y="857.50" font-family='"Liberation Sans", sans-serif' font-weight="bold" font-size="21.60" textLength="36.04" lengthAdjust="spacingAndGlyphs" fill="#000" >720</text>
<text x="420.84" y="857.50" font-family='"Liberation Sans", sans-serif' font-weight="bold" font-size="21.60" textLength="36.04" lengthAdjust="spacingAndGlyphs" fill="#000" >710</text>
<text x="548.16" y="857.50" font-family='"Liberation Sans", sans-serif' font-weight="bold" font-size="21.60" textLength="36.04" lengthAdjust="spacingAndGlyphs" fill="#000" >700</text>
<text x="1.77" y="490.00" font-family='"Liberation Sans", sans-serif' font-weight="bold" font-size="41.00" textLength="49.65" lengthAdjust="spacingAndGlyphs" fill="#000" >(c)</text>
<text x="69.82" y="500.50" font-family='"Liberation Sans", sans-serif' font-weight="bold" font-size="29.50" textLength="79.66" lengthAdjust="spacingAndGlyphs" fill="#000" >Fe 2p</text>
<text x="198.53" y="500.20" font-family='"Liberation Sans", sans-serif' font-weight="bold" font-size="22.50" textLength="63.08" lengthAdjust="spacingAndGlyphs" fill="#000" >Fe 2p</text>
<text x="262.51" y="509.80" font-family='"Liberation Sans", sans-serif' font-weight="bold" font-size="20.50" textLength="29.64" lengthAdjust="spacingAndGlyphs" fill="#000" >1/2</text>
<text x="469.94" y="499.30" font-family='"Liberation Sans", sans-serif' font-weight="bold" font-size="22.50" textLength="62.56" lengthAdjust="spacingAndGlyphs" fill="#000" >Fe 2p</text>
<text x="533.87" y="509.40" font-family='"Liberation Sans", sans-serif' font-weight="bold" font-size="20.50" textLength="29.27" lengthAdjust="spacingAndGlyphs" fill="#000" >3/2</text>
<line x1="235.30" y1="567.50" x2="235.30" y2="522.20" stroke="#000" stroke-width="1.7"/>
<path d="M235.30,511.70 L239.60,524.20 L235.30,521.70 L231.00,524.20 Z" fill="#000"/>
<line x1="452.00" y1="549.00" x2="491.34" y2="516.13" stroke="#000" stroke-width="1.7"/>
<path d="M499.40,509.40 L492.56,520.71 L491.73,515.81 L487.05,514.11 Z" fill="#000"/>
<text x="165.80" y="885.60" font-family='"Liberation Sans", sans-serif' font-weight="bold" font-size="30.00" textLength="290.40" lengthAdjust="spacingAndGlyphs" fill="#000" >Binding energy (eV)</text>
<text transform="rotate(-90)" x="-763.27" y="33.60" font-family='"Liberation Sans", sans-serif' font-weight="bold" font-size="30.70" textLength="216.32" lengthAdjust="spacingAndGlyphs" fill="#000">Intensity (a.u.)</text>
<clipPath id="cd"><rect x="670.6" y="465.6" width="510.4" height="362.3"/></clipPath>
<g clip-path="url(#cd)">
<path d="M671.0,743.3 L672.8,747.9 L674.6,747.1 L676.4,748.7 L678.2,743.2 L680.0,750.6 L681.8,747.6 L683.6,743.9 L685.4,743.4 L687.2,743.6 L689.0,745.4 L690.8,751.2 L692.6,750.4 L694.4,746.2 L696.2,746.2 L698.0,753.7 L699.8,750.7 L701.6,745.6 L703.4,747.7 L705.2,746.9 L707.0,748.7 L708.8,751.0 L710.6,747.6 L712.4,749.6 L714.2,750.3 L716.0,751.1 L717.8,747.0 L719.6,748.3 L721.4,755.1 L723.2,748.9 L725.0,750.0 L726.8,751.8 L728.6,749.2 L730.4,750.2 L732.2,756.8 L734.0,755.9 L735.8,748.7 L737.6,752.1 L739.4,747.8 L741.2,746.8 L743.0,751.1 L744.8,755.3 L746.6,750.1 L748.4,754.3 L750.2,746.3 L752.0,749.4 L753.8,748.7 L755.6,748.3 L757.4,750.6 L759.2,748.9 L761.0,745.2 L762.8,742.4 L764.6,744.5 L766.4,745.7 L768.2,743.8 L770.0,740.7 L771.8,739.7 L773.6,746.5 L775.4,744.6 L777.2,741.9 L779.0,744.2 L780.8,743.9 L782.6,741.6 L784.4,740.6 L786.2,744.1 L788.0,742.8 L789.8,743.6 L791.6,741.6 L793.4,738.0 L795.2,734.1 L797.0,731.7 L798.8,728.4 L800.6,727.2 L802.4,724.5 L804.2,723.3 L806.0,720.2 L807.8,713.3 L809.6,710.4 L811.4,702.6 L813.2,699.5 L815.0,694.3 L816.8,693.0 L818.6,687.7 L820.4,683.7 L822.2,682.5 L824.0,675.5 L825.8,676.7 L827.6,674.7 L829.4,672.9 L831.2,663.4 L833.0,660.9 L834.8,652.7 L836.6,655.6 L838.4,646.5 L840.2,641.4 L842.0,631.0 L843.8,627.7 L845.6,621.3 L847.4,615.1 L849.2,610.8 L851.0,606.9 L852.8,602.1 L854.6,593.7 L856.4,592.0 L858.2,580.0 L860.0,574.1 L861.8,571.4 L863.6,569.0 L865.4,565.9 L867.2,560.3 L869.0,550.0 L870.8,546.6 L872.6,540.1 L874.4,542.7 L876.2,536.5 L878.0,533.1 L879.8,524.3 L881.6,521.2 L883.4,520.2 L885.2,514.4 L887.0,515.1 L888.8,520.4 L890.6,516.5 L892.4,514.6 L894.2,521.4 L896.0,521.2 L897.8,518.2 L899.6,521.0 L901.4,527.0 L903.2,525.1 L905.0,528.9 L906.8,535.3 L908.6,545.8 L910.4,545.1 L912.2,553.7 L914.0,555.8 L915.8,559.0 L917.6,562.3 L919.4,564.0 L921.2,568.8 L923.0,572.7 L924.8,580.4 L926.6,578.8 L928.4,590.2 L930.2,596.5 L932.0,598.7 L933.8,610.1 L935.6,613.6 L937.4,613.8 L939.2,622.4 L941.0,630.6 L942.8,636.8 L944.6,642.8 L946.4,652.0 L948.2,655.9 L950.0,657.2 L951.8,662.3 L953.6,668.8 L955.4,671.0 L957.2,668.1 L959.0,670.4 L960.8,676.6 L962.6,676.6 L964.4,677.7 L966.2,680.4 L968.0,685.7 L969.8,691.1 L971.6,684.6 L973.4,693.1 L975.2,687.3 L977.0,684.6 L978.8,684.8 L980.6,682.2 L982.4,681.6 L984.2,683.9 L986.0,681.9 L987.8,685.4 L989.6,677.9 L991.4,685.8 L993.2,682.8 L995.0,688.0 L996.8,684.3 L998.6,683.0 L1000.4,671.8 L1002.2,672.4 L1004.0,675.8 L1005.8,674.7 L1007.6,670.4 L1009.4,673.1 L1011.2,673.8 L1013.0,672.3 L1014.8,674.0 L1016.6,673.3 L1018.4,664.7 L1020.2,671.7 L1022.0,678.6 L1023.8,668.0 L1025.6,667.6 L1027.4,667.8 L1029.2,665.1 L1031.0,665.6 L1032.8,665.6 L1034.6,670.2 L1036.4,664.1 L1038.2,665.7 L1040.0,663.4 L1041.8,661.4 L1043.6,662.2 L1045.4,661.4 L1047.2,668.2 L1049.0,665.0 L1050.8,663.0 L1052.6,667.6 L1054.4,673.9 L1056.2,670.7 L1058.0,671.6 L1059.8,674.6 L1061.6,675.5 L1063.4,676.6 L1065.2,685.2 L1067.0,676.2 L1068.8,685.4 L1070.6,686.7 L1072.4,690.7 L1074.2,691.5 L1076.0,698.4 L1077.8,701.6 L1079.6,700.3 L1081.4,698.9 L1083.2,702.4 L1085.0,705.4 L1086.8,706.2 L1088.6,707.5 L1090.4,717.1 L1092.2,717.2 L1094.0,714.6 L1095.8,716.9 L1097.6,721.3 L1099.4,721.5 L1101.2,726.6 L1103.0,729.1 L1104.8,729.2 L1106.6,728.7 L1108.4,732.2 L1110.2,730.8 L1112.0,735.9 L1113.8,743.1 L1115.6,739.1 L1117.4,744.1 L1119.2,747.2 L1121.0,750.0" fill="none" stroke="#000" stroke-width="2.5" stroke-linejoin="round" />
<path d="M670.5,750.0 L670.5,742.0 L671.5,742.0 L672.5,741.9 L673.5,741.9 L674.5,741.9 L675.5,741.8 L676.5,741.8 L677.5,741.8 L678.5,741.7 L679.5,741.7 L680.5,741.7 L681.5,741.6 L682.5,741.6 L683.5,741.6 L684.5,741.5 L685.5,741.5 L686.5,741.5 L687.5,741.4 L688.5,741.4 L689.5,741.4 L690.5,741.3 L691.5,741.3 L692.5,741.3 L693.5,741.2 L694.5,741.2 L695.5,741.2 L696.5,741.1 L697.5,741.1 L698.5,741.1 L699.5,741.0 L700.5,741.0 L701.5,740.9 L702.5,740.9 L703.5,740.9 L704.5,740.9 L705.5,740.8 L706.5,740.8 L707.5,740.8 L708.5,740.7 L709.5,740.7 L710.5,740.7 L711.5,740.6 L712.5,740.6 L713.5,740.6 L714.5,740.5 L715.5,740.5 L716.5,740.5 L717.5,740.4 L718.5,740.4 L719.5,740.4 L720.5,740.3 L721.5,740.3 L722.5,740.3 L723.5,740.2 L724.5,740.2 L725.5,740.2 L726.5,740.1 L727.5,740.1 L728.5,740.1 L729.5,740.0 L730.5,740.0 L731.5,739.9 L732.5,739.9 L733.5,739.8 L734.5,739.8 L735.5,739.7 L736.5,739.6 L737.5,739.6 L738.5,739.5 L739.5,739.4 L740.5,739.4 L741.5,739.3 L742.5,739.2 L743.5,739.1 L744.5,739.0 L745.5,738.9 L746.5,738.8 L747.5,738.7 L748.5,738.6 L749.5,738.5 L750.5,738.4 L751.5,738.3 L752.5,738.2 L753.5,738.1 L754.5,738.0 L755.5,737.9 L756.5,737.8 L757.5,737.7 L758.5,737.6 L759.5,737.5 L760.5,737.5 L761.5,737.3 L762.5,737.2 L763.5,737.1 L764.5,737.0 L765.5,736.8 L766.5,736.7 L767.5,736.6 L768.5,736.4 L769.5,736.2 L770.5,736.1 L771.5,735.9 L772.5,735.7 L773.5,735.5 L774.5,735.3 L775.5,735.1 L776.5,734.9 L777.5,734.7 L778.5,734.4 L779.5,734.2 L780.5,734.0 L781.5,733.7 L782.5,733.5 L783.5,733.2 L784.5,733.0 L785.5,732.7 L786.5,732.5 L787.5,732.2 L788.5,731.9 L789.5,731.6 L790.5,731.3 L791.5,731.0 L792.5,730.6 L793.5,730.1 L794.5,729.5 L795.5,728.9 L796.5,728.3 L797.5,727.6 L798.5,726.9 L799.5,726.2 L800.5,725.4 L801.5,724.6 L802.5,723.8 L803.5,723.0 L804.5,722.3 L805.5,721.5 L806.5,720.7 L807.5,719.9 L808.5,719.2 L809.5,718.4 L810.5,717.5 L811.5,716.7 L812.5,715.8 L813.5,714.9 L814.5,713.9 L815.5,712.9 L816.5,711.9 L817.5,710.9 L818.5,709.8 L819.5,708.7 L820.5,707.6 L821.5,706.5 L822.5,705.3 L823.5,704.1 L824.5,702.9 L825.5,701.5 L826.5,700.1 L827.5,698.5 L828.5,696.8 L829.5,695.0 L830.5,693.1 L831.5,691.1 L832.5,689.0 L833.5,686.9 L834.5,684.6 L835.5,682.4 L836.5,680.1 L837.5,677.7 L838.5,675.4 L839.5,673.0 L840.5,670.5 L841.5,667.9 L842.5,665.2 L843.5,662.4 L844.5,659.6 L845.5,656.6 L846.5,653.5 L847.5,650.4 L848.5,647.3 L849.5,644.1 L850.5,640.8 L851.5,637.5 L852.5,634.2 L853.5,630.9 L854.5,627.5 L855.5,624.0 L856.5,620.4 L857.5,616.8 L858.5,613.1 L859.5,609.3 L860.5,605.5 L861.5,601.6 L862.5,597.7 L863.5,593.8 L864.5,589.9 L865.5,586.0 L866.5,582.0 L867.5,577.9 L868.5,573.7 L869.5,569.5 L870.5,565.3 L871.5,561.2 L872.5,557.3 L873.5,553.5 L874.5,550.0 L875.5,546.5 L876.5,543.0 L877.5,539.6 L878.5,536.3 L879.5,533.3 L880.5,530.6 L881.5,528.2 L882.5,526.2 L883.5,524.5 L884.5,522.8 L885.5,521.2 L886.5,519.7 L887.5,518.4 L888.5,517.2 L889.5,516.2 L890.5,515.4 L891.5,514.8 L892.5,514.5 L893.5,514.5 L894.5,514.7 L895.5,515.2 L896.5,515.8 L897.5,516.7 L898.5,517.6 L899.5,518.7 L900.5,520.0 L901.5,521.3 L902.5,522.6 L903.5,524.1 L904.5,526.0 L905.5,528.2 L906.5,530.7 L907.5,533.4 L908.5,536.4 L909.5,539.5 L910.5,542.7 L911.5,546.0 L912.5,549.4 L913.5,553.1 L914.5,557.1 L915.5,561.2 L916.5,565.4 L917.5,569.7 L918.5,574.0 L919.5,578.1 L920.5,582.2 L921.5,586.3 L922.5,590.4 L923.5,594.5 L924.5,598.6 L925.5,602.7 L926.5,606.7 L927.5,610.6 L928.5,614.3 L929.5,618.0 L930.5,621.5 L931.5,624.9 L932.5,628.3 L933.5,631.6 L934.5,634.9 L935.5,638.1 L936.5,641.2 L937.5,644.4 L938.5,647.5 L939.5,650.6 L940.5,653.7 L941.5,656.8 L942.5,659.8 L943.5,662.8 L944.5,665.8 L945.5,668.7 L946.5,671.7 L947.5,674.6 L948.5,677.4 L949.5,680.2 L950.5,683.1 L951.5,685.8 L952.5,688.6 L953.5,691.3 L954.5,694.0 L955.5,696.6 L956.5,699.2 L957.5,701.6 L958.5,704.0 L959.5,706.4 L960.5,708.8 L961.5,711.1 L962.5,713.3 L963.5,715.5 L964.5,717.5 L965.5,719.5 L966.5,721.2 L967.5,722.9 L968.5,724.5 L969.5,726.1 L970.5,727.7 L971.5,729.2 L972.5,730.7 L973.5,732.2 L974.5,733.5 L975.5,734.9 L976.5,736.1 L977.5,737.3 L978.5,738.5 L979.5,739.5 L980.5,740.5 L981.5,741.4 L982.5,742.2 L983.5,743.0 L984.5,743.8 L985.5,744.5 L986.5,745.2 L987.5,745.9 L988.5,746.6 L989.5,747.2 L990.5,747.9 L991.5,748.5 L992.5,749.2 L993.5,749.9 L994.5,750.6 L995.5,751.3 L996.5,752.0 L997.5,752.8 L998.5,753.7 L999.5,754.5 L1000.5,755.5 L1001.5,756.4 L1002.5,757.4 L1003.5,758.5 L1004.5,759.5 L1005.5,760.6 L1006.5,761.7 L1007.5,762.9 L1008.5,764.0 L1009.5,765.2 L1010.5,766.4 L1011.5,767.6 L1012.5,768.8 L1013.5,770.1 L1014.5,771.4 L1015.0,772.0 L1015.0,773.6" fill="#048004" stroke="none" stroke-width="1" />
<path d="M792.5,758.3 L792.5,758.3 L793.5,757.3 L794.5,756.3 L795.5,755.3 L796.5,754.4 L797.5,753.6 L798.5,752.8 L799.5,752.2 L800.5,751.8 L801.5,751.4 L802.5,750.9 L803.5,750.5 L804.5,750.1 L805.5,749.8 L806.5,749.5 L807.5,749.2 L808.5,749.0 L809.5,748.8 L810.5,748.7 L811.5,748.6 L812.5,748.5 L813.5,748.4 L814.5,748.3 L815.5,748.2 L816.5,748.1 L817.5,748.0 L818.5,747.9 L819.5,747.9 L820.5,747.8 L821.5,747.7 L822.5,747.6 L823.5,747.5 L824.5,747.5 L825.5,747.4 L826.5,747.3 L827.5,747.2 L828.5,747.1 L829.5,747.0 L830.5,747.0 L831.5,746.9 L832.5,746.8 L833.5,746.7 L834.5,746.6 L835.5,746.5 L836.5,746.5 L837.5,746.4 L838.5,746.3 L839.5,746.2 L840.5,746.1 L841.5,746.1 L842.5,746.0 L843.5,745.9 L844.5,745.8 L845.5,745.7 L846.5,745.7 L847.5,745.6 L848.5,745.5 L849.5,745.4 L850.5,745.3 L851.5,745.3 L852.5,745.2 L853.5,745.1 L854.5,745.0 L855.5,745.0 L856.5,744.9 L857.5,744.8 L858.5,744.7 L859.5,744.6 L860.5,744.5 L861.5,744.5 L862.5,744.4 L863.5,744.3 L864.5,744.2 L865.5,744.1 L866.5,744.0 L867.5,744.0 L868.5,743.9 L869.5,743.8 L870.5,743.7 L871.5,743.6 L872.5,743.5 L873.5,743.4 L874.5,743.3 L875.5,743.2 L876.5,743.1 L877.5,743.0 L878.5,742.9 L879.5,742.8 L880.5,742.7 L881.5,742.6 L882.5,742.5 L883.5,742.4 L884.5,742.3 L885.5,742.2 L886.5,742.1 L887.5,742.0 L888.5,741.8 L889.5,741.7 L890.5,741.6 L891.5,741.5 L892.5,741.4 L893.5,741.2 L894.5,741.1 L895.5,741.0 L896.5,740.8 L897.5,740.7 L898.5,740.6 L899.5,740.4 L900.5,740.3 L901.5,740.1 L902.5,740.0 L903.5,739.9 L904.5,739.7 L905.5,739.6 L906.5,739.4 L907.5,739.3 L908.5,739.1 L909.5,738.9 L910.5,738.8 L911.5,738.6 L912.5,738.5 L913.5,738.3 L914.5,738.1 L915.5,738.0 L916.5,737.8 L917.5,737.6 L918.5,737.5 L919.5,737.3 L920.5,737.1 L921.5,736.9 L922.5,736.7 L923.5,736.6 L924.5,736.4 L925.5,736.2 L926.5,736.0 L927.5,735.8 L928.5,735.6 L929.5,735.4 L930.5,735.2 L931.5,735.0 L932.5,734.8 L933.5,734.6 L934.5,734.4 L935.5,734.2 L936.5,734.0 L937.5,733.8 L938.5,733.5 L939.5,733.3 L940.5,733.0 L941.5,732.8 L942.5,732.5 L943.5,732.2 L944.5,731.9 L945.5,731.6 L946.5,731.3 L947.5,731.0 L948.5,730.7 L949.5,730.4 L950.5,730.1 L951.5,729.7 L952.5,729.4 L953.5,729.1 L954.5,728.8 L955.5,728.4 L956.5,728.1 L957.5,727.8 L958.5,727.4 L959.5,727.1 L960.5,726.8 L961.5,726.5 L962.5,726.2 L963.5,725.9 L964.5,725.6 L965.5,725.2 L966.5,724.9 L967.5,724.6 L968.5,724.3 L969.5,723.9 L970.5,723.6 L971.5,723.3 L972.5,722.9 L973.5,722.6 L974.5,722.2 L975.5,721.9 L976.5,721.5 L977.5,721.2 L978.5,720.9 L979.5,720.5 L980.5,720.2 L981.5,719.9 L982.5,719.6 L983.5,719.3 L984.5,719.0 L985.5,718.7 L986.5,718.4 L987.5,718.1 L988.5,717.9 L989.5,717.6 L990.5,717.4 L991.5,717.2 L992.5,717.0 L993.5,716.8 L994.5,716.6 L995.5,716.5 L996.5,716.3 L997.5,716.2 L998.5,716.1 L999.5,716.0 L1000.5,716.0 L1001.5,716.0 L1002.5,716.0 L1003.5,716.1 L1004.5,716.2 L1005.5,716.4 L1006.5,716.6 L1007.5,716.8 L1008.5,717.1 L1009.5,717.3 L1010.5,717.7 L1011.5,718.0 L1012.5,718.3 L1013.5,718.7 L1014.5,719.0 L1015.5,719.5 L1016.5,720.1 L1017.5,720.7 L1018.5,721.4 L1019.5,722.2 L1020.5,723.0 L1021.5,723.9 L1022.5,724.8 L1023.5,725.8 L1024.5,726.7 L1025.5,727.7 L1026.5,728.7 L1027.5,729.6 L1028.5,730.6 L1029.5,731.5 L1030.5,732.5 L1031.5,733.4 L1032.5,734.4 L1033.5,735.3 L1034.5,736.3 L1035.5,737.4 L1036.5,738.4 L1037.5,739.4 L1038.5,740.5 L1039.5,741.5 L1040.5,742.6 L1041.5,743.6 L1042.5,744.7 L1043.5,745.7 L1044.5,746.7 L1045.5,747.7 L1046.5,748.7 L1047.5,749.7 L1048.5,750.6 L1049.5,751.6 L1050.5,752.4 L1051.5,753.3 L1052.5,754.2 L1053.5,755.1 L1054.5,756.0 L1055.5,756.8 L1056.5,757.7 L1057.5,758.6 L1058.5,759.4 L1059.5,760.2 L1060.5,761.1 L1061.5,761.9 L1062.5,762.6 L1063.5,763.4 L1064.5,764.2 L1065.5,764.9 L1066.5,765.6 L1067.5,766.3 L1068.5,767.0 L1069.5,767.7 L1070.5,768.3 L1071.5,769.0 L1072.5,769.6 L1073.5,770.2 L1074.5,770.8 L1075.5,771.4 L1076.5,772.0 L1077.5,772.6 L1078.5,773.2 L1079.5,773.8 L1080.5,774.3 L1081.5,774.9 L1082.5,775.4 L1083.5,775.9 L1084.5,776.4 L1085.5,776.9 L1086.5,777.3 L1087.5,777.7 L1088.5,778.1 L1089.5,778.5 L1090.0,778.7 L1090.0,778.7" fill="#ff00ff" stroke="none" stroke-width="1" />
<path d="M853.8,762.5 L853.8,762.5 L854.8,762.1 L855.8,761.7 L856.8,761.3 L857.8,760.9 L858.8,760.5 L859.8,760.1 L860.8,759.7 L861.8,759.4 L862.8,759.0 L863.8,758.6 L864.8,758.2 L865.8,757.9 L866.8,757.6 L867.8,757.2 L868.8,756.9 L869.8,756.6 L870.8,756.3 L871.8,756.1 L872.8,755.8 L873.8,755.6 L874.8,755.4 L875.8,755.2 L876.8,755.1 L877.8,755.0 L878.8,754.9 L879.8,754.7 L880.8,754.6 L881.8,754.5 L882.8,754.4 L883.8,754.3 L884.8,754.3 L885.8,754.2 L886.8,754.1 L887.8,754.0 L888.8,753.9 L889.8,753.8 L890.8,753.7 L891.8,753.7 L892.8,753.6 L893.8,753.5 L894.8,753.4 L895.8,753.3 L896.8,753.3 L897.8,753.2 L898.8,753.1 L899.8,753.0 L900.8,752.9 L901.8,752.9 L902.8,752.8 L903.8,752.7 L904.8,752.6 L905.8,752.5 L906.8,752.5 L907.8,752.4 L908.8,752.3 L909.8,752.2 L910.8,752.2 L911.8,752.1 L912.8,752.0 L913.8,751.9 L914.8,751.9 L915.8,751.8 L916.8,751.7 L917.8,751.6 L918.8,751.5 L919.8,751.4 L920.8,751.3 L921.8,751.2 L922.8,751.1 L923.8,751.0 L924.8,750.9 L925.8,750.8 L926.8,750.7 L927.8,750.5 L928.8,750.4 L929.8,750.3 L930.8,750.1 L931.8,750.0 L932.8,749.8 L933.8,749.7 L934.8,749.5 L935.8,749.3 L936.8,749.2 L937.8,749.0 L938.8,748.8 L939.8,748.7 L940.8,748.5 L941.8,748.3 L942.8,748.1 L943.8,747.9 L944.8,747.7 L945.8,747.6 L946.8,747.3 L947.8,747.1 L948.8,746.9 L949.8,746.6 L950.8,746.4 L951.8,746.1 L952.8,745.8 L953.8,745.5 L954.8,745.3 L955.8,744.9 L956.8,744.6 L957.8,744.3 L958.8,744.0 L959.8,743.7 L960.8,743.3 L961.8,743.0 L962.8,742.7 L963.8,742.3 L964.8,742.0 L965.8,741.6 L966.8,741.3 L967.8,741.0 L968.8,740.6 L969.8,740.3 L970.8,739.9 L971.8,739.6 L972.8,739.3 L973.8,738.9 L974.8,738.5 L975.8,738.2 L976.8,737.8 L977.8,737.5 L978.8,737.1 L979.8,736.7 L980.8,736.3 L981.8,735.9 L982.8,735.5 L983.8,735.1 L984.8,734.7 L985.8,734.3 L986.8,733.9 L987.8,733.5 L988.8,733.0 L989.8,732.6 L990.8,732.1 L991.8,731.7 L992.8,731.2 L993.8,730.8 L994.8,730.3 L995.8,729.8 L996.8,729.3 L997.8,728.8 L998.8,728.3 L999.8,727.7 L1000.8,727.2 L1001.8,726.6 L1002.8,726.0 L1003.8,725.4 L1004.8,724.8 L1005.8,724.2 L1006.8,723.6 L1007.8,723.0 L1008.8,722.4 L1009.8,721.9 L1010.8,721.3 L1011.8,720.7 L1012.8,720.1 L1013.8,719.6 L1014.8,719.1 L1015.8,718.5 L1016.8,717.9 L1017.8,717.3 L1018.8,716.7 L1019.8,716.2 L1020.8,715.6 L1021.8,715.1 L1022.8,714.5 L1023.8,714.0 L1024.8,713.6 L1025.8,713.2 L1026.8,712.8 L1027.8,712.5 L1028.8,712.3 L1029.8,712.0 L1030.8,711.7 L1031.8,711.5 L1032.8,711.3 L1033.8,711.1 L1034.8,710.9 L1035.8,710.7 L1036.8,710.6 L1037.8,710.4 L1038.8,710.3 L1039.8,710.2 L1040.8,710.2 L1041.8,710.1 L1042.8,710.1 L1043.8,710.1 L1044.8,710.1 L1045.8,710.2 L1046.8,710.3 L1047.8,710.3 L1048.8,710.5 L1049.8,710.6 L1050.8,710.7 L1051.8,710.9 L1052.8,711.1 L1053.8,711.2 L1054.8,711.4 L1055.8,711.6 L1056.8,711.9 L1057.8,712.1 L1058.8,712.3 L1059.8,712.5 L1060.8,712.8 L1061.8,713.1 L1062.8,713.4 L1063.8,713.8 L1064.8,714.3 L1065.8,714.8 L1066.8,715.3 L1067.8,715.8 L1068.8,716.3 L1069.8,716.9 L1070.8,717.5 L1071.8,718.1 L1072.8,718.7 L1073.8,719.3 L1074.8,719.9 L1075.8,720.6 L1076.8,721.2 L1077.8,721.9 L1078.8,722.6 L1079.8,723.4 L1080.8,724.1 L1081.8,724.9 L1082.8,725.7 L1083.8,726.5 L1084.8,727.3 L1085.8,728.1 L1086.8,728.9 L1087.8,729.7 L1088.8,730.5 L1089.8,731.3 L1090.8,732.0 L1091.8,732.8 L1092.8,733.5 L1093.8,734.2 L1094.8,734.9 L1095.8,735.6 L1096.8,736.3 L1097.8,736.9 L1098.8,737.6 L1099.8,738.3 L1100.8,738.9 L1101.8,739.6 L1102.8,740.2 L1103.8,740.9 L1104.8,741.5 L1105.8,742.2 L1106.8,742.8 L1107.8,743.4 L1108.8,744.0 L1109.8,744.6 L1110.8,745.2 L1111.8,745.8 L1112.8,746.4 L1113.8,747.0 L1114.8,747.5 L1115.8,748.1 L1116.8,748.6 L1117.8,749.1 L1118.8,749.6 L1119.8,750.1 L1120.8,750.6 L1121.8,751.0 L1122.8,751.5 L1123.8,751.9 L1124.8,752.4 L1125.8,752.8 L1126.8,753.2 L1127.8,753.7 L1128.8,754.1 L1129.8,754.5 L1130.8,754.9 L1131.8,755.3 L1132.8,755.7 L1133.8,756.1 L1134.8,756.5 L1135.8,756.9 L1136.8,757.3 L1137.8,757.7 L1138.8,758.0 L1139.8,758.4 L1140.8,758.7 L1141.8,759.1 L1142.8,759.4 L1143.8,759.8 L1144.8,760.1 L1145.8,760.4 L1146.8,760.8 L1147.8,761.1 L1148.8,761.4 L1149.8,761.8 L1150.8,762.1 L1151.8,762.4 L1152.8,762.7 L1153.8,763.0 L1154.8,763.3 L1155.8,763.6 L1156.8,763.9 L1157.8,764.2 L1158.8,764.5 L1159.8,764.8 L1160.8,765.1 L1161.8,765.4 L1162.8,765.7 L1163.8,766.0 L1164.8,766.3 L1165.8,766.6 L1166.8,766.8 L1167.8,767.1 L1168.8,767.4 L1169.8,767.6 L1170.8,767.9 L1171.8,768.2 L1172.8,768.4 L1173.8,768.7 L1174.8,768.9 L1175.8,769.2 L1176.8,769.4 L1177.8,769.6 L1178.8,769.8 L1179.8,770.0 L1180.8,770.2 L1180.8,770.2 L1180.8,784.9" fill="#0000ff" stroke="none" stroke-width="1" />
</g>
<rect x="670.6" y="465.6" width="510.4" height="362.29999999999995" fill="none" stroke="#000" stroke-width="2.6"/>
<line x1="717.00" y1="827.9" x2="717.00" y2="838.4" stroke="#000" stroke-width="2.6"/>
<line x1="809.80" y1="827.9" x2="809.80" y2="838.4" stroke="#000" stroke-width="2.6"/>
<line x1="902.60" y1="827.9" x2="902.60" y2="838.4" stroke="#000" stroke-width="2.6"/>
<line x1="995.40" y1="827.9" x2="995.40" y2="838.4" stroke="#000" stroke-width="2.6"/>
<line x1="1088.20" y1="827.9" x2="1088.20" y2="838.4" stroke="#000" stroke-width="2.6"/>
<line x1="1181.00" y1="827.9" x2="1181.00" y2="838.4" stroke="#000" stroke-width="2.6"/>
<line x1="670.60" y1="827.9" x2="670.60" y2="833.6999999999999" stroke="#000" stroke-width="2.6"/>
<line x1="763.40" y1="827.9" x2="763.40" y2="833.6999999999999" stroke="#000" stroke-width="2.6"/>
<line x1="856.20" y1="827.9" x2="856.20" y2="833.6999999999999" stroke="#000" stroke-width="2.6"/>
<line x1="949.00" y1="827.9" x2="949.00" y2="833.6999999999999" stroke="#000" stroke-width="2.6"/>
<line x1="1041.80" y1="827.9" x2="1041.80" y2="833.6999999999999" stroke="#000" stroke-width="2.6"/>
<line x1="1134.60" y1="827.9" x2="1134.60" y2="833.6999999999999" stroke="#000" stroke-width="2.6"/>
<text x="704.45" y="859.40" font-family='"Liberation Sans", sans-serif' font-weight="bold" font-size="22.80" textLength="25.87" lengthAdjust="spacingAndGlyphs" fill="#000" >62</text>
<text x="797.25" y="859.40" font-family='"Liberation Sans", sans-serif' font-weight="bold" font-size="22.80" textLength="25.87" lengthAdjust="spacingAndGlyphs" fill="#000" >60</text>
<text x="889.99" y="859.40" font-family='"Liberation Sans", sans-serif' font-weight="bold" font-size="22.80" textLength="25.87" lengthAdjust="spacingAndGlyphs" fill="#000" >58</text>
<text x="982.85" y="859.40" font-family='"Liberation Sans", sans-serif' font-weight="bold" font-size="22.80" textLength="25.87" lengthAdjust="spacingAndGlyphs" fill="#000" >56</text>
<text x="1075.30" y="859.40" font-family='"Liberation Sans", sans-serif' font-weight="bold" font-size="22.80" textLength="25.87" lengthAdjust="spacingAndGlyphs" fill="#000" >54</text>
<text x="1168.51" y="859.40" font-family='"Liberation Sans", sans-serif' font-weight="bold" font-size="22.80" textLength="25.87" lengthAdjust="spacingAndGlyphs" fill="#000" >52</text>
<text x="611.94" y="494.00" font-family='"Liberation Sans", sans-serif' font-weight="bold" font-size="42.00" textLength="52.59" lengthAdjust="spacingAndGlyphs" fill="#000" >(d)</text>
<text x="683.89" y="501.20" font-family='"Liberation Sans", sans-serif' font-weight="bold" font-size="29.00" textLength="81.29" lengthAdjust="spacingAndGlyphs" fill="#000" >Se 3d</text>
<text x="866.48" y="500.20" font-family='"Liberation Sans", sans-serif' font-weight="bold" font-size="24.00" textLength="56.08" lengthAdjust="spacingAndGlyphs" fill="#000" >Se-O</text>
<text x="980.38" y="567.00" font-family='"Liberation Sans", sans-serif' font-weight="bold" font-size="23.00" textLength="64.16" lengthAdjust="spacingAndGlyphs" fill="#000" >Se 3d</text>
<text x="1045.16" y="576.50" font-family='"Liberation Sans", sans-serif' font-weight="bold" font-size="20.50" textLength="29.80" lengthAdjust="spacingAndGlyphs" fill="#000" >3/2</text>
<text x="1076.18" y="633.70" font-family='"Liberation Sans", sans-serif' font-weight="bold" font-size="23.00" textLength="64.26" lengthAdjust="spacingAndGlyphs" fill="#000" >Se 3d</text>
<text x="1141.46" y="643.50" font-family='"Liberation Sans", sans-serif' font-weight="bold" font-size="20.50" textLength="29.80" lengthAdjust="spacingAndGlyphs" fill="#000" >5/2</text>
<line x1="993.60" y1="660.60" x2="1022.28" y2="595.31" stroke="#000" stroke-width="1.7"/>
<path d="M1026.50,585.70 L1025.41,598.87 L1022.48,594.86 L1017.54,595.42 Z" fill="#000"/>
<line x1="1088.75" y1="688.75" x2="1110.94" y2="657.33" stroke="#000" stroke-width="1.7"/>
<path d="M1117.00,648.75 L1113.30,661.44 L1111.23,656.92 L1106.28,656.48 Z" fill="#000"/>
<text x="779.79" y="885.60" font-family='"Liberation Sans", sans-serif' font-weight="bold" font-size="30.00" textLength="291.82" lengthAdjust="spacingAndGlyphs" fill="#000" >Binding energy (eV)</text>
<text transform="rotate(-90)" x="-774.17" y="639.90" font-family='"Liberation Sans", sans-serif' font-weight="bold" font-size="30.90" textLength="216.22" lengthAdjust="spacingAndGlyphs" fill="#000">Intensity (a.u.)</text>
</svg></body></html>
